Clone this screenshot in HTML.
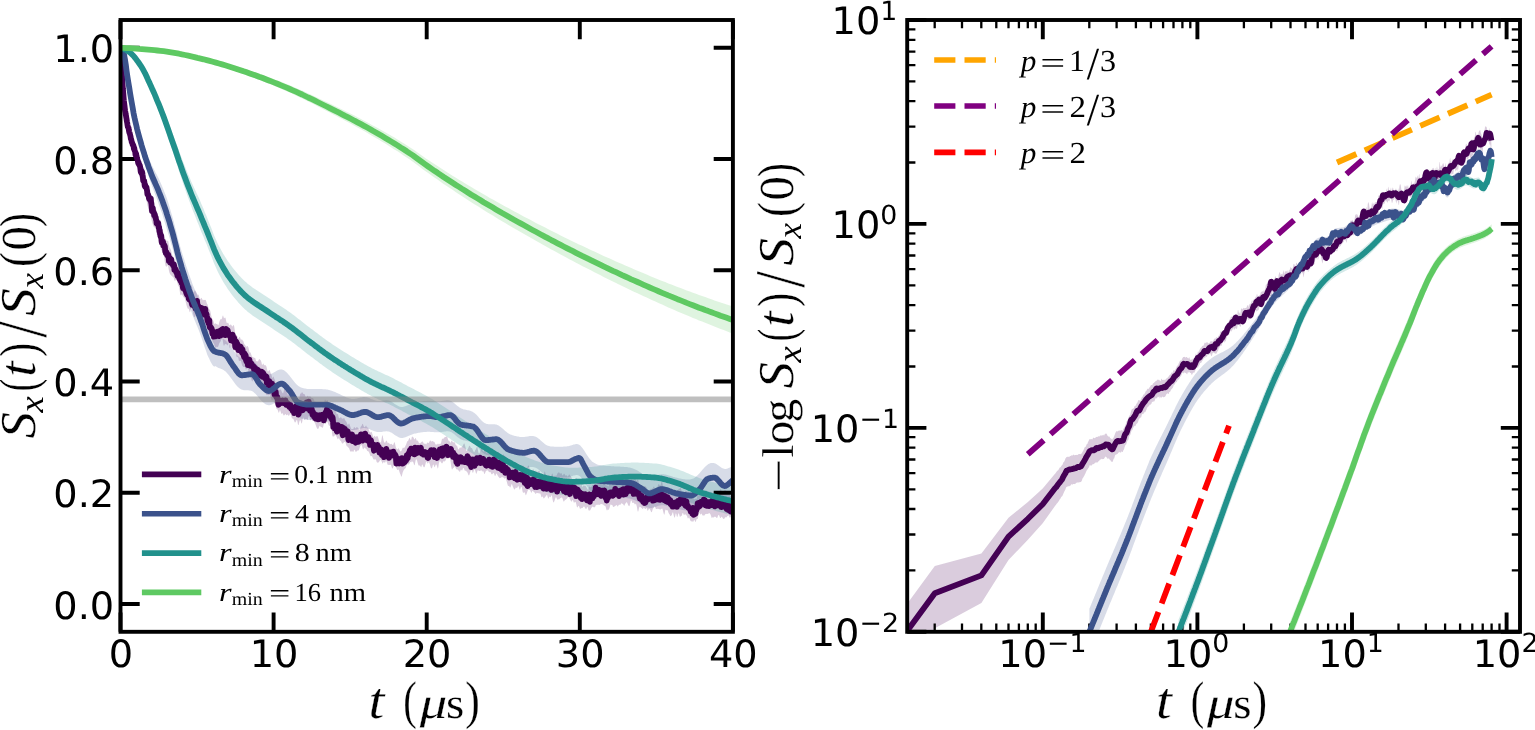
<!DOCTYPE html>
<html lang="en"><head><meta charset="utf-8"><title>Spin decay figure</title>
<style>html,body{margin:0;padding:0;background:#fff}svg{display:block;text-rendering:geometricPrecision}.tk{font-family:"DejaVu Sans","Liberation Sans",sans-serif;font-size:38.3px;fill:#000}.m{font-family:"Liberation Serif","DejaVu Serif",serif;fill:#000}.i{font-style:italic}</style></head><body>
<svg width="1535" height="730" viewBox="0 0 1535 730">
<rect width="1535" height="730" fill="#fff"/>
<defs><clipPath id="cl"><rect x="120.5" y="20.0" width="612.4" height="611.8"/></clipPath><clipPath id="cr"><rect x="907.2" y="20.0" width="612.8" height="611.8"/></clipPath></defs>
<g clip-path="url(#cl)" fill="none" stroke-linejoin="round">
<path d="M120.5 47.8L120.8 53.9L121.1 59.6L121.4 65.1L121.7 70.1L122 74.9L122.3 79.4L122.6 84L122.9 88.3L123.3 92.4L123.6 96.1L123.9 99.2L124.2 101.9L124.5 104.1L124.8 106.3L125.1 108.4L125.4 110.3L125.7 112.1L126 113.8L126.3 115.5L126.6 117.3L126.9 119.1L127.2 120.8L127.5 122.4L127.8 123.7L128.2 124.7L128.5 125.5L128.8 126.4L129.1 127.3L129.4 128.5L129.7 129.8L130 131.1L130.3 132.4L130.6 133.6L130.9 134.7L131.2 135.7L131.5 136.5L131.8 137.2L132.1 137.9L132.4 138.7L132.7 139.6L133.1 140.5L133.4 141.5L133.7 142.4L134 143.1L134.3 143.6L134.6 144L134.9 144.7L135.2 145.6L135.5 146.8L135.8 148.1L136.1 149.1L136.4 149.9L136.7 150.5L137 151L137.3 151.6L137.6 152.3L138 153.2L138.3 154.3L138.6 155.5L138.9 156.7L139.2 157.9L139.5 159.3L139.8 161L140.1 162.3L140.4 163.1L140.7 163.2L141 163.2L141.3 163.6L141.6 164.3L141.9 165.4L142.2 166.4L142.5 167.1L142.9 167.4L143.2 167.3L143.5 167.2L143.8 167.3L144.1 168L144.4 169.1L144.7 170.6L145 172.4L145.3 174.3L145.6 176.1L145.9 177.5L146.2 178.4L146.5 178.8L146.8 179.2L147.1 180.2L147.4 181.9L147.8 184.1L148.1 186.4L148.4 188.1L148.7 189L149 189.2L149.3 188.9L149.6 188.6L149.9 188.9L150.2 190L150.5 191.9L150.8 194.2L151.1 196.6L151.4 198.6L151.7 199.9L152 200.5L152.3 200.9L152.7 201.1L153 201.6L153.3 202.4L153.6 203.6L153.9 204.9L154.2 206.2L154.5 207.1L154.8 207.3L155.1 207.3L155.4 207.3L155.7 207.8L156 208.7L156.3 210.1L156.6 211.4L156.9 212.6L157.2 213.5L157.6 214.3L157.9 215.4L158.2 216.9L158.5 218.6L158.8 220.2L159.1 221.7L159.4 222.9L159.7 223.8L160 224.2L160.3 224.3L160.6 224.5L160.9 224.9L161.2 225.7L161.5 226.8L161.8 228L162.1 229.1L162.4 229.8L162.8 230.4L163.1 231.3L163.4 232.4L163.7 233.7L164 235L164.3 236.2L164.6 237.3L164.9 238.1L165.2 238.7L165.5 238.9L165.8 239.2L166.1 239.7L166.4 240.5L166.7 241.1L167 241.3L167.3 240.9L167.7 240.4L168 240.4L168.3 241.3L168.6 242.9L168.9 244.7L169.2 246.3L169.5 247.4L169.8 248L170.1 248.3L170.4 248.7L170.7 249.4L171 250.3L171.3 251.5L171.6 252.8L171.9 253.9L172.2 254.9L172.6 255.7L172.9 256.5L173.2 257.3L173.5 258.1L173.8 258.8L174.1 259.6L174.4 260.3L174.7 260.8L175 261L175.3 261L175.6 261.5L175.9 262.6L176.2 263.9L176.5 265L176.8 265.6L177.1 265.8L177.5 265.6L177.8 265.4L178.1 265.5L178.4 265.8L178.7 266.2L179 266.3L179.3 266.1L179.6 266L179.9 266.2L180.2 266.9L180.5 267.8L180.8 268.7L181.1 269.6L181.4 270.6L181.7 271.7L182 272.5L182.4 273L182.7 273.2L183 273.3L183.3 273.7L183.6 274.2L183.9 274.4L184.2 274.1L184.5 273.6L184.8 273.7L185.1 274.8L185.4 277L185.7 279.5L186 281.6L186.3 283.2L186.6 284.2L186.9 284.8L187.3 285.2L187.6 285.2L187.9 285.3L188.2 285.6L188.5 286.3L188.8 287.1L189.1 287.6L189.4 287.9L189.7 288.1L190 288.2L190.3 287.9L190.6 287.1L190.9 286L191.2 285.2L191.5 285.2L191.8 286.1L192.2 287.6L192.5 289.2L192.8 290.6L193.1 291.5L193.4 292L193.7 292.2L194 292L194.3 291.3L194.6 290.6L194.9 290.2L195.2 290.4L195.5 290.9L195.8 291.4L196.1 291.9L196.4 292.4L196.7 293.1L197.1 293.9L197.4 294.6L197.7 294.8L198 294.7L198.3 294.6L198.6 295L198.9 295.7L199.2 296.8L199.5 298L199.8 298.8L200.1 299.2L200.4 299.1L200.7 298.7L201 298.1L201.3 297.8L201.6 297.9L201.9 298.4L202.3 299.2L202.6 299.8L202.9 300.2L203.2 300.3L203.5 300L203.8 299.8L204.1 299.7L204.4 299.9L204.7 300L205 300L205.3 299.8L205.6 299.9L205.9 300.4L206.2 301.3L206.5 302.3L206.8 303.2L207.2 303.9L207.5 304.5L207.8 305.4L208.1 306.5L208.4 307.6L208.7 308.6L209 309.1L209.3 309.2L209.6 309.4L209.9 309.9L210.2 310.8L210.5 312.1L210.8 313.6L211.1 315L211.4 316.3L211.7 317.5L212.1 318.5L212.4 319.2L212.7 319.8L213 320.2L213.3 320.8L213.6 321.5L213.9 322.5L214.2 323.4L214.5 324L214.8 324L215.1 323.6L215.4 323.3L215.7 323.4L216 323.7L216.3 324L216.6 324.1L217 324.1L217.3 324.2L217.6 324.4L217.9 324.9L218.2 325.2L218.5 325L218.8 324.1L219.1 322.8L219.4 321.7L219.7 320.8L220 320.2L220.3 319.6L220.6 319.3L220.9 319.1L221.2 319.2L221.5 319.2L221.9 318.6L222.2 317.5L222.5 316.2L222.8 315.5L223.1 315.5L223.4 316.4L223.7 317.4L224 318.1L224.3 318.3L224.6 317.9L224.9 317.5L225.2 317.4L225.5 317.9L225.8 319.1L226.1 320.6L226.4 322L226.8 322.9L227.1 323.2L227.4 323.1L227.7 322.8L228 322.7L228.3 323.1L228.6 323.8L228.9 324.6L229.2 325.2L229.5 325.5L229.8 325.3L230.1 325L230.4 324.6L230.7 324.4L231 324.5L231.3 325L231.7 325.6L232 326.2L232.3 326.4L232.6 326.2L232.9 325.7L233.2 325.2L233.5 325L233.8 325.2L234.1 326.1L234.4 327.7L234.7 329.8L235 331.9L235.3 333.7L235.6 335L235.9 335.5L236.2 335.6L236.5 335.6L236.9 335.6L237.2 336L237.5 336.8L237.8 337.6L238.1 338.3L238.4 338.5L238.7 338.3L239 337.7L239.3 337L239.6 336.7L239.9 337L240.2 337.7L240.5 338.7L240.8 339.4L241.1 339.7L241.4 339.6L241.8 339.5L242.1 339.6L242.4 340L242.7 340.4L243 340.7L243.3 341.1L243.6 341.9L243.9 342.9L244.2 343.8L244.5 344.4L244.8 344.6L245.1 344.9L245.4 345.4L245.7 346.1L246 346.6L246.3 346.8L246.7 346.6L247 346.2L247.3 346L247.6 346.1L247.9 346.4L248.2 346.9L248.5 347.7L248.8 348.9L249.1 350.5L249.4 351.9L249.7 352.5L250 352.5L250.3 352.4L250.6 352.6L250.9 353.4L251.2 354.4L251.6 355.4L251.9 356.3L252.2 356.8L252.5 357L252.8 356.9L253.1 356.9L253.4 357.2L253.7 357.7L254 358L254.3 358L254.6 357.8L254.9 357.7L255.2 358.1L255.5 359L255.8 360.1L256.1 360.9L256.5 361.3L256.8 361.3L257.1 361.3L257.4 361.3L257.7 361.4L258 361.2L258.3 360.8L258.6 360.1L258.9 359.4L259.2 359.1L259.5 359.1L259.8 359.5L260.1 359.8L260.4 360L260.7 360.2L261 360.9L261.4 362.1L261.7 363.6L262 364.7L262.3 365L262.6 364.5L262.9 363.8L263.2 363.5L263.5 363.8L263.8 364.4L264.1 365L264.4 365.3L264.7 365.3L265 365.2L265.3 365.2L265.6 365.3L265.9 365.6L266.3 366.2L266.6 367.2L266.9 368.5L267.2 369.8L267.5 370.9L267.8 371.4L268.1 371.5L268.4 371.2L268.7 370.8L269 370.3L269.3 370.1L269.6 370.2L269.9 370.8L270.2 371.7L270.5 372.7L270.8 373.5L271.2 374.1L271.5 374.9L271.8 376L272.1 377.2L272.4 377.9L272.7 377.7L273 377L273.3 376.5L273.6 376.7L273.9 377.5L274.2 378.5L274.5 379.2L274.8 379.8L275.1 380.6L275.4 382.1L275.7 384.1L276 386.3L276.4 387.8L276.7 388.3L277 387.7L277.3 386.7L277.6 386L277.9 386.3L278.2 387.5L278.5 389L278.8 390.1L279.1 390.4L279.4 390.1L279.7 389.8L280 389.6L280.3 389.5L280.6 389.5L280.9 389.9L281.3 390.6L281.6 391.3L281.9 391.9L282.2 392.4L282.5 392.9L282.8 393.3L283.1 393.2L283.4 392.6L283.7 391.5L284 390.1L284.3 389.1L284.6 388.9L284.9 389.5L285.2 390.3L285.5 390.9L285.8 390.9L286.2 390.8L286.5 391L286.8 391.7L287.1 392.6L287.4 393.7L287.7 394.5L288 395L288.3 394.9L288.6 394.1L288.9 393L289.2 392.1L289.5 391.8L289.8 392.2L290.1 392.9L290.4 393.6L290.7 394.3L291.1 395L291.4 395.6L291.7 396L292 396.1L292.3 396.5L292.6 397.2L292.9 398.3L293.2 399.4L293.5 400.1L293.8 400.2L294.1 399.5L294.4 398.6L294.7 397.7L295 397.4L295.3 397.8L295.6 398.6L296 399.2L296.3 399.6L296.6 399.5L296.9 399L297.2 398.5L297.5 398.3L297.8 398.4L298.1 398.7L298.4 399.2L298.7 399.4L299 399L299.3 397.9L299.6 396.4L299.9 394.9L300.2 393.9L300.5 393.6L300.9 393.5L301.2 393.4L301.5 392.9L301.8 392.3L302.1 392.1L302.4 392.5L302.7 393.1L303 393.6L303.3 393.8L303.6 393.9L303.9 394L304.2 394.1L304.5 394.2L304.8 394.6L305.1 395.4L305.4 396.2L305.8 396.7L306.1 396.8L306.4 396.7L306.7 396.4L307 396.2L307.3 396L307.6 395.8L307.9 395.7L308.2 396L308.5 396.4L308.8 396.7L309.1 396.8L309.4 396.5L309.7 396.3L310 396.3L310.3 396.4L310.7 396.7L311 397.1L311.3 397.6L311.6 398L311.9 398.1L312.2 398L312.5 397.9L312.8 398L313.1 398.3L313.4 398.7L313.7 399.3L314 400L314.3 400.8L314.6 401.6L314.9 402.1L315.2 402.2L315.5 401.8L315.9 401.6L316.2 402L316.5 402.9L316.8 403.8L317.1 404.2L317.4 404.1L317.7 403.8L318 403.7L318.3 403.8L318.6 404.1L318.9 404.3L319.2 404.3L319.5 404.2L319.8 404.3L320.1 405.1L320.4 406.5L320.8 408L321.1 408.6L321.4 408L321.7 406.4L322 404.6L322.3 403.2L322.6 402.3L322.9 402.1L323.2 402.4L323.5 402.9L323.8 403.1L324.1 402.6L324.4 401.5L324.7 400.3L325 399.6L325.3 399.7L325.7 400.3L326 400.9L326.3 401.1L326.6 400.8L326.9 400.3L327.2 400L327.5 400.2L327.8 400.8L328.1 401.6L328.4 402.1L328.7 402.4L329 402.6L329.3 402.7L329.6 402.7L329.9 402.6L330.2 402.8L330.6 403.4L330.9 404.3L331.2 405.4L331.5 406.6L331.8 407.8L332.1 408.8L332.4 409.4L332.7 409.8L333 410L333.3 410.2L333.6 410.1L333.9 409.8L334.2 409.3L334.5 408.8L334.8 408.6L335.1 408.8L335.5 409.4L335.8 410.6L336.1 412L336.4 413.3L336.7 414.1L337 414.2L337.3 414L337.6 413.8L337.9 414.1L338.2 415L338.5 416.5L338.8 417.7L339.1 418.3L339.4 418.2L339.7 417.9L340 417.7L340.4 417.5L340.7 417.3L341 417.2L341.3 417.4L341.6 417.9L341.9 418.4L342.2 418.7L342.5 418.6L342.8 418.5L343.1 418.5L343.4 418.4L343.7 418.2L344 418L344.3 418.2L344.6 418.8L344.9 419.7L345.3 420.4L345.6 420.8L345.9 421.2L346.2 421.5L346.5 422.1L346.8 422.8L347.1 423.6L347.4 424.4L347.7 424.8L348 424.8L348.3 424.4L348.6 423.9L348.9 423.6L349.2 423.6L349.5 424.2L349.8 425L350.1 426.1L350.5 427L350.8 427.9L351.1 428.6L351.4 429L351.7 429.2L352 429.1L352.3 429L352.6 428.9L352.9 429L353.2 429L353.5 428.4L353.8 427.6L354.1 427L354.4 426.9L354.7 427.4L355 427.9L355.4 428.2L355.7 428.2L356 427.9L356.3 427.5L356.6 427.2L356.9 427.1L357.2 427.2L357.5 427.5L357.8 427.8L358.1 428.1L358.4 428.6L358.7 429.1L359 429.5L359.3 429.7L359.6 429.4L359.9 428.8L360.3 427.9L360.6 427L360.9 426.4L361.2 426.2L361.5 425.9L361.8 425.3L362.1 424.5L362.4 423.9L362.7 423.8L363 424.3L363.3 425.2L363.6 426.1L363.9 426.7L364.2 427L364.5 427.2L364.8 427.2L365.2 426.8L365.5 426.2L365.8 425.7L366.1 425.6L366.4 426.1L366.7 427L367 427.6L367.3 427.7L367.6 427.4L367.9 427.3L368.2 427.7L368.5 428.7L368.8 429.8L369.1 430.8L369.4 431.5L369.7 432.1L370.1 432.4L370.4 432.4L370.7 432.3L371 432L371.3 431.8L371.6 431.9L371.9 432.4L372.2 433.4L372.5 434.5L372.8 435.6L373.1 436.4L373.4 436.9L373.7 437L374 436.6L374.3 436.1L374.6 435.8L375 436.1L375.3 436.6L375.6 437L375.9 437L376.2 436.7L376.5 436.2L376.8 436L377.1 435.9L377.4 436.2L377.7 436.6L378 437.2L378.3 438.2L378.6 439.3L378.9 440.5L379.2 441.4L379.5 441.8L379.9 442.1L380.2 442.3L380.5 442.6L380.8 442.5L381.1 441.7L381.4 440.2L381.7 438.2L382 436.3L382.3 435.3L382.6 435.5L382.9 436.8L383.2 438.5L383.5 440.1L383.8 441.2L384.1 442.1L384.4 442.6L384.8 442.8L385.1 442.7L385.4 442.2L385.7 441.5L386 441L386.3 440.7L386.6 440.6L386.9 441L387.2 441.7L387.5 442.6L387.8 443.2L388.1 443.3L388.4 443L388.7 442.7L389 442.8L389.3 443.3L389.6 443.9L390 444.3L390.3 444.2L390.6 444.1L390.9 443.9L391.2 443.8L391.5 443.9L391.8 444.1L392.1 444.4L392.4 444.8L392.7 445L393 445.1L393.3 444.8L393.6 444.1L393.9 443.1L394.2 442.3L394.5 442.3L394.9 443.1L395.2 444.6L395.5 446.1L395.8 447.2L396.1 448L396.4 448.4L396.7 448.7L397 449.1L397.3 449.3L397.6 449.3L397.9 449.1L398.2 448.6L398.5 448.2L398.8 448.3L399.1 448.9L399.4 449.8L399.8 450.6L400.1 451.1L400.4 451.3L400.7 451.4L401 451.2L401.3 450.9L401.6 450.4L401.9 449.8L402.2 449L402.5 448.3L402.8 447.8L403.1 447.6L403.4 447.7L403.7 447.9L404 448L404.3 447.7L404.7 447.3L405 446.8L405.3 446.2L405.6 445.6L405.9 445L406.2 444.3L406.5 443.5L406.8 442.5L407.1 441.7L407.4 441.2L407.7 441.1L408 440.9L408.3 440.5L408.6 439.8L408.9 438.9L409.2 438.2L409.6 438L409.9 438.3L410.2 439.1L410.5 439.8L410.8 440.2L411.1 439.9L411.4 438.9L411.7 437.6L412 436.7L412.3 436.4L412.6 436.7L412.9 437.1L413.2 437.3L413.5 437.6L413.8 438.2L414.1 439L414.5 439.4L414.8 439.2L415.1 438.5L415.4 438L415.7 438.1L416 438.8L416.3 439.6L416.6 440.4L416.9 440.8L417.2 440.8L417.5 440.6L417.8 440.6L418.1 441L418.4 441.7L418.7 442.5L419 443.1L419.4 443.3L419.7 443.3L420 443.2L420.3 443L420.6 442.8L420.9 442.5L421.2 442.2L421.5 441.9L421.8 441.7L422.1 441.5L422.4 441.5L422.7 441.6L423 442L423.3 442.6L423.6 443.3L423.9 443.8L424.3 443.9L424.6 443.6L424.9 443.4L425.2 443.5L425.5 443.9L425.8 444.3L426.1 444.5L426.4 444.2L426.7 443.6L427 442.9L427.3 442.5L427.6 442.5L427.9 442.8L428.2 443.1L428.5 443.1L428.8 442.8L429.1 442.2L429.5 441.4L429.8 440.7L430.1 440.4L430.4 440.4L430.7 440.8L431 441.1L431.3 441.4L431.6 441.5L431.9 441.5L432.2 441.2L432.5 441L432.8 441L433.1 441.3L433.4 441.7L433.7 441.8L434 441.8L434.4 442L434.7 442.5L435 443.2L435.3 443.9L435.6 444.4L435.9 444.6L436.2 444.6L436.5 444.6L436.8 444.6L437.1 444.4L437.4 444.1L437.7 443.7L438 443.6L438.3 443.8L438.6 444.1L438.9 444.2L439.3 444.1L439.6 443.8L439.9 443.7L440.2 443.8L440.5 443.9L440.8 443.6L441.1 442.8L441.4 441.4L441.7 439.9L442 438.9L442.3 438.6L442.6 438.8L442.9 439L443.2 438.9L443.5 438.5L443.8 438L444.2 437.7L444.5 437.4L444.8 437.1L445.1 436.8L445.4 436.9L445.7 437L446 437.1L446.3 436.8L446.6 436.5L446.9 436.3L447.2 436.7L447.5 437.6L447.8 438.8L448.1 439.8L448.4 440.5L448.7 440.7L449.1 440.7L449.4 440.9L449.7 441.5L450 442.2L450.3 442.7L450.6 442.6L450.9 442L451.2 441.3L451.5 440.8L451.8 440.6L452.1 440.9L452.4 441.5L452.7 442L453 442.3L453.3 442.4L453.6 442.3L454 442.2L454.3 442.2L454.6 442.3L454.9 442.8L455.2 443.5L455.5 444.4L455.8 445.1L456.1 445.6L456.4 445.6L456.7 445.6L457 445.9L457.3 446.5L457.6 447.5L457.9 448.5L458.2 449.2L458.5 449.5L458.9 449.2L459.2 448.6L459.5 447.9L459.8 447.4L460.1 447.4L460.4 447.6L460.7 447.8L461 447.8L461.3 447.6L461.6 447.3L461.9 447L462.2 446.7L462.5 446.2L462.8 445.7L463.1 445L463.4 444.4L463.8 443.7L464.1 443.4L464.4 443.6L464.7 444.3L465 445.4L465.3 446.5L465.6 447.7L465.9 449L466.2 450.2L466.5 450.9L466.8 450.8L467.1 450.3L467.4 449.7L467.7 449.3L468 448.8L468.3 448.1L468.6 447.2L469 446.3L469.3 445.8L469.6 445.7L469.9 446L470.2 446.5L470.5 447.1L470.8 447.7L471.1 448L471.4 448L471.7 448L472 448.2L472.3 448.7L472.6 449.4L472.9 450.2L473.2 450.9L473.5 451.6L473.9 452L474.2 452.2L474.5 451.9L474.8 451.3L475.1 450.6L475.4 450L475.7 449.5L476 448.9L476.3 448.3L476.6 447.6L476.9 447.1L477.2 447L477.5 447.7L477.8 449.3L478.1 451.1L478.4 452.5L478.8 453.3L479.1 453.4L479.4 453.2L479.7 452.8L480 452.1L480.3 451.1L480.6 449.8L480.9 448.7L481.2 447.9L481.5 447.7L481.8 448.2L482.1 449.1L482.4 450.2L482.7 451.1L483 451.6L483.3 451.7L483.7 451.4L484 450.9L484.3 450.6L484.6 450.2L484.9 449.8L485.2 449.4L485.5 449.4L485.8 449.9L486.1 450.9L486.4 452.1L486.7 452.9L487 453.2L487.3 453L487.6 452.4L487.9 451.7L488.2 451.3L488.6 451.4L488.9 452L489.2 452.5L489.5 452.5L489.8 451.9L490.1 451.1L490.4 450.7L490.7 450.9L491 451.3L491.3 451.4L491.6 451.4L491.9 451.5L492.2 451.7L492.5 452.1L492.8 452.7L493.1 453.4L493.5 454.2L493.8 454.8L494.1 455.1L494.4 454.9L494.7 454.3L495 453.5L495.3 452.6L495.6 452L495.9 451.9L496.2 452.4L496.5 453L496.8 453.4L497.1 453.3L497.4 452.7L497.7 452L498 451.7L498.4 452L498.7 452.7L499 453.6L499.3 454.2L499.6 454.5L499.9 454.3L500.2 454.1L500.5 453.9L500.8 454.1L501.1 454.6L501.4 455.3L501.7 456.1L502 456.6L502.3 456.6L502.6 455.9L502.9 455L503.2 454.4L503.6 454.5L503.9 454.9L504.2 455.4L504.5 455.7L504.8 455.9L505.1 455.9L505.4 456.2L505.7 456.9L506 458L506.3 459.1L506.6 460L506.9 460.7L507.2 461.3L507.5 461.9L507.8 462.3L508.1 462.3L508.5 462.1L508.8 461.9L509.1 461.8L509.4 462L509.7 462.6L510 463.5L510.3 464.5L510.6 465.5L510.9 466.1L511.2 466.5L511.5 466.7L511.8 466.7L512.1 466.7L512.4 466.7L512.7 466.8L513 467L513.4 467.2L513.7 467.4L514 467.3L514.3 466.9L514.6 466.2L514.9 465.4L515.2 464.7L515.5 464.4L515.8 464.6L516.1 465.4L516.4 466.6L516.7 467.7L517 468.1L517.3 467.7L517.6 467L517.9 466.4L518.3 466L518.6 466L518.9 466.1L519.2 466.2L519.5 466.1L519.8 465.9L520.1 465.8L520.4 466L520.7 466.5L521 467.2L521.3 467.5L521.6 467.4L521.9 466.8L522.2 466.1L522.5 465.7L522.8 465.5L523.2 465.7L523.5 465.9L523.8 466.2L524.1 466.4L524.4 466.7L524.7 467.2L525 467.9L525.3 468.5L525.6 468.9L525.9 468.7L526.2 468L526.5 467.3L526.8 467L527.1 467L527.4 467L527.7 466.6L528.1 466L528.4 465.4L528.7 465.5L529 466.2L529.3 467.3L529.6 468.2L529.9 468.9L530.2 469.5L530.5 469.9L530.8 470.4L531.1 470.8L531.4 471.1L531.7 471.3L532 471.2L532.3 470.6L532.6 469.9L533 469.4L533.3 469.2L533.6 469.5L533.9 470.2L534.2 470.9L534.5 471.5L534.8 471.7L535.1 471.5L535.4 471L535.7 470.6L536 470.5L536.3 470.8L536.6 471.4L536.9 471.9L537.2 471.9L537.5 471.6L537.9 471.4L538.2 471.3L538.5 471.3L538.8 471.1L539.1 470.7L539.4 470.7L539.7 471.3L540 472.6L540.3 473.9L540.6 474.7L540.9 474.7L541.2 474L541.5 473.2L541.8 472.9L542.1 473.3L542.4 474.2L542.7 475L543.1 475.6L543.4 475.6L543.7 475.1L544 473.9L544.3 472.6L544.6 471.6L544.9 471.5L545.2 472.4L545.5 474L545.8 475.6L546.1 476.4L546.4 476.4L546.7 476L547 475.8L547.3 475.9L547.6 476.1L548 476.1L548.3 475.9L548.6 475.6L548.9 475.3L549.2 475.3L549.5 475.6L549.8 476.2L550.1 477.1L550.4 477.9L550.7 478L551 477.3L551.3 476L551.6 474.8L551.9 473.9L552.2 473.5L552.5 473.8L552.9 474.7L553.2 475.9L553.5 476.8L553.8 476.9L554.1 476.5L554.4 476L554.7 475.7L555 475.7L555.3 475.7L555.6 475.7L555.9 475.7L556.2 475.7L556.5 475.6L556.8 475.3L557.1 474.5L557.4 473.6L557.8 473L558.1 472.6L558.4 472.5L558.7 472.4L559 472.4L559.3 472.6L559.6 473.1L559.9 473.6L560.2 473.8L560.5 473.6L560.8 473.3L561.1 473.1L561.4 473.2L561.7 473.6L562 474.4L562.3 475.1L562.7 475.4L563 475.3L563.3 474.7L563.6 474.1L563.9 473.7L564.2 473.7L564.5 474.1L564.8 474.6L565.1 475.1L565.4 475.6L565.7 475.7L566 475.5L566.3 475.3L566.6 475.3L566.9 475.7L567.2 476.2L567.6 476.6L567.9 476.6L568.2 476.1L568.5 475.4L568.8 474.7L569.1 474.5L569.4 474.6L569.7 475L570 475.4L570.3 475.7L570.6 476L570.9 476.4L571.2 477L571.5 477.7L571.8 478.5L572.1 479.2L572.5 479.7L572.8 479.9L573.1 480.1L573.4 480.6L573.7 481.2L574 481.6L574.3 481.6L574.6 481.3L574.9 480.8L575.2 480.1L575.5 479.1L575.8 478.2L576.1 477.8L576.4 478L576.7 478.8L577 479.8L577.4 480.8L577.7 481.8L578 482.6L578.3 483L578.6 482.9L578.9 482.9L579.2 483.3L579.5 484L579.8 484.9L580.1 485.4L580.4 485.2L580.7 484.5L581 483.7L581.3 483.7L581.6 484.4L581.9 485.6L582.2 486.6L582.6 486.9L582.9 486.6L583.2 486L583.5 485.4L583.8 485.3L584.1 485.5L584.4 485.7L584.7 485.8L585 485.7L585.3 485.7L585.6 485.9L585.9 486.3L586.2 486.9L586.5 487.5L586.8 487.9L587.1 488.4L587.5 489.1L587.8 489.7L588.1 489.7L588.4 489L588.7 487.9L589 486.9L589.3 486.5L589.6 486.6L589.9 487L590.2 487.2L590.5 487.2L590.8 487.1L591.1 487L591.4 486.8L591.7 486.5L592 485.8L592.4 485.1L592.7 484.7L593 485L593.3 485.4L593.6 485.5L593.9 484.9L594.2 483.9L594.5 483L594.8 482.5L595.1 482.4L595.4 482.3L595.7 482.3L596 482.2L596.3 481.9L596.6 481.5L596.9 481.3L597.3 481.4L597.6 481.6L597.9 482L598.2 482.5L598.5 482.9L598.8 483.2L599.1 483.3L599.4 483.1L599.7 482.6L600 482.1L600.3 481.6L600.6 481.3L600.9 481.2L601.2 481.2L601.5 481L601.8 480.7L602.2 480.4L602.5 480.2L602.8 480.3L603.1 480.7L603.4 481.3L603.7 481.7L604 482.1L604.3 482.5L604.6 483.2L604.9 484.1L605.2 484.8L605.5 485.1L605.8 485.2L606.1 485.2L606.4 485.4L606.7 485.4L607.1 485.4L607.4 485.4L607.7 485.7L608 486.3L608.3 486.6L608.6 486.2L608.9 485.3L609.2 484.2L609.5 483.2L609.8 482.6L610.1 482.2L610.4 482L610.7 482.1L611 482.3L611.3 482.4L611.6 482.2L612 481.8L612.3 481.3L612.6 481L612.9 480.9L613.2 481L613.5 481.3L613.8 481.9L614.1 482.6L614.4 483.1L614.7 483.2L615 482.9L615.3 482.4L615.6 482L615.9 481.9L616.2 482.1L616.5 482.5L616.9 482.9L617.2 483.4L617.5 484.1L617.8 484.6L618.1 484.9L618.4 484.8L618.7 484.4L619 484L619.3 483.7L619.6 483.4L619.9 483.3L620.2 483.3L620.5 483.1L620.8 482.6L621.1 481.7L621.4 480.9L621.7 480.1L622.1 479.3L622.4 478.7L622.7 478.4L623 478.7L623.3 479.6L623.6 480.8L623.9 482L624.2 482.7L624.5 482.4L624.8 481.3L625.1 479.6L625.4 478.1L625.7 477.2L626 476.8L626.3 477L626.6 477.5L627 478.1L627.3 478.5L627.6 478.3L627.9 477.8L628.2 477.4L628.5 477.2L628.8 477.7L629.1 478.6L629.4 479.5L629.7 479.9L630 479.9L630.3 479.7L630.6 479.5L630.9 479.4L631.2 479.3L631.5 479.2L631.9 479.3L632.2 479.5L632.5 479.7L632.8 479.8L633.1 479.7L633.4 479.6L633.7 479.5L634 479.2L634.3 478.9L634.6 478.5L634.9 478.2L635.2 478.3L635.5 478.9L635.8 479.8L636.1 480.6L636.4 480.9L636.8 480.7L637.1 480.1L637.4 479.7L637.7 479.5L638 479.6L638.3 480.2L638.6 481.4L638.9 482.8L639.2 484.3L639.5 485.6L639.8 486.5L640.1 487.2L640.4 487.5L640.7 487.8L641 488L641.3 488.2L641.7 488.2L642 488.2L642.3 488L642.6 487.6L642.9 487.2L643.2 486.8L643.5 486.4L643.8 486.1L644.1 485.9L644.4 485.9L644.7 486.2L645 486.5L645.3 486.6L645.6 486.6L645.9 486.6L646.2 486.9L646.6 487.7L646.9 488.8L647.2 489.7L647.5 490.2L647.8 490.4L648.1 490.4L648.4 490.6L648.7 490.9L649 491.3L649.3 491.5L649.6 491.3L649.9 490.7L650.2 489.8L650.5 489.1L650.8 488.7L651.1 488.7L651.5 488.8L651.8 488.9L652.1 488.9L652.4 488.6L652.7 488.2L653 487.7L653.3 487.2L653.6 486.7L653.9 486.5L654.2 486.7L654.5 487.6L654.8 488.9L655.1 490.2L655.4 491.2L655.7 491.6L656 491.3L656.3 490.6L656.7 489.7L657 488.6L657.3 487.6L657.6 486.6L657.9 485.6L658.2 484.8L658.5 484.2L658.8 484L659.1 484.2L659.4 484.7L659.7 485.3L660 485.6L660.3 485.6L660.6 485L660.9 484L661.2 482.7L661.6 481.7L661.9 481.5L662.2 482.2L662.5 483.6L662.8 485.4L663.1 487.1L663.4 488.8L663.7 490.4L664 491.8L664.3 492.8L664.6 493.1L664.9 492.7L665.2 491.7L665.5 490.4L665.8 489.3L666.1 488.7L666.5 488.8L666.8 489.3L667.1 490L667.4 490.3L667.7 490.3L668 490L668.3 489.6L668.6 489.1L668.9 488.6L669.2 488.5L669.5 489.1L669.8 490.6L670.1 492.6L670.4 494.4L670.7 495.3L671 495L671.4 493.9L671.7 492.4L672 491.1L672.3 490.6L672.6 491.1L672.9 492.2L673.2 493.4L673.5 494L673.8 493.7L674.1 492.9L674.4 492.4L674.7 492.5L675 493.1L675.3 493.7L675.6 493.6L675.9 492.9L676.3 491.8L676.6 490.8L676.9 490.3L677.2 490.1L677.5 490.2L677.8 490.3L678.1 490L678.4 489.5L678.7 489L679 488.8L679.3 488.8L679.6 488.7L679.9 488.5L680.2 488.2L680.5 488L680.8 488.3L681.2 489.2L681.5 490.5L681.8 491.7L682.1 492.5L682.4 492.8L682.7 492.8L683 492.6L683.3 492.6L683.6 492.6L683.9 492.6L684.2 492.5L684.5 492.2L684.8 491.9L685.1 491.5L685.4 491L685.7 490.7L686.1 490.7L686.4 490.9L686.7 491.2L687 491.6L687.3 491.8L687.6 491.8L687.9 491.6L688.2 491.3L688.5 491.3L688.8 491.7L689.1 492.7L689.4 494L689.7 495.5L690 496.8L690.3 497.7L690.6 497.8L691 497.3L691.3 496.3L691.6 495.6L691.9 495.3L692.2 495.5L692.5 496.2L692.8 497L693.1 497.6L693.4 498L693.7 498.3L694 498.6L694.3 499.1L694.6 499.4L694.9 499.2L695.2 498.7L695.5 498.5L695.8 498.7L696.2 499.1L696.5 499L696.8 498.1L697.1 496.7L697.4 495.3L697.7 494.5L698 494.3L698.3 494.7L698.6 495.3L698.9 495.5L699.2 495.2L699.5 494.3L699.8 493.1L700.1 491.9L700.4 491L700.7 490.7L701.1 490.9L701.4 491.1L701.7 491L702 490.6L702.3 489.9L702.6 489.5L702.9 489.6L703.2 490L703.5 490.6L703.8 491.2L704.1 491.8L704.4 492.2L704.7 492.4L705 492L705.3 491.2L705.6 490.4L706 490L706.3 490.2L706.6 490.9L706.9 491.9L707.2 492.8L707.5 493.5L707.8 493.9L708.1 493.9L708.4 493.6L708.7 493.1L709 492.5L709.3 491.9L709.6 491.5L709.9 491.5L710.2 491.8L710.5 492.1L710.9 492.4L711.2 492.4L711.5 492.3L711.8 492.2L712.1 492.3L712.4 492.5L712.7 492.7L713 493L713.3 492.9L713.6 492.5L713.9 491.9L714.2 491.6L714.5 492L714.8 492.8L715.1 493.6L715.4 494.1L715.8 494L716.1 493.6L716.4 493L716.7 492.5L717 492.1L717.3 492L717.6 492L717.9 492.1L718.2 492.2L718.5 492.3L718.8 492.4L719.1 492.3L719.4 491.8L719.7 491L720 490L720.3 489.3L720.7 489.1L721 489.5L721.3 490.2L721.6 491L721.9 491.7L722.2 492.1L722.5 492.4L722.8 492.7L723.1 493.3L723.4 493.8L723.7 493.8L724 493L724.3 491.5L724.6 490.1L724.9 489.5L725.2 489.7L725.6 490.5L725.9 491.4L726.2 492L726.5 492.2L726.8 492.1L727.1 491.9L727.4 491.7L727.7 491.5L728 491.4L728.3 491.2L728.6 491.2L728.9 491.5L729.2 492.2L729.5 493.2L729.8 494.4L730.1 495.4L730.5 496L730.8 496.2L731.1 496.1L731.4 496L731.7 495.9L732 496L732.3 496.5L732.6 497.4L732.9 498.1L732.9 517.5L732.6 517.5L732.3 517.4L732 517.1L731.7 516.7L731.4 516.4L731.1 516.3L730.8 516.6L730.5 517L730.1 517.5L729.8 517.8L729.5 517.6L729.2 516.8L728.9 515.9L728.6 515.3L728.3 515.4L728 515.7L727.7 515.9L727.4 516.1L727.1 516.4L726.8 516.8L726.5 517.2L726.2 517.4L725.9 517.3L725.6 517.2L725.2 517.3L724.9 517.7L724.6 518.2L724.3 518.7L724 519L723.7 519.1L723.4 518.9L723.1 518.6L722.8 518.3L722.5 517.8L722.2 517.2L721.9 516.8L721.6 516.7L721.3 517L721 517.5L720.7 518L720.3 518.1L720 517.8L719.7 517.1L719.4 516.1L719.1 515.3L718.8 515L718.5 515L718.2 515.4L717.9 516.1L717.6 516.9L717.3 517.7L717 518.1L716.7 518.1L716.4 517.8L716.1 517.3L715.8 517L715.4 516.8L715.1 516.7L714.8 516.7L714.5 516.7L714.2 516.8L713.9 517.2L713.6 517.5L713.3 517.5L713 517.2L712.7 517.1L712.4 517.4L712.1 517.9L711.8 518.1L711.5 517.6L711.2 516.6L710.9 515.5L710.5 514.6L710.2 513.9L709.9 513.6L709.6 513.3L709.3 513.2L709 513.1L708.7 513.3L708.4 513.7L708.1 514L707.8 514.1L707.5 514L707.2 513.8L706.9 513.7L706.6 513.9L706.3 514L706 514.1L705.6 514.1L705.3 514.3L705 514.6L704.7 515.2L704.4 515.6L704.1 515.6L703.8 515.5L703.5 515.5L703.2 515.5L702.9 515.6L702.6 515.5L702.3 515.1L702 514.4L701.7 513.8L701.4 513.6L701.1 514L700.7 514.4L700.4 514.4L700.1 514.1L699.8 513.6L699.5 513L699.2 512.7L698.9 513L698.6 514.2L698.3 516.1L698 518L697.7 519L697.4 519.1L697.1 518.9L696.8 518.9L696.5 519.5L696.2 520.6L695.8 521.6L695.5 522.1L695.2 521.8L694.9 521L694.6 520.2L694.3 519.8L694 520.1L693.7 520.9L693.4 521.5L693.1 521.7L692.8 521.6L692.5 521.6L692.2 521.6L691.9 521.6L691.6 521.4L691.3 521.3L691 521.2L690.6 520.9L690.3 520.4L690 519.6L689.7 518.7L689.4 518L689.1 517.6L688.8 517.7L688.5 518.1L688.2 518.4L687.9 518.5L687.6 518L687.3 517L687 516L686.7 515.4L686.4 515.3L686.1 515.3L685.7 514.8L685.4 514.3L685.1 514.1L684.8 514.3L684.5 514.7L684.2 515L683.9 515L683.6 514.6L683.3 513.8L683 513.1L682.7 513L682.4 513.5L682.1 514.5L681.8 515.4L681.5 515.9L681.2 516.1L680.8 516.2L680.5 516.5L680.2 516.8L679.9 516.7L679.6 516L679.3 514.8L679 513.8L678.7 513.3L678.4 513.6L678.1 514.4L677.8 515.5L677.5 516.6L677.2 517.2L676.9 516.8L676.6 515.4L676.3 514L675.9 513.3L675.6 513.9L675.3 515.4L675 516.9L674.7 517.7L674.4 517.6L674.1 516.8L673.8 515.7L673.5 514.4L673.2 513.1L672.9 512.3L672.6 512.4L672.3 513.3L672 514.4L671.7 515.2L671.4 515.6L671 515.8L670.7 516.1L670.4 516.2L670.1 515.8L669.8 515L669.5 514.3L669.2 513.9L668.9 513.5L668.6 513L668.3 512.2L668 511.3L667.7 510.6L667.4 510.2L667.1 510.1L666.8 510.2L666.5 510.2L666.1 510L665.8 509.6L665.5 509.7L665.2 510.6L664.9 512.3L664.6 513.9L664.3 514.7L664 514.5L663.7 513.6L663.4 512.5L663.1 511.3L662.8 510.1L662.5 509L662.2 508.4L661.9 508.4L661.6 508.7L661.2 509.1L660.9 509.4L660.6 509.4L660.3 509.3L660 509.2L659.7 509.2L659.4 509.3L659.1 509.2L658.8 509.1L658.5 508.9L658.2 508.8L657.9 508.8L657.6 508.8L657.3 508.8L657 509L656.7 509.1L656.3 509.1L656 508.9L655.7 508.4L655.4 507.8L655.1 507L654.8 506.4L654.5 506.3L654.2 506.7L653.9 507.3L653.6 507.8L653.3 508.2L653 508.6L652.7 509.3L652.4 510.3L652.1 511.3L651.8 512L651.5 512.3L651.1 512L650.8 511.3L650.5 510.4L650.2 509.7L649.9 509.2L649.6 509L649.3 508.8L649 508.8L648.7 509.2L648.4 509.8L648.1 510.6L647.8 510.9L647.5 510.5L647.2 509.4L646.9 508.4L646.6 508L646.2 508.3L645.9 508.8L645.6 509L645.3 508.9L645 508.7L644.7 508.5L644.4 508.2L644.1 507.7L643.8 507.6L643.5 507.9L643.2 508.5L642.9 509.1L642.6 509.1L642.3 508.7L642 508.2L641.7 507.9L641.3 507.7L641 507.5L640.7 507.2L640.4 507L640.1 506.8L639.8 506.8L639.5 506.9L639.2 507.5L638.9 508.6L638.6 510.1L638.3 511.3L638 511.7L637.7 511.3L637.4 510L637.1 508.3L636.8 506.5L636.4 504.9L636.1 504L635.8 503.8L635.5 504.1L635.2 504.4L634.9 504.4L634.6 504L634.3 503.5L634 502.9L633.7 502.6L633.4 502.7L633.1 502.9L632.8 503.1L632.5 502.9L632.2 502.4L631.9 501.6L631.5 500.8L631.2 500.5L630.9 500.8L630.6 501.6L630.3 502.9L630 504.3L629.7 505.4L629.4 506L629.1 506.2L628.8 506.1L628.5 505.7L628.2 505.1L627.9 504.4L627.6 503.7L627.3 503L627 502.4L626.6 502.2L626.3 502.3L626 502.7L625.7 503.2L625.4 503.6L625.1 504.1L624.8 504.7L624.5 505.4L624.2 505.7L623.9 505.6L623.6 505.1L623.3 504.5L623 504.1L622.7 504L622.4 503.8L622.1 503.5L621.7 503.2L621.4 503.2L621.1 503.7L620.8 504.3L620.5 504.7L620.2 504.8L619.9 504.8L619.6 504.7L619.3 504.7L619 504.8L618.7 505.1L618.4 505.6L618.1 506.2L617.8 506.5L617.5 506.4L617.2 505.8L616.9 505.3L616.5 505L616.2 505.2L615.9 505.6L615.6 505.8L615.3 505.8L615 506L614.7 506.2L614.4 506.5L614.1 506.7L613.8 506.8L613.5 507L613.2 506.9L612.9 506.5L612.6 505.7L612.3 505.1L612 504.9L611.6 504.9L611.3 504.8L611 504.6L610.7 504.4L610.4 504.8L610.1 505.8L609.8 506.9L609.5 508L609.2 508.8L608.9 509.5L608.6 509.8L608.3 509.7L608 509.5L607.7 509.6L607.4 510L607.1 510.4L606.7 510.3L606.4 509.6L606.1 508.5L605.8 507.3L605.5 506.4L605.2 505.9L604.9 505.7L604.6 505.8L604.3 505.8L604 505.6L603.7 505.2L603.4 504.8L603.1 504.4L602.8 504.3L602.5 504.3L602.2 504.4L601.8 504.3L601.5 504.1L601.2 504L600.9 504.1L600.6 504.3L600.3 504.4L600 504.6L599.7 504.7L599.4 504.9L599.1 504.9L598.8 504.9L598.5 504.8L598.2 504.6L597.9 504.5L597.6 504.7L597.3 505.1L596.9 505.3L596.6 505L596.3 504.7L596 504.8L595.7 505.4L595.4 506.2L595.1 506.9L594.8 507.2L594.5 507.2L594.2 507.2L593.9 507.3L593.6 507.3L593.3 507L593 506.7L592.7 506.6L592.4 506.8L592 507.1L591.7 507.5L591.4 508L591.1 508.6L590.8 509.3L590.5 509.8L590.2 510.2L589.9 510.4L589.6 510.4L589.3 510.5L589 510.6L588.7 510.5L588.4 510L588.1 508.8L587.8 507.7L587.5 507L587.1 507L586.8 507.7L586.5 508.4L586.2 508.9L585.9 509L585.6 508.7L585.3 508.3L585 507.8L584.7 507.2L584.4 506.7L584.1 506.4L583.8 506.4L583.5 506.7L583.2 507.1L582.9 507.6L582.6 507.9L582.2 508.1L581.9 508.3L581.6 508.3L581.3 508.1L581 508.1L580.7 508.4L580.4 508.9L580.1 509L579.8 508.5L579.5 507.6L579.2 506.8L578.9 506.1L578.6 505.8L578.3 505.9L578 506.4L577.7 507.1L577.4 507.6L577 507.3L576.7 506.3L576.4 504.8L576.1 503.4L575.8 502.5L575.5 502L575.2 501.9L574.9 502L574.6 502.3L574.3 502.7L574 502.8L573.7 502.3L573.4 501.5L573.1 500.5L572.8 500L572.5 500.1L572.1 500.7L571.8 501.4L571.5 501.6L571.2 501.4L570.9 501L570.6 500.4L570.3 499.8L570 499.2L569.7 498.6L569.4 498.1L569.1 497.6L568.8 497.2L568.5 497L568.2 497L567.9 497.3L567.6 497.8L567.2 498.3L566.9 498.8L566.6 499L566.3 499.2L566 499.4L565.7 499.6L565.4 499.9L565.1 500.1L564.8 500.3L564.5 500.8L564.2 501.3L563.9 501.6L563.6 501.5L563.3 500.9L563 500L562.7 499L562.3 498.1L562 497.6L561.7 497.4L561.4 497.5L561.1 497.8L560.8 497.9L560.5 498.1L560.2 498.2L559.9 498.5L559.6 498.9L559.3 499.3L559 499.4L558.7 499.3L558.4 499.3L558.1 499.4L557.8 499.6L557.4 499.7L557.1 499.3L556.8 498.6L556.5 497.8L556.2 497.3L555.9 497.2L555.6 497.6L555.3 498.3L555 499.3L554.7 500.3L554.4 501.1L554.1 501.8L553.8 502.3L553.5 502.4L553.2 502.1L552.9 501L552.5 499.3L552.2 497.4L551.9 495.8L551.6 495.2L551.3 495.5L551 496.3L550.7 497L550.4 497.2L550.1 497L549.8 496.7L549.5 496.5L549.2 496.9L548.9 497.7L548.6 498.5L548.3 498.8L548 498.1L547.6 496.8L547.3 495.6L547 495L546.7 495.1L546.4 495.4L546.1 495.8L545.8 496.2L545.5 496.5L545.2 496.9L544.9 497.3L544.6 497.7L544.3 498.1L544 498.4L543.7 498.4L543.4 498L543.1 497.3L542.7 496.6L542.4 496.5L542.1 496.9L541.8 497.3L541.5 497.2L541.2 496.5L540.9 495.3L540.6 494.2L540.3 493.6L540 493.5L539.7 493.4L539.4 493.4L539.1 493.3L538.8 493.3L538.5 493.3L538.2 493.3L537.9 493.2L537.5 493.1L537.2 492.9L536.9 492.8L536.6 492.9L536.3 493.2L536 493.7L535.7 494L535.4 493.8L535.1 493.3L534.8 492.7L534.5 492.4L534.2 492.3L533.9 492.1L533.6 491.8L533.3 491.4L533 491L532.6 490.9L532.3 491.1L532 491.7L531.7 492.4L531.4 492.7L531.1 492.4L530.8 491.7L530.5 490.9L530.2 490.4L529.9 490.1L529.6 490.1L529.3 490L529 489.9L528.7 489.7L528.4 489.8L528.1 490.1L527.7 490.7L527.4 491.5L527.1 492.4L526.8 493.3L526.5 494.1L526.2 494.8L525.9 495.2L525.6 494.9L525.3 494.1L525 493.1L524.7 492.5L524.4 492.3L524.1 492.4L523.8 492.7L523.5 492.8L523.2 492.7L522.8 492.2L522.5 491.2L522.2 489.6L521.9 488.1L521.6 487.1L521.3 486.8L521 487.1L520.7 487.8L520.4 488.7L520.1 489.4L519.8 489.7L519.5 489.3L519.2 488.4L518.9 487.2L518.6 486.3L518.3 486.1L517.9 486.5L517.6 487.1L517.3 487.7L517 488.1L516.7 488.1L516.4 487.9L516.1 487.5L515.8 487.5L515.5 488L515.2 488.7L514.9 489.2L514.6 489.4L514.3 489.4L514 489.1L513.7 488.5L513.4 487.8L513 487L512.7 486.3L512.4 485.4L512.1 484.5L511.8 484.1L511.5 484.4L511.2 485.2L510.9 486.2L510.6 487L510.3 487.4L510 487.4L509.7 487L509.4 486.4L509.1 486L508.8 485.8L508.5 485.9L508.1 485.9L507.8 485.5L507.5 484.6L507.2 483.4L506.9 482.2L506.6 481.3L506.3 480.3L506 479.3L505.7 478.3L505.4 477.9L505.1 478.1L504.8 478.5L504.5 478.7L504.2 478.4L503.9 478L503.6 477.6L503.2 477.5L502.9 477.4L502.6 477.2L502.3 476.9L502 476.8L501.7 477L501.4 477.4L501.1 477.7L500.8 477.8L500.5 478L500.2 478.1L499.9 478.2L499.6 478L499.3 477.7L499 477.4L498.7 477.1L498.4 476.7L498 476.1L497.7 475.5L497.4 474.9L497.1 474.4L496.8 473.8L496.5 473.6L496.2 473.8L495.9 474.5L495.6 475.3L495.3 475.9L495 476L494.7 475.5L494.4 474.7L494.1 473.8L493.8 473.3L493.5 473.1L493.1 473.3L492.8 473.5L492.5 473.9L492.2 474.2L491.9 474.3L491.6 474.3L491.3 474L491 473.3L490.7 472.6L490.4 472L490.1 471.9L489.8 472.1L489.5 472.3L489.2 472.3L488.9 471.9L488.6 471.4L488.2 470.8L487.9 470.4L487.6 470.3L487.3 470.4L487 470.5L486.7 470.6L486.4 470.7L486.1 470.9L485.8 471.2L485.5 471.9L485.2 472.7L484.9 473.6L484.6 474.1L484.3 474L484 473.2L483.7 472.1L483.3 471.2L483 470.9L482.7 471.2L482.4 471.6L482.1 471.6L481.8 471.1L481.5 470.5L481.2 470.1L480.9 470.2L480.6 470.5L480.3 470.9L480 471L479.7 470.9L479.4 470.9L479.1 470.9L478.8 470.8L478.4 470.5L478.1 470.2L477.8 470.2L477.5 470.7L477.2 471.5L476.9 472.5L476.6 473.4L476.3 473.7L476 473.4L475.7 472.5L475.4 471.3L475.1 470.3L474.8 469.6L474.5 469.3L474.2 469.5L473.9 470.3L473.5 471.5L473.2 472.6L472.9 473L472.6 472.6L472.3 471.7L472 470.8L471.7 470.3L471.4 470.2L471.1 470.4L470.8 470.8L470.5 471.5L470.2 472.3L469.9 473.3L469.6 474.3L469.3 475.1L469 475.4L468.6 475.3L468.3 474.8L468 474L467.7 473.1L467.4 472.5L467.1 472.1L466.8 471.8L466.5 471.5L466.2 471.1L465.9 470.8L465.6 470.7L465.3 470.7L465 470.7L464.7 470.4L464.4 469.8L464.1 468.9L463.8 468.3L463.4 467.9L463.1 467.9L462.8 468.5L462.5 469.5L462.2 470.4L461.9 470.6L461.6 470.3L461.3 469.8L461 469.5L460.7 469.9L460.4 470.8L460.1 471.8L459.8 472.1L459.5 471.7L459.2 471L458.9 470.6L458.5 470.6L458.2 470.5L457.9 470.1L457.6 469.5L457.3 469.2L457 469.2L456.7 469.4L456.4 469.3L456.1 468.9L455.8 468.2L455.5 467.5L455.2 467L454.9 466.6L454.6 466.6L454.3 466.8L454 467.4L453.6 467.8L453.3 468.1L453 468.3L452.7 468.8L452.4 469.3L452.1 469.5L451.8 469.2L451.5 468.1L451.2 466.4L450.9 464.2L450.6 462L450.3 459.9L450 458.4L449.7 457.7L449.4 457.7L449.1 458L448.7 458.4L448.4 458.6L448.1 458.8L447.8 458.8L447.5 458.7L447.2 458.5L446.9 458.3L446.6 458.3L446.3 458.8L446 459.5L445.7 460.2L445.4 460.7L445.1 461L444.8 461.3L444.5 461.4L444.2 461.4L443.8 461.2L443.5 461.2L443.2 461.6L442.9 462.3L442.6 463L442.3 463.3L442 463.4L441.7 463.2L441.4 462.8L441.1 462.4L440.8 462L440.5 461.6L440.2 461.3L439.9 461.1L439.6 461.2L439.3 461.9L438.9 463.3L438.6 465.3L438.3 467.3L438 468.5L437.7 468.5L437.4 467.6L437.1 466.5L436.8 465.5L436.5 464.8L436.2 464.4L435.9 464.4L435.6 464.9L435.3 465.8L435 466.8L434.7 467.3L434.4 466.9L434 465.9L433.7 464.9L433.4 464.5L433.1 464.6L432.8 465.3L432.5 466.4L432.2 467.5L431.9 468.3L431.6 468.5L431.3 468.3L431 467.9L430.7 467.2L430.4 466.3L430.1 465.3L429.8 464.3L429.5 463.4L429.1 462.6L428.8 462.2L428.5 462.3L428.2 462.8L427.9 463.2L427.6 463.4L427.3 463.2L427 462.5L426.7 461.8L426.4 461.4L426.1 461.7L425.8 462.7L425.5 463.9L425.2 465.1L424.9 466.2L424.6 467L424.3 467.3L423.9 467.2L423.6 466.9L423.3 466.4L423 465.7L422.7 465L422.4 464.4L422.1 464.5L421.8 465.3L421.5 466.5L421.2 467.2L420.9 467.2L420.6 466.6L420.3 465.9L420 465.5L419.7 465.4L419.4 465.5L419 465.7L418.7 465.5L418.4 465L418.1 464.2L417.8 463.2L417.5 462.2L417.2 461.1L416.9 460.2L416.6 459.5L416.3 459.2L416 459.4L415.7 460.1L415.4 461.5L415.1 463.1L414.8 464.6L414.5 465.3L414.1 465L413.8 463.9L413.5 462.8L413.2 462.2L412.9 462L412.6 461.8L412.3 461.5L412 461.3L411.7 461.6L411.4 462.1L411.1 462.4L410.8 462.3L410.5 461.9L410.2 461.9L409.9 462.4L409.6 463.3L409.2 463.9L408.9 464.2L408.6 464.4L408.3 464.6L408 464.7L407.7 464.6L407.4 464.2L407.1 464.2L406.8 464.7L406.5 465.5L406.2 466.5L405.9 467.5L405.6 468.1L405.3 468.4L405 468.6L404.7 468.9L404.3 469.3L404 469.7L403.7 470.2L403.4 470.7L403.1 471.4L402.8 472.2L402.5 473.2L402.2 474.6L401.9 475.9L401.6 476.7L401.3 476.6L401 475.9L400.7 475L400.4 474.3L400.1 473.7L399.8 472.9L399.4 471.8L399.1 470.8L398.8 469.9L398.5 469.5L398.2 469.4L397.9 469.7L397.6 469.9L397.3 469.9L397 469.5L396.7 468.8L396.4 468.2L396.1 467.5L395.8 466.9L395.5 466.2L395.2 465.4L394.9 464.9L394.5 464.7L394.2 465L393.9 465.6L393.6 466.3L393.3 467L393 467.7L392.7 468.3L392.4 468.6L392.1 468.4L391.8 467.5L391.5 466.4L391.2 465.5L390.9 465L390.6 464.8L390.3 464.8L390 464.8L389.6 464.9L389.3 464.9L389 464.8L388.7 464.7L388.4 464.9L388.1 465.1L387.8 464.9L387.5 464.3L387.2 463.5L386.9 462.6L386.6 461.7L386.3 461L386 460.9L385.7 461.3L385.4 462L385.1 462.7L384.8 462.8L384.4 462.4L384.1 461.9L383.8 461.7L383.5 462.1L383.2 462.9L382.9 463.5L382.6 463.5L382.3 462.9L382 462.2L381.7 461.5L381.4 460.9L381.1 460.3L380.8 459.9L380.5 459.9L380.2 460.2L379.9 460.6L379.5 461.1L379.2 461.7L378.9 462.1L378.6 462.4L378.3 462.4L378 462.4L377.7 462.5L377.4 462.7L377.1 462.6L376.8 462.2L376.5 461.4L376.2 460.3L375.9 459.5L375.6 459.2L375.3 459.4L375 459.6L374.6 459.6L374.3 459.5L374 459.5L373.7 459.4L373.4 459.3L373.1 458.8L372.8 458.1L372.5 457.3L372.2 456.6L371.9 456.2L371.6 456.1L371.3 456.1L371 456.3L370.7 456.3L370.4 455.9L370.1 455L369.7 454L369.4 453.1L369.1 452.5L368.8 452.1L368.5 451.6L368.2 451.2L367.9 451.1L367.6 451.2L367.3 451.1L367 450.5L366.7 449.7L366.4 448.9L366.1 448.7L365.8 448.7L365.5 448.6L365.2 448.2L364.8 447.8L364.5 447.6L364.2 447.8L363.9 448.3L363.6 448.9L363.3 449.3L363 449.3L362.7 448.6L362.4 447.5L362.1 446.3L361.8 445.4L361.5 444.9L361.2 444.7L360.9 444.9L360.6 445.4L360.3 446.1L359.9 447L359.6 447.9L359.3 448.9L359 449.7L358.7 450.2L358.4 450.4L358.1 450.5L357.8 450.5L357.5 450.6L357.2 450.8L356.9 451L356.6 451.3L356.3 451.8L356 452.1L355.7 451.9L355.4 451.2L355 450.4L354.7 449.8L354.4 449.8L354.1 450.1L353.8 450.8L353.5 451.5L353.2 451.9L352.9 451.8L352.6 451.4L352.3 451.2L352 451.2L351.7 451.3L351.4 451.6L351.1 451.8L350.8 451.8L350.5 451.5L350.1 451L349.8 450.2L349.5 449.4L349.2 448.6L348.9 448.1L348.6 447.7L348.3 447.5L348 447.2L347.7 446.8L347.4 446.5L347.1 446.3L346.8 446.2L346.5 445.8L346.2 445L345.9 443.8L345.6 442.7L345.3 442.1L344.9 441.9L344.6 442L344.3 442.1L344 442.3L343.7 442.6L343.4 442.9L343.1 443.2L342.8 443.4L342.5 443.6L342.2 443.6L341.9 443.2L341.6 442.5L341.3 441.7L341 441.3L340.7 441L340.4 440.7L340 440.2L339.7 439.7L339.4 439.1L339.1 438.6L338.8 438.3L338.5 438.4L338.2 438.8L337.9 439.2L337.6 439.1L337.3 438.6L337 437.8L336.7 437.1L336.4 436.5L336.1 436L335.8 435.5L335.5 435L335.1 434.8L334.8 435.2L334.5 435.8L334.2 436.3L333.9 436.5L333.6 436.4L333.3 436.3L333 436.4L332.7 436.4L332.4 435.7L332.1 433.9L331.8 431L331.5 427.9L331.2 425.4L330.9 424.2L330.6 424.3L330.2 425L329.9 425.7L329.6 425.9L329.3 425.8L329 425.6L328.7 425.2L328.4 424.5L328.1 423.7L327.8 422.8L327.5 422.2L327.2 421.9L326.9 421.9L326.6 422.2L326.3 422.7L326 423.4L325.7 423.9L325.3 423.9L325 423.5L324.7 422.9L324.4 422.7L324.1 423L323.8 424L323.5 425.4L323.2 426.8L322.9 427.8L322.6 427.9L322.3 427.5L322 427.1L321.7 427L321.4 427.2L321.1 427.3L320.8 427.1L320.4 426.5L320.1 426L319.8 425.8L319.5 426.1L319.2 426.7L318.9 427.4L318.6 428.2L318.3 428.8L318 429.1L317.7 429.1L317.4 428.7L317.1 428.3L316.8 427.8L316.5 427.3L316.2 426.5L315.9 425.5L315.5 424.4L315.2 423.4L314.9 422.8L314.6 422.5L314.3 422.2L314 421.7L313.7 421.1L313.4 420.7L313.1 420.8L312.8 421.1L312.5 421.1L312.2 420.7L311.9 419.9L311.6 419.2L311.3 419L311 419.5L310.7 420.2L310.3 420.5L310 419.8L309.7 418.4L309.4 416.9L309.1 416L308.8 416.1L308.5 417L308.2 418.2L307.9 419.2L307.6 419.7L307.3 419.7L307 419.3L306.7 419.1L306.4 419L306.1 419.1L305.8 419.1L305.4 419.2L305.1 419.5L304.8 419.7L304.5 419.8L304.2 419.5L303.9 418.7L303.6 417.9L303.3 417.4L303 417.7L302.7 418.8L302.4 420.7L302.1 422.5L301.8 423.6L301.5 423.6L301.2 422.7L300.9 421.4L300.5 420.4L300.2 419.9L299.9 420.2L299.6 420.9L299.3 421.9L299 423.2L298.7 424.4L298.4 425.1L298.1 424.9L297.8 423.7L297.5 422L297.2 420.6L296.9 420L296.6 420.1L296.3 420.7L296 421.4L295.6 422.1L295.3 422.6L295 422.6L294.7 422.3L294.4 421.5L294.1 420.7L293.8 420L293.5 419.3L293.2 418.7L292.9 418.5L292.6 418.6L292.3 418.8L292 418.6L291.7 417.8L291.4 416.7L291.1 415.6L290.7 414.6L290.4 414L290.1 413.9L289.8 414.3L289.5 415L289.2 415.5L288.9 415.7L288.6 415.7L288.3 415.5L288 415.2L287.7 414.8L287.4 414.6L287.1 414.8L286.8 415.2L286.5 415.3L286.2 415L285.8 414.4L285.5 414L285.2 414.1L284.9 414.6L284.6 415.1L284.3 415.3L284 415.4L283.7 415.4L283.4 414.9L283.1 414.2L282.8 413.4L282.5 413.1L282.2 413.4L281.9 413.8L281.6 413.9L281.3 413.5L280.9 412.6L280.6 411.6L280.3 410.6L280 410.2L279.7 410.6L279.4 411.5L279.1 412.4L278.8 412.8L278.5 412.4L278.2 411.5L277.9 410.4L277.6 409.6L277.3 409.2L277 409.2L276.7 409.1L276.4 408.4L276 407.2L275.7 405.8L275.4 404.7L275.1 404.1L274.8 403.8L274.5 403.3L274.2 402.5L273.9 401.2L273.6 400.1L273.3 399.5L273 399.5L272.7 400L272.4 400.4L272.1 400.5L271.8 400.4L271.5 399.8L271.2 398.8L270.8 397.7L270.5 396.6L270.2 395.6L269.9 395L269.6 394.8L269.3 395L269 395.3L268.7 395.4L268.4 395.2L268.1 394.8L267.8 394.7L267.5 394.9L267.2 395.2L266.9 395.2L266.6 394.9L266.3 394.5L265.9 394L265.6 393.6L265.3 393.2L265 392.6L264.7 391.7L264.4 390.3L264.1 388.9L263.8 387.8L263.5 387.2L263.2 386.8L262.9 386.4L262.6 385.9L262.3 385.4L262 384.9L261.7 384.7L261.4 384.6L261 384.5L260.7 384.5L260.4 384.5L260.1 384.6L259.8 384.5L259.5 384.1L259.2 383.5L258.9 383L258.6 382.9L258.3 382.9L258 382.8L257.7 382.6L257.4 382.4L257.1 382.5L256.8 382.8L256.5 383L256.1 382.8L255.8 382.1L255.5 381L255.2 379.9L254.9 379.3L254.6 379.1L254.3 379.1L254 379.1L253.7 378.9L253.4 379L253.1 379.6L252.8 380.5L252.5 381.3L252.2 381.6L251.9 381.1L251.6 380L251.2 378.7L250.9 377.7L250.6 376.9L250.3 376.4L250 375.8L249.7 375L249.4 374L249.1 373L248.8 372.1L248.5 371.3L248.2 370.3L247.9 369.3L247.6 368.5L247.3 368.2L247 368.3L246.7 368.9L246.3 369.5L246 369.8L245.7 369.3L245.4 368.5L245.1 367.6L244.8 367.1L244.5 367L244.2 367L243.9 367L243.6 367L243.3 366.9L243 366.6L242.7 366.3L242.4 365.9L242.1 365.3L241.8 364.2L241.4 362.8L241.1 361.6L240.8 360.9L240.5 360.7L240.2 360.7L239.9 360.7L239.6 360.9L239.3 361.1L239 360.9L238.7 359.9L238.4 358.3L238.1 357L237.8 356.6L237.5 356.9L237.2 357.3L236.9 357.2L236.5 356.5L236.2 355.2L235.9 353.8L235.6 352.7L235.3 351.8L235 351.3L234.7 350.9L234.4 350.6L234.1 350.5L233.8 350.4L233.5 350.2L233.2 349.8L232.9 349.1L232.6 348.5L232.3 348.2L232 348L231.7 347.6L231.3 346.8L231 346.2L230.7 346.3L230.4 347.1L230.1 348.1L229.8 348.3L229.5 347.5L229.2 346L228.9 344.5L228.6 343.7L228.3 343.9L228 344.6L227.7 345.3L227.4 345.4L227.1 345.1L226.8 344.6L226.4 344.2L226.1 344.2L225.8 344.2L225.5 344.1L225.2 344.1L224.9 344.3L224.6 344.8L224.3 345.4L224 345.8L223.7 345.6L223.4 344.5L223.1 342.7L222.8 340.8L222.5 339.3L222.2 338.7L221.9 338.8L221.5 339.2L221.2 339.8L220.9 340.5L220.6 341.2L220.3 341.9L220 342.3L219.7 342.5L219.4 342.9L219.1 343.7L218.8 344.7L218.5 345.7L218.2 346.5L217.9 347L217.6 347.2L217.3 347L217 346.8L216.6 346.8L216.3 347.2L216 347.8L215.7 348L215.4 347.8L215.1 347.1L214.8 346.3L214.5 345.4L214.2 344.5L213.9 343.7L213.6 343.1L213.3 342.7L213 342.4L212.7 341.7L212.4 340.8L212.1 339.8L211.7 338.7L211.4 337.5L211.1 336.3L210.8 335.1L210.5 334L210.2 333.2L209.9 332.8L209.6 332.6L209.3 332.4L209 332.3L208.7 332.3L208.4 332L208.1 331.3L207.8 330.3L207.5 328.9L207.2 327.4L206.8 326.1L206.5 325.1L206.2 324.7L205.9 324.7L205.6 324.8L205.3 324.8L205 324.8L204.7 324.6L204.4 324.4L204.1 324.5L203.8 324.8L203.5 325.3L203.2 325.2L202.9 324.2L202.6 322.5L202.3 320.6L201.9 319.2L201.6 318.4L201.3 318.2L201 318.5L200.7 319.1L200.4 319.9L200.1 320.7L199.8 321.4L199.5 322.1L199.2 322.6L198.9 322.9L198.6 322.8L198.3 322.1L198 320.8L197.7 319.3L197.4 318.1L197.1 317.3L196.7 316.7L196.4 316.2L196.1 315.7L195.8 315.4L195.5 315.6L195.2 316.2L194.9 316.8L194.6 317.1L194.3 317.2L194 317L193.7 316.1L193.4 314.8L193.1 313.2L192.8 311.7L192.5 310.4L192.2 309.3L191.8 308.5L191.5 308L191.2 308.1L190.9 308.8L190.6 310.1L190.3 311.4L190 312.2L189.7 312.1L189.4 311.2L189.1 310L188.8 309.1L188.5 308.8L188.2 308.8L187.9 308.7L187.6 308.3L187.3 307.5L186.9 306.6L186.6 305.5L186.3 304.4L186 303.2L185.7 301.9L185.4 300.6L185.1 299.4L184.8 298.6L184.5 298L184.2 297.7L183.9 297.5L183.6 297.2L183.3 296.7L183 296.2L182.7 295.7L182.4 295.2L182 294.7L181.7 294.5L181.4 294.6L181.1 295L180.8 295.3L180.5 295.1L180.2 294.1L179.9 292.3L179.6 290.2L179.3 288.2L179 286.9L178.7 286.3L178.4 285.9L178.1 285.4L177.8 284.5L177.5 283.2L177.1 281.8L176.8 280.5L176.5 279.5L176.2 279.1L175.9 279.3L175.6 280L175.3 280.7L175 281L174.7 280.7L174.4 279.9L174.1 278.9L173.8 278L173.5 277.5L173.2 277.3L172.9 277L172.6 276.7L172.2 276.3L171.9 276L171.6 275.8L171.3 275.6L171 275.3L170.7 274.9L170.4 274.4L170.1 274L169.8 273.5L169.5 272.8L169.2 271.8L168.9 270.4L168.6 268.7L168.3 267.1L168 265.9L167.7 265.3L167.3 265.4L167 265.9L166.7 266.4L166.4 266.7L166.1 266.6L165.8 266.2L165.5 265.5L165.2 264.2L164.9 262.5L164.6 260.3L164.3 258.1L164 256L163.7 254L163.4 252.4L163.1 251.1L162.8 250.4L162.4 250.1L162.1 250.3L161.8 250.6L161.5 250.5L161.2 249.9L160.9 248.9L160.6 247.9L160.3 246.9L160 245.9L159.7 244.6L159.4 242.8L159.1 240.7L158.8 238.8L158.5 237.6L158.2 237.1L157.9 237.2L157.6 237.1L157.2 236.4L156.9 235.1L156.6 233.4L156.3 231.7L156 230.1L155.7 228.8L155.4 227.9L155.1 227.5L154.8 227.4L154.5 227.4L154.2 227.3L153.9 227L153.6 226.6L153.3 226L153 225.1L152.7 224.1L152.3 223L152 222L151.7 220.7L151.4 219.3L151.1 217.5L150.8 215.6L150.5 213.6L150.2 212.3L149.9 211.7L149.6 211.8L149.3 211.9L149 211.5L148.7 210.6L148.4 209.3L148.1 207.9L147.8 206.6L147.4 205.3L147.1 203.8L146.8 201.9L146.5 200L146.2 198.5L145.9 197.6L145.6 197.1L145.3 196.2L145 194.8L144.7 192.9L144.4 190.9L144.1 189.3L143.8 188.4L143.5 188.1L143.2 188L142.9 187.7L142.5 187.1L142.2 186L141.9 184.6L141.6 183.3L141.3 182.2L141 181.5L140.7 180.9L140.4 180.1L140.1 179.2L139.8 178.1L139.5 176.8L139.2 175.1L138.9 173.1L138.6 170.9L138.3 168.9L138 167.3L137.6 165.9L137.3 164.7L137 163.5L136.7 162.5L136.4 161.8L136.1 161.4L135.8 161.2L135.5 160.8L135.2 160L134.9 159L134.6 157.7L134.3 156.2L134 154.9L133.7 153.8L133.4 153L133.1 152.5L132.7 151.9L132.4 150.9L132.1 149.6L131.8 148L131.5 146.5L131.2 145.1L130.9 143.8L130.6 142.5L130.3 141.2L130 139.7L129.7 138.1L129.4 136.4L129.1 134.8L128.8 133.2L128.5 131.8L128.2 130.5L127.8 129.3L127.5 128.1L127.2 126.7L126.9 125.2L126.6 123.6L126.3 121.8L126 119.8L125.7 117.7L125.4 115.4L125.1 113.1L124.8 110.7L124.5 108.1L124.2 105.4L123.9 102.3L123.6 98.7L123.3 94.6L122.9 90.3L122.6 85.6L122.3 80.8L122 76L121.7 70.9L121.4 65.5L121.1 59.8L120.8 53.9L120.5 47.8Z" fill="#440154" fill-opacity="0.2" stroke="none"/>
<path d="M120.5 47.8L121.4 48.3L122.3 49.6L123.1 51.1L124 53.7L124.9 58L125.8 63.5L126.6 69.4L127.5 75.3L128.4 80.6L129.3 85.5L130.1 90.4L131 95.4L131.9 100.2L132.8 104.9L133.6 109.3L134.5 113.3L135.4 117L136.3 120.5L137.1 123.8L138 126.9L138.9 129.9L139.8 132.8L140.7 135.6L141.5 138.3L142.4 141L143.3 143.6L144.2 146.1L145 148.5L145.9 150.9L146.8 153.2L147.7 155.4L148.5 157.6L149.4 159.7L150.3 161.7L151.2 163.7L152 165.5L152.9 167.3L153.8 169L154.7 170.7L155.5 172.4L156.4 174.1L157.3 175.8L158.2 177.5L159 179.3L159.9 181.3L160.8 183.3L161.7 185.3L162.6 187.4L163.4 189.5L164.3 191.7L165.2 193.9L166.1 196.2L166.9 198.6L167.8 201.3L168.7 204.1L169.6 207L170.4 209.9L171.3 213L172.2 216L173.1 219.2L173.9 222.4L174.8 225.9L175.7 229.4L176.6 233L177.4 236.5L178.3 239.9L179.2 243.1L180.1 246.2L181 249.2L181.8 252.1L182.7 255L183.6 257.8L184.5 260.6L185.3 263.3L186.2 266L187.1 268.6L188 271.2L188.8 273.7L189.7 276.2L190.6 278.6L191.5 281L192.3 283.4L193.2 285.7L194.1 287.9L195 290L195.8 292.1L196.7 294.2L197.6 296.3L198.5 298.4L199.3 300.6L200.2 302.9L201.1 305.4L202 308L202.9 310.7L203.7 313.3L204.6 316L205.5 318.6L206.4 321.1L207.2 323.4L208.1 325.4L209 327.3L209.9 329.2L210.7 330.9L211.6 332.5L212.5 333.9L213.4 335L214.2 335.7L215.1 334.9L216 335.6L216.9 336.1L217.7 336.5L218.6 336.9L219.5 337.2L220.4 337.6L221.3 337.9L222.1 338.3L223 338.8L223.9 339.3L224.8 339.9L225.6 340.6L226.5 341.4L227.4 342.4L228.3 343.4L229.1 344.5L230 345.7L230.9 346.9L231.8 348.1L232.6 349.3L233.5 350.6L234.4 351.8L235.3 352.9L236.1 354L237 355.1L237.9 356L238.8 356.8L239.7 357.5L240.5 358.1L241.4 358.5L242.3 358.8L243.2 359.1L244 359.2L244.9 359.3L245.8 359.3L246.7 359.3L247.5 359.3L248.4 359.3L249.3 359.4L250.2 359.5L251 359.7L251.9 360.1L252.8 360.6L253.7 361.2L254.5 361.9L255.4 362.8L256.3 363.7L257.2 364.7L258 365.8L258.9 366.8L259.8 367.9L260.7 368.9L261.6 369.9L262.4 370.7L263.3 371.5L264.2 372.3L265.1 372.9L265.9 373.4L266.8 373.8L267.7 374.1L268.6 374.2L269.4 374.2L270.3 374.1L271.2 373.8L272.1 373.5L272.9 373.1L273.8 372.6L274.7 372.1L275.6 371.5L276.4 371L277.3 370.5L278.2 370.1L279.1 369.8L280 369.6L280.8 369.5L281.7 369.6L282.6 369.8L283.5 370.1L284.3 370.6L285.2 371.2L286.1 371.9L287 372.8L287.8 373.7L288.7 374.7L289.6 375.7L290.5 376.9L291.3 378L292.2 379.2L293.1 380.3L294 381.5L294.8 382.5L295.7 383.6L296.6 384.5L297.5 385.3L298.4 386L299.2 386.6L300.1 387.1L301 387.5L301.9 387.8L302.7 388.1L303.6 388.3L304.5 388.5L305.4 388.6L306.2 388.8L307.1 388.9L308 388.9L308.9 389L309.7 389L310.6 389.1L311.5 389.1L312.4 389.1L313.2 389.1L314.1 389.1L315 389.1L315.9 389.1L316.7 389.1L317.6 389.1L318.5 389.1L319.4 389.1L320.3 389.1L321.1 389.1L322 389.1L322.9 389.2L323.8 389.2L324.6 389.3L325.5 389.3L326.4 389.4L327.3 389.6L328.1 389.8L329 390L329.9 390.2L330.8 390.5L331.6 390.7L332.5 391.1L333.4 391.4L334.3 391.8L335.1 392.1L336 392.5L336.9 392.9L337.8 393.3L338.7 393.7L339.5 394.1L340.4 394.5L341.3 394.9L342.2 395.4L343 395.8L343.9 396.2L344.8 396.6L345.7 397L346.5 397.4L347.4 397.8L348.3 398.1L349.2 398.4L350 398.6L350.9 398.8L351.8 398.9L352.7 399L353.5 399L354.4 398.9L355.3 398.8L356.2 398.7L357 398.5L357.9 398.3L358.8 398L359.7 397.8L360.6 397.6L361.4 397.4L362.3 397.2L363.2 397.1L364.1 397.1L364.9 397.1L365.8 397.2L366.7 397.3L367.6 397.5L368.4 397.8L369.3 398.1L370.2 398.5L371.1 398.9L371.9 399.3L372.8 399.6L373.7 400L374.6 400.3L375.4 400.6L376.3 400.8L377.2 401L378.1 401.1L379 401.1L379.8 401.1L380.7 401L381.6 400.9L382.5 400.8L383.3 400.6L384.2 400.5L385.1 400.4L386 400.3L386.8 400.3L387.7 400.4L388.6 400.6L389.5 400.8L390.3 401.2L391.2 401.6L392.1 402.1L393 402.7L393.8 403.3L394.7 403.9L395.6 404.5L396.5 405.1L397.4 405.6L398.2 406.1L399.1 406.5L400 406.8L400.9 406.9L401.7 407L402.6 406.9L403.5 406.8L404.4 406.6L405.2 406.3L406.1 406L407 405.6L407.9 405.2L408.7 404.8L409.6 404.4L410.5 404.1L411.4 403.7L412.2 403.4L413.1 403.1L414 402.8L414.9 402.6L415.7 402.4L416.6 402.2L417.5 402L418.4 401.8L419.3 401.7L420.1 401.5L421 401.4L421.9 401.3L422.8 401.2L423.6 401.1L424.5 401L425.4 400.9L426.3 400.9L427.1 400.8L428 400.8L428.9 400.8L429.8 400.8L430.6 400.9L431.5 400.9L432.4 401L433.3 401.1L434.1 401.2L435 401.2L435.9 401.3L436.8 401.3L437.7 401.3L438.5 401.3L439.4 401.3L440.3 401.2L441.2 401.1L442 401L442.9 400.8L443.8 400.7L444.7 400.6L445.5 400.4L446.4 400.3L447.3 400.3L448.2 400.3L449 400.4L449.9 400.6L450.8 400.9L451.7 401.3L452.5 401.9L453.4 402.5L454.3 403.2L455.2 403.9L456 404.7L456.9 405.4L457.8 406.2L458.7 406.8L459.6 407.5L460.4 408L461.3 408.5L462.2 408.8L463.1 409.2L463.9 409.4L464.8 409.6L465.7 409.8L466.6 410L467.4 410.2L468.3 410.3L469.2 410.5L470.1 410.8L470.9 411L471.8 411.4L472.7 411.8L473.6 412.4L474.4 413L475.3 413.7L476.2 414.5L477.1 415.4L478 416.4L478.8 417.4L479.7 418.5L480.6 419.5L481.5 420.4L482.3 421.3L483.2 422L484.1 422.7L485 423.2L485.8 423.6L486.7 423.9L487.6 424L488.5 424.2L489.3 424.2L490.2 424.2L491.1 424.2L492 424.2L492.8 424.2L493.7 424.2L494.6 424.2L495.5 424.4L496.4 424.6L497.2 424.9L498.1 425.3L499 425.8L499.9 426.4L500.7 427L501.6 427.8L502.5 428.5L503.4 429.3L504.2 430.1L505.1 430.9L506 431.6L506.9 432.3L507.7 432.9L508.6 433.5L509.5 433.9L510.4 434.4L511.2 434.7L512.1 435.1L513 435.4L513.9 435.6L514.7 435.9L515.6 436.1L516.5 436.3L517.4 436.5L518.3 436.6L519.1 436.8L520 436.9L520.9 436.9L521.8 437L522.6 437L523.5 437L524.4 436.9L525.3 436.8L526.1 436.7L527 436.6L527.9 436.4L528.8 436.3L529.6 436.1L530.5 436L531.4 436L532.3 436L533.1 436L534 436.2L534.9 436.4L535.8 436.8L536.7 437.2L537.5 437.8L538.4 438.4L539.3 439.1L540.2 439.9L541 440.7L541.9 441.5L542.8 442.3L543.7 443L544.5 443.7L545.4 444.4L546.3 444.9L547.2 445.4L548 445.7L548.9 446L549.8 446.3L550.7 446.4L551.5 446.5L552.4 446.6L553.3 446.6L554.2 446.7L555 446.7L555.9 446.7L556.8 446.7L557.7 446.7L558.6 446.7L559.4 446.7L560.3 446.7L561.2 446.7L562.1 446.7L562.9 446.7L563.8 446.6L564.7 446.6L565.6 446.5L566.4 446.5L567.3 446.3L568.2 446.2L569.1 446L569.9 445.8L570.8 445.5L571.7 445.2L572.6 444.9L573.4 444.6L574.3 444.4L575.2 444.2L576.1 444.1L577 444.1L577.8 444.2L578.7 444.5L579.6 445.1L580.5 445.8L581.3 446.7L582.2 447.7L583.1 448.9L584 450.3L584.8 451.6L585.7 453L586.6 454.4L587.5 455.8L588.3 457.1L589.2 458.2L590.1 459.3L591 460.3L591.8 461.2L592.7 461.9L593.6 462.6L594.5 463.1L595.4 463.6L596.2 464L597.1 464.4L598 464.7L598.9 464.9L599.7 465.1L600.6 465.3L601.5 465.4L602.4 465.5L603.2 465.6L604.1 465.7L605 465.8L605.9 465.9L606.7 465.9L607.6 466L608.5 466L609.4 466.1L610.2 466.1L611.1 466.2L612 466.2L612.9 466.3L613.7 466.3L614.6 466.4L615.5 466.4L616.4 466.5L617.3 466.5L618.1 466.5L619 466.6L619.9 466.6L620.8 466.7L621.6 466.7L622.5 466.8L623.4 466.8L624.3 466.9L625.1 467L626 467.1L626.9 467.1L627.8 467.3L628.6 467.4L629.5 467.5L630.4 467.7L631.3 468L632.1 468.2L633 468.5L633.9 468.9L634.8 469.3L635.7 469.7L636.5 470.1L637.4 470.6L638.3 471.1L639.2 471.7L640 472.2L640.9 472.8L641.8 473.4L642.7 473.9L643.5 474.5L644.4 475L645.3 475.5L646.2 476L647 476.3L647.9 476.6L648.8 476.8L649.7 477L650.5 477L651.4 476.9L652.3 476.8L653.2 476.5L654.1 476.3L654.9 476L655.8 475.7L656.7 475.4L657.6 475.1L658.4 474.8L659.3 474.6L660.2 474.4L661.1 474.3L661.9 474.3L662.8 474.3L663.7 474.3L664.6 474.4L665.4 474.5L666.3 474.7L667.2 475L668.1 475.2L668.9 475.5L669.8 475.7L670.7 476L671.6 476.3L672.4 476.6L673.3 476.9L674.2 477.1L675.1 477.4L676 477.6L676.8 477.8L677.7 478.1L678.6 478.2L679.5 478.4L680.3 478.6L681.2 478.8L682.1 478.9L683 479.1L683.8 479.2L684.7 479.3L685.6 479.4L686.5 479.5L687.3 479.6L688.2 479.6L689.1 479.6L690 479.5L690.8 479.3L691.7 479.1L692.6 478.8L693.5 478.4L694.4 477.9L695.2 477.3L696.1 476.6L697 475.8L697.9 475L698.7 474.1L699.6 473.2L700.5 472.1L701.4 471.1L702.2 470.1L703.1 469L704 468L704.9 467L705.7 466.2L706.6 465.4L707.5 464.7L708.4 464.1L709.2 463.7L710.1 463.3L711 463.1L711.9 463L712.7 463L713.6 463.1L714.5 463.3L715.4 463.6L716.3 464.1L717.1 464.6L718 465.2L718.9 465.8L719.8 466.5L720.6 467.1L721.5 467.7L722.4 468.2L723.3 468.6L724.1 468.8L725 468.9L725.9 468.9L726.8 468.7L727.6 468.4L728.5 468.1L729.4 467.7L730.3 467.3L731.1 467L732 466.7L732.9 466.6L732.9 497.6L732 497.7L731.1 498L730.3 498.3L729.4 498.7L728.5 499.1L727.6 499.4L726.8 499.7L725.9 499.9L725 499.9L724.1 499.8L723.3 499.6L722.4 499.2L721.5 498.7L720.6 498.1L719.8 497.5L718.9 496.8L718 496.2L717.1 495.6L716.3 495.1L715.4 494.6L714.5 494.3L713.6 494.1L712.7 494L711.9 494L711 494.1L710.1 494.3L709.2 494.7L708.4 495.1L707.5 495.7L706.6 496.4L705.7 497.2L704.9 498L704 499L703.1 500L702.2 501.1L701.4 502.1L700.5 503.1L699.6 504.2L698.7 505.1L697.9 506L697 506.8L696.1 507.6L695.2 508.3L694.4 508.9L693.5 509.4L692.6 509.8L691.7 510.1L690.8 510.3L690 510.5L689.1 510.6L688.2 510.6L687.3 510.6L686.5 510.5L685.6 510.4L684.7 510.3L683.8 510.2L683 510.1L682.1 509.9L681.2 509.8L680.3 509.6L679.5 509.4L678.6 509.2L677.7 509.1L676.8 508.8L676 508.6L675.1 508.4L674.2 508.1L673.3 507.9L672.4 507.6L671.6 507.3L670.7 507L669.8 506.7L668.9 506.5L668.1 506.2L667.2 506L666.3 505.7L665.4 505.5L664.6 505.4L663.7 505.3L662.8 505.3L661.9 505.3L661.1 505.3L660.2 505.4L659.3 505.6L658.4 505.8L657.6 506.1L656.7 506.4L655.8 506.7L654.9 507L654.1 507.3L653.2 507.5L652.3 507.8L651.4 507.9L650.5 508L649.7 508L648.8 507.8L647.9 507.6L647 507.3L646.2 507L645.3 506.5L644.4 506L643.5 505.5L642.7 504.9L641.8 504.4L640.9 503.8L640 503.2L639.2 502.7L638.3 502.1L637.4 501.6L636.5 501.1L635.7 500.7L634.8 500.3L633.9 499.9L633 499.5L632.1 499.2L631.3 499L630.4 498.7L629.5 498.5L628.6 498.4L627.8 498.3L626.9 498.1L626 498.1L625.1 498L624.3 497.9L623.4 497.8L622.5 497.8L621.6 497.7L620.8 497.7L619.9 497.6L619 497.6L618.1 497.5L617.3 497.5L616.4 497.5L615.5 497.4L614.6 497.4L613.7 497.3L612.9 497.3L612 497.2L611.1 497.2L610.2 497.1L609.4 497.1L608.5 497L607.6 497L606.7 496.9L605.9 496.9L605 496.8L604.1 496.7L603.2 496.6L602.4 496.5L601.5 496.4L600.6 496.3L599.7 496.1L598.9 495.9L598 495.7L597.1 495.4L596.2 495L595.4 494.6L594.5 494.1L593.6 493.6L592.7 492.9L591.8 492.2L591 491.3L590.1 490.3L589.2 489.2L588.3 488.1L587.5 486.8L586.6 485.4L585.7 484L584.8 482.6L584 481.3L583.1 479.9L582.2 478.7L581.3 477.7L580.5 476.8L579.6 476.1L578.7 475.5L577.8 475.2L577 475.1L576.1 475.1L575.2 475.2L574.3 475.4L573.4 475.6L572.6 475.9L571.7 476.2L570.8 476.5L569.9 476.8L569.1 477L568.2 477.2L567.3 477.3L566.4 477.5L565.6 477.5L564.7 477.6L563.8 477.6L562.9 477.7L562.1 477.7L561.2 477.7L560.3 477.7L559.4 477.7L558.6 477.7L557.7 477.7L556.8 477.7L555.9 477.7L555 477.7L554.2 477.7L553.3 477.6L552.4 477.6L551.5 477.5L550.7 477.4L549.8 477.3L548.9 477L548 476.7L547.2 476.4L546.3 475.9L545.4 475.4L544.5 474.7L543.7 474L542.8 473.3L541.9 472.5L541 471.7L540.2 470.9L539.3 470.1L538.4 469.4L537.5 468.8L536.7 468.2L535.8 467.8L534.9 467.4L534 467.2L533.1 467L532.3 467L531.4 467L530.5 467L529.6 467.1L528.8 467.3L527.9 467.4L527 467.6L526.1 467.7L525.3 467.8L524.4 467.9L523.5 468L522.6 468L521.8 468L520.9 467.9L520 467.9L519.1 467.8L518.3 467.6L517.4 467.5L516.5 467.3L515.6 467.1L514.7 466.9L513.9 466.6L513 466.4L512.1 466.1L511.2 465.7L510.4 465.4L509.5 464.9L508.6 464.5L507.7 463.9L506.9 463.3L506 462.6L505.1 461.9L504.2 461.1L503.4 460.3L502.5 459.5L501.6 458.8L500.7 458L499.9 457.4L499 456.8L498.1 456.3L497.2 455.9L496.4 455.6L495.5 455.4L494.6 455.2L493.7 455.2L492.8 455.2L492 455.2L491.1 455.2L490.2 455.2L489.3 455.2L488.5 455.2L487.6 455L486.7 454.9L485.8 454.6L485 454.2L484.1 453.7L483.2 453L482.3 452.3L481.5 451.4L480.6 450.5L479.7 449.5L478.8 448.4L478 447.4L477.1 446.4L476.2 445.5L475.3 444.7L474.4 444L473.6 443.4L472.7 442.8L471.8 442.4L470.9 442L470.1 441.8L469.2 441.5L468.3 441.3L467.4 441.2L466.6 441L465.7 440.8L464.8 440.6L463.9 440.4L463.1 440.2L462.2 439.8L461.3 439.5L460.4 439L459.6 438.5L458.7 437.8L457.8 437.2L456.9 436.4L456 435.7L455.2 434.9L454.3 434.2L453.4 433.5L452.5 432.9L451.7 432.3L450.8 431.9L449.9 431.6L449 431.4L448.2 431.3L447.3 431.3L446.4 431.3L445.5 431.4L444.7 431.6L443.8 431.7L442.9 431.8L442 432L441.2 432.1L440.3 432.2L439.4 432.3L438.5 432.3L437.7 432.3L436.8 432.3L435.9 432.3L435 432.2L434.1 432.2L433.3 432.1L432.4 432L431.5 431.9L430.6 431.9L429.8 431.8L428.9 431.8L428 431.8L427.1 431.8L426.3 431.9L425.4 431.9L424.5 432L423.6 432.1L422.8 432.2L421.9 432.3L421 432.4L420.1 432.5L419.3 432.7L418.4 432.8L417.5 433L416.6 433.2L415.7 433.4L414.9 433.6L414 433.8L413.1 434.1L412.2 434.4L411.4 434.7L410.5 435.1L409.6 435.4L408.7 435.8L407.9 436.2L407 436.6L406.1 437L405.2 437.3L404.4 437.6L403.5 437.8L402.6 437.9L401.7 438L400.9 437.9L400 437.8L399.1 437.5L398.2 437.1L397.4 436.6L396.5 436.1L395.6 435.5L394.7 434.9L393.8 434.3L393 433.7L392.1 433.1L391.2 432.6L390.3 432.2L389.5 431.8L388.6 431.6L387.7 431.4L386.8 431.3L386 431.3L385.1 431.4L384.2 431.5L383.3 431.6L382.5 431.8L381.6 431.9L380.7 432L379.8 432.1L379 432.1L378.1 432.1L377.2 432L376.3 431.8L375.4 431.6L374.6 431.3L373.7 431L372.8 430.6L371.9 430.3L371.1 429.9L370.2 429.5L369.3 429.1L368.4 428.8L367.6 428.5L366.7 428.3L365.8 428.2L364.9 428.1L364.1 428.1L363.2 428.1L362.3 428.2L361.4 428.4L360.6 428.6L359.7 428.8L358.8 429L357.9 429.3L357 429.5L356.2 429.7L355.3 429.8L354.4 429.9L353.5 430L352.7 430L351.8 429.9L350.9 429.8L350 429.6L349.2 429.4L348.3 429.1L347.4 428.8L346.5 428.4L345.7 428L344.8 427.6L343.9 427.2L343 426.8L342.2 426.4L341.3 425.9L340.4 425.5L339.5 425.1L338.7 424.7L337.8 424.3L336.9 423.9L336 423.5L335.1 423.1L334.3 422.8L333.4 422.4L332.5 422.1L331.6 421.7L330.8 421.5L329.9 421.2L329 421L328.1 420.8L327.3 420.6L326.4 420.4L325.5 420.3L324.6 420.3L323.8 420.2L322.9 420.2L322 420.1L321.1 420.1L320.3 420.1L319.4 420.1L318.5 420.1L317.6 420.1L316.7 420.1L315.9 420.1L315 420.1L314.1 420.1L313.2 420.1L312.4 420.1L311.5 420.1L310.6 420.1L309.7 420L308.9 420L308 419.9L307.1 419.9L306.2 419.8L305.4 419.6L304.5 419.5L303.6 419.3L302.7 419.1L301.9 418.8L301 418.5L300.1 418.1L299.2 417.6L298.4 417L297.5 416.3L296.6 415.5L295.7 414.6L294.8 413.5L294 412.5L293.1 411.3L292.2 410.2L291.3 409L290.5 407.9L289.6 406.7L288.7 405.7L287.8 404.7L287 403.8L286.1 402.9L285.2 402.2L284.3 401.6L283.5 401.1L282.6 400.8L281.7 400.6L280.8 400.5L280 400.6L279.1 400.8L278.2 401.1L277.3 401.5L276.4 402L275.6 402.5L274.7 403.1L273.8 403.6L272.9 404.1L272.1 404.5L271.2 404.8L270.3 405.1L269.4 405.2L268.6 405.2L267.7 405.1L266.8 404.8L265.9 404.4L265.1 403.9L264.2 403.3L263.3 402.5L262.4 401.7L261.6 400.9L260.7 399.9L259.8 398.9L258.9 397.8L258 396.8L257.2 395.7L256.3 394.7L255.4 393.8L254.5 392.9L253.7 392.2L252.8 391.6L251.9 391.1L251 390.7L250.2 390.5L249.3 390.4L248.4 390.3L247.5 390.3L246.7 390.3L245.8 390.3L244.9 390.3L244 390.2L243.2 390.1L242.3 389.8L241.4 389.5L240.5 389.1L239.7 388.5L238.8 387.8L237.9 387L237 386.1L236.1 385L235.3 383.9L234.4 382.8L233.5 381.6L232.6 380.3L231.8 379.1L230.9 377.9L230 376.7L229.1 375.5L228.3 374.4L227.4 373.4L226.5 372.4L225.6 371.6L224.8 370.9L223.9 370.3L223 369.8L222.1 369.3L221.3 368.9L220.4 368.6L219.5 368.2L218.6 367.9L217.7 367.5L216.9 367.1L216 366.6L215.1 365.9L214.2 366.7L213.4 366L212.5 364.9L211.6 363.5L210.7 361.9L209.9 360.2L209 358.3L208.1 356.4L207.2 354.4L206.4 352.1L205.5 349.6L204.6 347L203.7 344.3L202.9 341.7L202 339L201.1 336.4L200.2 333.9L199.3 331.6L198.5 329.4L197.6 327.3L196.7 325.2L195.8 323.1L195 321L194.1 318.9L193.2 316.7L192.3 314.4L191.5 312L190.6 309.6L189.7 307.2L188.8 304.7L188 302.2L187.1 299.6L186.2 297L185.3 294.3L184.5 291.6L183.6 288.8L182.7 286L181.8 283.1L181 280.2L180.1 277.2L179.2 274.1L178.3 270.9L177.4 267.5L176.6 264L175.7 260.4L174.8 256.9L173.9 253.4L173.1 250.2L172.2 247L171.3 244L170.4 240.9L169.6 238L168.7 235.1L167.8 232.3L166.9 229.6L166.1 226.6L165.2 223.7L164.3 220.8L163.4 218.1L162.6 215.3L161.7 212.6L160.8 210L159.9 207.4L159 204.9L158.2 202.4L157.3 200.1L156.4 197.8L155.5 195.5L154.7 193.2L153.8 190.9L152.9 188.6L152 186.2L151.2 183.8L150.3 181.2L149.4 178.5L148.5 175.8L147.7 173.1L146.8 170.3L145.9 167.4L145 164.4L144.2 161.4L143.3 158.2L142.4 155L141.5 151.8L140.7 148.5L139.8 145.1L138.9 141.6L138 138L137.1 134.2L136.3 130.3L135.4 126.2L134.5 122L133.6 117.3L132.8 112.3L131.9 107L131 101.6L130.1 96L129.3 90.5L128.4 85L127.5 79.1L126.6 72.6L125.8 66L124.9 60L124 55.1L123.1 51.8L122.3 49.8L121.4 48.3L120.5 47.8Z" fill="#3b528b" fill-opacity="0.2" stroke="none"/>
<path d="M120.5 47.8L122 48.2L123.6 48.8L125.1 49.5L126.6 50L128.2 50.7L129.7 51.4L131.2 52.5L132.8 53.7L134.3 55.2L135.8 56.8L137.4 58.6L138.9 60.4L140.5 62.4L142 64.5L143.5 66.9L145.1 69.6L146.6 72.5L148.1 75.5L149.7 78.7L151.2 81.8L152.7 84.9L154.3 88.1L155.8 91.4L157.3 94.8L158.9 98.2L160.4 101.8L161.9 105.4L163.5 109.2L165 113.1L166.5 117.1L168.1 121.2L169.6 125.3L171.1 129.4L172.7 133.5L174.2 137.7L175.8 141.9L177.3 146.1L178.8 150.3L180.4 154.5L181.9 158.6L183.4 162.5L185 166.4L186.5 170.2L188 173.9L189.6 177.6L191.1 181.2L192.6 184.6L194.2 188L195.7 191.2L197.2 194.5L198.8 197.8L200.3 201.2L201.8 204.9L203.4 208.6L204.9 212.4L206.5 216.1L208 219.9L209.5 223.7L211.1 227.6L212.6 231.5L214.1 235.4L215.7 239L217.2 242.4L218.7 245.4L220.3 248.4L221.8 251.2L223.3 253.9L224.9 256.4L226.4 258.8L227.9 261.2L229.5 263.3L231 265.4L232.5 267.5L234.1 269.4L235.6 271.3L237.1 273.1L238.7 274.9L240.2 276.6L241.8 278.2L243.3 279.7L244.8 281.2L246.4 282.6L247.9 283.9L249.4 285.1L251 286.3L252.5 287.4L254 288.5L255.6 289.5L257.1 290.5L258.6 291.5L260.2 292.5L261.7 293.5L263.2 294.5L264.8 295.5L266.3 296.5L267.8 297.5L269.4 298.6L270.9 299.6L272.4 300.6L274 301.7L275.5 302.7L277.1 303.7L278.6 304.7L280.1 305.7L281.7 306.7L283.2 307.7L284.7 308.8L286.3 309.8L287.8 310.9L289.3 312L290.9 313.1L292.4 314.2L293.9 315.3L295.5 316.5L297 317.7L298.5 318.9L300.1 320.1L301.6 321.3L303.1 322.5L304.7 323.8L306.2 325L307.8 326.2L309.3 327.3L310.8 328.5L312.4 329.6L313.9 330.8L315.4 332L317 333.1L318.5 334.3L320 335.4L321.6 336.6L323.1 337.7L324.6 338.8L326.2 339.9L327.7 341L329.2 342L330.8 343.1L332.3 344.2L333.8 345.2L335.4 346.2L336.9 347.2L338.4 348.2L340 349.2L341.5 350.2L343.1 351.2L344.6 352.2L346.1 353.1L347.7 354.1L349.2 355L350.7 356L352.3 356.9L353.8 357.8L355.3 358.8L356.9 359.7L358.4 360.6L359.9 361.5L361.5 362.4L363 363.3L364.5 364.2L366.1 365.1L367.6 365.9L369.1 366.7L370.7 367.6L372.2 368.4L373.7 369.1L375.3 369.9L376.8 370.6L378.4 371.4L379.9 372.1L381.4 372.8L383 373.5L384.5 374.2L386 374.9L387.6 375.6L389.1 376.3L390.6 377.1L392.2 377.8L393.7 378.6L395.2 379.4L396.8 380.2L398.3 381L399.8 381.8L401.4 382.6L402.9 383.4L404.4 384.2L406 385L407.5 385.9L409 386.7L410.6 387.5L412.1 388.3L413.7 389.1L415.2 389.9L416.7 390.7L418.3 391.5L419.8 392.3L421.3 393.1L422.9 394L424.4 394.8L425.9 395.6L427.5 396.5L429 397.3L430.5 398.2L432.1 399.1L433.6 400.1L435.1 401.1L436.7 402.1L438.2 403.1L439.7 404.1L441.3 405.1L442.8 406.1L444.4 407.1L445.9 408.1L447.4 409.1L449 410.1L450.5 411.1L452 412.2L453.6 413.2L455.1 414.2L456.6 415.2L458.2 416.2L459.7 417.3L461.2 418.3L462.8 419.3L464.3 420.3L465.8 421.3L467.4 422.3L468.9 423.3L470.4 424.3L472 425.3L473.5 426.3L475 427.3L476.6 428.3L478.1 429.3L479.7 430.3L481.2 431.3L482.7 432.2L484.3 433.2L485.8 434.2L487.3 435.1L488.9 436.1L490.4 437L491.9 438L493.5 439L495 439.9L496.5 440.8L498.1 441.8L499.6 442.7L501.1 443.6L502.7 444.5L504.2 445.4L505.7 446.3L507.3 447.2L508.8 448L510.3 448.8L511.9 449.7L513.4 450.5L515 451.4L516.5 452.2L518 453L519.6 453.8L521.1 454.6L522.6 455.4L524.2 456.1L525.7 456.8L527.2 457.5L528.8 458.1L530.3 458.7L531.8 459.3L533.4 459.8L534.9 460.4L536.4 461L538 461.5L539.5 462L541 462.5L542.6 463L544.1 463.4L545.6 463.8L547.2 464.2L548.7 464.6L550.3 464.9L551.8 465.2L553.3 465.5L554.9 465.8L556.4 466.1L557.9 466.3L559.5 466.6L561 466.8L562.5 467.1L564.1 467.3L565.6 467.5L567.1 467.6L568.7 467.7L570.2 467.8L571.7 467.8L573.3 467.8L574.8 467.8L576.3 467.7L577.9 467.7L579.4 467.6L581 467.6L582.5 467.5L584 467.4L585.6 467.3L587.1 467.2L588.6 467.1L590.2 467L591.7 466.9L593.2 466.8L594.8 466.6L596.3 466.4L597.8 466.2L599.4 465.9L600.9 465.6L602.4 465.3L604 465L605.5 464.7L607 464.5L608.6 464.2L610.1 464L611.6 463.8L613.2 463.6L614.7 463.5L616.3 463.4L617.8 463.3L619.3 463.2L620.9 463.1L622.4 463L623.9 462.9L625.5 462.8L627 462.8L628.5 462.7L630.1 462.7L631.6 462.6L633.1 462.6L634.7 462.6L636.2 462.6L637.7 462.6L639.3 462.7L640.8 462.7L642.3 462.8L643.9 462.8L645.4 462.9L646.9 463L648.5 463.1L650 463.2L651.6 463.3L653.1 463.4L654.6 463.5L656.2 463.6L657.7 463.8L659.2 464.1L660.8 464.3L662.3 464.7L663.8 465.1L665.4 465.5L666.9 465.9L668.4 466.4L670 466.8L671.5 467.3L673 467.8L674.6 468.3L676.1 468.8L677.6 469.3L679.2 469.8L680.7 470.4L682.3 471L683.8 471.6L685.3 472.3L686.9 472.9L688.4 473.6L689.9 474.3L691.5 474.9L693 475.6L694.5 476.2L696.1 476.8L697.6 477.3L699.1 477.9L700.7 478.4L702.2 478.9L703.7 479.4L705.3 479.8L706.8 480.3L708.3 480.8L709.9 481.2L711.4 481.7L712.9 482.1L714.5 482.5L716 482.9L717.6 483.4L719.1 483.8L720.6 484.2L722.2 484.6L723.7 485L725.2 485.4L726.8 485.8L728.3 486.1L729.8 486.5L731.4 486.8L732.9 487.2L732.9 515.2L731.4 514.8L729.8 514.5L728.3 514.1L726.8 513.8L725.2 513.4L723.7 513L722.2 512.6L720.6 512.2L719.1 511.8L717.6 511.4L716 510.9L714.5 510.5L712.9 510.1L711.4 509.7L709.9 509.2L708.3 508.8L706.8 508.3L705.3 507.8L703.7 507.4L702.2 506.9L700.7 506.4L699.1 505.9L697.6 505.3L696.1 504.8L694.5 504.2L693 503.6L691.5 502.9L689.9 502.3L688.4 501.6L686.9 500.9L685.3 500.3L683.8 499.6L682.3 499L680.7 498.4L679.2 497.8L677.6 497.3L676.1 496.8L674.6 496.3L673 495.8L671.5 495.3L670 494.8L668.4 494.4L666.9 493.9L665.4 493.5L663.8 493.1L662.3 492.7L660.8 492.3L659.2 492.1L657.7 491.8L656.2 491.6L654.6 491.5L653.1 491.4L651.6 491.3L650 491.2L648.5 491.1L646.9 491L645.4 490.9L643.9 490.8L642.3 490.8L640.8 490.7L639.3 490.7L637.7 490.6L636.2 490.6L634.7 490.6L633.1 490.6L631.6 490.6L630.1 490.7L628.5 490.7L627 490.8L625.5 490.8L623.9 490.9L622.4 491L620.9 491.1L619.3 491.2L617.8 491.3L616.3 491.4L614.7 491.5L613.2 491.6L611.6 491.8L610.1 492L608.6 492.2L607 492.5L605.5 492.7L604 493L602.4 493.3L600.9 493.6L599.4 493.9L597.8 494.2L596.3 494.4L594.8 494.6L593.2 494.8L591.7 494.9L590.2 495L588.6 495.1L587.1 495.2L585.6 495.3L584 495.4L582.5 495.5L581 495.6L579.4 495.6L577.9 495.7L576.3 495.7L574.8 495.8L573.3 495.8L571.7 495.8L570.2 495.8L568.7 495.7L567.1 495.6L565.6 495.5L564.1 495.3L562.5 495.1L561 494.8L559.5 494.6L557.9 494.3L556.4 494.1L554.9 493.8L553.3 493.5L551.8 493.2L550.3 492.9L548.7 492.6L547.2 492.2L545.6 491.8L544.1 491.4L542.6 491L541 490.5L539.5 490L538 489.5L536.4 489L534.9 488.4L533.4 487.8L531.8 487.3L530.3 486.7L528.8 486.1L527.2 485.5L525.7 484.8L524.2 484.1L522.6 483.4L521.1 482.6L519.6 481.8L518 481L516.5 480.2L515 479.4L513.4 478.5L511.9 477.7L510.3 476.8L508.8 476L507.3 475.2L505.7 474.3L504.2 473.4L502.7 472.5L501.1 471.6L499.6 470.7L498.1 469.8L496.5 468.8L495 467.9L493.5 467L491.9 466L490.4 465L488.9 464.1L487.3 463.1L485.8 462.2L484.3 461.2L482.7 460.2L481.2 459.3L479.7 458.3L478.1 457.3L476.6 456.3L475 455.3L473.5 454.3L472 453.3L470.4 452.3L468.9 451.3L467.4 450.3L465.8 449.3L464.3 448.3L462.8 447.3L461.2 446.3L459.7 445.3L458.2 444.2L456.6 443.2L455.1 442.2L453.6 441.2L452 440.2L450.5 439.1L449 438.1L447.4 437.1L445.9 436.1L444.4 435.1L442.8 434.1L441.3 433.1L439.7 432.1L438.2 431.1L436.7 430.1L435.1 429.1L433.6 428.1L432.1 427.1L430.5 426.2L429 425.3L427.5 424.5L425.9 423.6L424.4 422.8L422.9 422L421.3 421.1L419.8 420.3L418.3 419.5L416.7 418.7L415.2 417.9L413.7 417.1L412.1 416.3L410.6 415.5L409 414.7L407.5 413.9L406 413L404.4 412.2L402.9 411.4L401.4 410.6L399.8 409.8L398.3 409L396.8 408.2L395.2 407.4L393.7 406.6L392.2 405.8L390.6 405.1L389.1 404.3L387.6 403.6L386 402.9L384.5 402.2L383 401.5L381.4 400.8L379.9 400.1L378.4 399.4L376.8 398.6L375.3 397.9L373.7 397.1L372.2 396.4L370.7 395.6L369.1 394.7L367.6 393.9L366.1 393.1L364.5 392.2L363 391.3L361.5 390.4L359.9 389.5L358.4 388.6L356.9 387.7L355.3 386.8L353.8 385.8L352.3 384.9L350.7 384L349.2 383L347.7 382.1L346.1 381.1L344.6 380.2L343.1 379.2L341.5 378.2L340 377.2L338.4 376.2L336.9 375.2L335.4 374.2L333.8 373.2L332.3 372.2L330.8 371.1L329.2 370L327.7 369L326.2 367.9L324.6 366.8L323.1 365.7L321.6 364.6L320 363.4L318.5 362.3L317 361.1L315.4 360L313.9 358.8L312.4 357.6L310.8 356.5L309.3 355.3L307.8 354.2L306.2 353L304.7 351.8L303.1 350.5L301.6 349.3L300.1 348.1L298.5 346.9L297 345.7L295.5 344.5L293.9 343.3L292.4 342.2L290.9 341.1L289.3 340L287.8 338.9L286.3 337.8L284.7 336.8L283.2 335.7L281.7 334.7L280.1 333.7L278.6 332.7L277.1 331.7L275.5 330.7L274 329.7L272.4 328.6L270.9 327.6L269.4 326.6L267.8 325.5L266.3 324.5L264.8 323.5L263.2 322.5L261.7 321.5L260.2 320.5L258.6 319.5L257.1 318.5L255.6 317.5L254 316.5L252.5 315.4L251 314.3L249.4 313.1L247.9 311.9L246.4 310.6L244.8 309.2L243.3 307.7L241.8 306.2L240.2 304.6L238.7 302.9L237.1 301.1L235.6 299.3L234.1 297.4L232.5 295.5L231 293.4L229.5 291.3L227.9 289.2L226.4 286.8L224.9 284.4L223.3 281.9L221.8 279.2L220.3 276.4L218.7 273.4L217.2 270.4L215.7 267L214.1 263.4L212.6 259.5L211.1 255.6L209.5 251.7L208 247.9L206.5 244.1L204.9 240.4L203.4 236.6L201.8 232.9L200.3 229.2L198.8 225.3L197.2 221.5L195.7 217.6L194.2 213.8L192.6 209.9L191.1 205.8L189.6 201.7L188 197.5L186.5 193.2L185 188.8L183.4 184.4L181.9 179.8L180.4 175.2L178.8 170.4L177.3 165.6L175.8 160.8L174.2 156L172.7 151.3L171.1 146.6L169.6 141.9L168.1 137.2L166.5 132.6L165 128L163.5 123.5L161.9 119.2L160.4 115L158.9 110.9L157.3 106.8L155.8 102.9L154.3 99L152.7 95.2L151.2 91.5L149.7 87.9L148.1 84.2L146.6 80.6L145.1 77.1L143.5 73.8L142 70.8L140.5 68.2L138.9 65.6L137.4 63.2L135.8 60.9L134.3 58.7L132.8 56.6L131.2 54.8L129.7 53.2L128.2 51.8L126.6 50.6L125.1 49.5L123.6 48.8L122 48.2L120.5 47.8Z" fill="#21918c" fill-opacity="0.2" stroke="none"/>
<path d="M120.5 47.3L123.6 47.4L126.7 47.5L129.7 47.6L132.8 47.8L135.9 47.9L139 48.1L142 48.3L145.1 48.5L148.2 48.7L151.3 48.9L154.4 49.2L157.4 49.4L160.5 49.7L163.6 50L166.7 50.4L169.7 50.8L172.8 51.2L175.9 51.7L179 52.3L182 52.8L185.1 53.4L188.2 54.1L191.3 54.7L194.4 55.4L197.4 56L200.5 56.7L203.6 57.4L206.7 58.1L209.7 58.8L212.8 59.6L215.9 60.4L219 61.2L222.1 62.1L225.1 62.9L228.2 63.8L231.3 64.7L234.4 65.7L237.4 66.6L240.5 67.6L243.6 68.5L246.7 69.5L249.8 70.5L252.8 71.5L255.9 72.6L259 73.6L262.1 74.7L265.1 75.8L268.2 76.9L271.3 78.1L274.4 79.2L277.4 80.4L280.5 81.6L283.6 82.8L286.7 84.1L289.8 85.3L292.8 86.6L295.9 87.9L299 89.3L302.1 90.6L305.1 92L308.2 93.4L311.3 94.8L314.4 96.3L317.5 97.7L320.5 99.2L323.6 100.7L326.7 102.1L329.8 103.6L332.8 105.1L335.9 106.5L339 108L342.1 109.5L345.1 111L348.2 112.6L351.3 114.1L354.4 115.6L357.5 117.2L360.5 118.8L363.6 120.4L366.7 122L369.8 123.7L372.8 125.4L375.9 127.1L379 128.8L382.1 130.5L385.2 132.2L388.2 134L391.3 135.8L394.4 137.6L397.5 139.5L400.5 141.4L403.6 143.3L406.7 145.2L409.8 147.2L412.9 149.2L415.9 151.3L419 153.5L422.1 155.7L425.2 157.9L428.2 160L431.3 162L434.4 164L437.5 166L440.5 168L443.6 170L446.7 172L449.8 173.9L452.9 175.9L455.9 177.8L459 179.7L462.1 181.5L465.2 183.4L468.2 185.3L471.3 187.1L474.4 188.9L477.5 190.8L480.6 192.6L483.6 194.3L486.7 196.1L489.8 197.9L492.9 199.6L495.9 201.3L499 203L502.1 204.8L505.2 206.4L508.3 208.1L511.3 209.8L514.4 211.5L517.5 213.1L520.6 214.8L523.6 216.4L526.7 218L529.8 219.6L532.9 221.2L535.9 222.9L539 224.4L542.1 226L545.2 227.6L548.3 229.2L551.3 230.7L554.4 232.3L557.5 233.8L560.6 235.4L563.6 236.9L566.7 238.4L569.8 239.9L572.9 241.4L576 242.9L579 244.4L582.1 245.8L585.2 247.3L588.3 248.7L591.3 250.2L594.4 251.6L597.5 253L600.6 254.5L603.6 255.9L606.7 257.3L609.8 258.6L612.9 260L616 261.4L619 262.8L622.1 264.1L625.2 265.5L628.3 266.8L631.3 268.1L634.4 269.4L637.5 270.7L640.6 272L643.7 273.3L646.7 274.6L649.8 275.9L652.9 277.2L656 278.4L659 279.7L662.1 280.9L665.2 282.1L668.3 283.4L671.4 284.6L674.4 285.8L677.5 287L680.6 288.1L683.7 289.3L686.7 290.4L689.8 291.6L692.9 292.7L696 293.8L699 294.9L702.1 296L705.2 297.1L708.3 298.2L711.4 299.3L714.4 300.4L717.5 301.4L720.6 302.4L723.7 303.5L726.7 304.5L729.8 305.5L732.9 306.5L732.9 333.5L729.8 332.4L726.7 331.2L723.7 330L720.6 328.9L717.5 327.7L714.4 326.5L711.4 325.3L708.3 324.1L705.2 322.8L702.1 321.6L699 320.4L696 319.1L692.9 317.9L689.8 316.6L686.7 315.3L683.7 314L680.6 312.7L677.5 311.4L674.4 310.1L671.4 308.7L668.3 307.4L665.2 306L662.1 304.6L659 303.2L656 301.8L652.9 300.4L649.8 299L646.7 297.6L643.7 296.2L640.6 294.8L637.5 293.3L634.4 291.9L631.3 290.4L628.3 289L625.2 287.5L622.1 286L619 284.5L616 283L612.9 281.5L609.8 280L606.7 278.4L603.6 276.9L600.6 275.3L597.5 273.8L594.4 272.2L591.3 270.6L588.3 269.1L585.2 267.5L582.1 265.9L579 264.3L576 262.7L572.9 261L569.8 259.4L566.7 257.8L563.6 256.1L560.6 254.4L557.5 252.8L554.4 251.1L551.3 249.4L548.3 247.7L545.2 246L542.1 244.3L539 242.6L535.9 240.8L532.9 239.1L529.8 237.3L526.7 235.6L523.6 233.8L520.6 232L517.5 230.2L514.4 228.5L511.3 226.7L508.3 224.9L505.2 223L502.1 221.2L499 219.4L495.9 217.5L492.9 215.6L489.8 213.8L486.7 211.9L483.6 210L480.6 208L477.5 206.1L474.4 204.2L471.3 202.2L468.2 200.2L465.2 198.2L462.1 196.2L459 194.2L455.9 192.2L452.9 190.1L449.8 188.1L446.7 186L443.6 183.9L440.5 181.8L437.5 179.6L434.4 177.5L431.3 175.3L428.2 173.1L425.2 170.9L422.1 168.7L419 166.3L415.9 163.9L412.9 161.7L409.8 159.6L406.7 157.5L403.6 155.4L400.5 153.3L397.5 151.3L394.4 149.4L391.3 147.4L388.2 145.5L385.2 143.6L382.1 141.7L379 139.8L375.9 138L372.8 136.2L369.8 134.4L366.7 132.6L363.6 130.8L360.5 129.1L357.5 127.4L354.4 125.7L351.3 124L348.2 122.3L345.1 120.7L342.1 119L339 117.4L335.9 115.8L332.8 114.2L329.8 112.6L326.7 111L323.6 109.4L320.5 107.8L317.5 106.2L314.4 104.6L311.3 103L308.2 101.5L305.1 100L302.1 98.4L299 97L295.9 95.5L292.8 94L289.8 92.6L286.7 91.3L283.6 89.9L280.5 88.6L277.4 87.2L274.4 85.9L271.3 84.6L268.2 83.4L265.1 82.1L262.1 80.9L259 79.7L255.9 78.5L252.8 77.3L249.8 76.2L246.7 75.1L243.6 74L240.5 72.9L237.4 71.8L234.4 70.8L231.3 69.7L228.2 68.7L225.1 67.7L222.1 66.7L219 65.7L215.9 64.8L212.8 63.8L209.7 63L206.7 62.1L203.6 61.3L200.5 60.5L197.4 59.7L194.4 58.9L191.3 58.1L188.2 57.4L185.1 56.6L182 55.9L179 55.2L175.9 54.6L172.8 54L169.7 53.4L166.7 52.9L163.6 52.4L160.5 52L157.4 51.6L154.4 51.2L151.3 50.9L148.2 50.5L145.1 50.2L142 49.9L139 49.6L135.9 49.4L132.8 49.1L129.7 48.9L126.7 48.7L123.6 48.5L120.5 48.3Z" fill="#5ec962" fill-opacity="0.2" stroke="none"/>
</g>
<path d="M120.5 631.8v-19.2M120.5 20.0v19.2M273.6 631.8v-19.2M273.6 20.0v19.2M426.7 631.8v-19.2M426.7 20.0v19.2M579.8 631.8v-19.2M579.8 20.0v19.2M732.9 631.8v-19.2M732.9 20.0v19.2M120.5 604h19.2M732.9 604h-19.2M120.5 492.8h19.2M732.9 492.8h-19.2M120.5 381.5h19.2M732.9 381.5h-19.2M120.5 270.3h19.2M732.9 270.3h-19.2M120.5 159h19.2M732.9 159h-19.2M120.5 47.8h19.2M732.9 47.8h-19.2" stroke="#000" stroke-width="3.9" fill="none"/>
<g clip-path="url(#cl)" fill="none" stroke-linejoin="round">
<path d="M120.5 47.8L120.8 53.9L121.1 59.7L121.4 65.2L121.7 70.5L122 75.3L122.3 80.1L122.6 84.9L122.9 89.1L123.3 93.3L123.6 97.4L123.9 100.8L124.2 103.5L124.5 105.7L124.8 108.3L125.1 110.7L125.4 112.2L125.7 114.3L126 115.7L126.3 117.6L126.6 119.3L126.9 121.5L127.2 122.9L127.5 125L127.8 126.6L128.2 127.4L128.5 127.7L128.8 129.8L129.1 131.6L129.4 132.7L129.7 133L130 134.5L130.3 135.5L130.6 137L130.9 139.2L131.2 139.3L131.5 140.8L131.8 142.4L132.1 142.4L132.4 143.5L132.7 144.7L133.1 145.3L133.4 145.3L133.7 147.4L134 149.2L134.3 148.1L134.6 150.5L134.9 151.1L135.2 151.8L135.5 155L135.8 154.8L136.1 153.6L136.4 155.6L136.7 157.3L137 157.8L137.3 159.4L137.6 160L138 161.9L138.3 163.5L138.6 162.4L138.9 163.7L139.2 164.3L139.5 165.5L139.8 165.2L140.1 166.7L140.4 168.9L140.7 171.7L141 172.6L141.3 170.3L141.6 171.7L141.9 174.1L142.2 172.2L142.5 174.7L142.9 177.5L143.2 180.7L143.5 181.1L143.8 180.2L144.1 180.8L144.4 182.8L144.7 186.1L145 184.6L145.3 185.2L145.6 187.2L145.9 187.5L146.2 187.7L146.5 187.4L146.8 189.6L147.1 190.9L147.4 194.3L147.8 194.7L148.1 194.5L148.4 195.9L148.7 196L149 198.6L149.3 198.6L149.6 199.4L149.9 198.1L150.2 200.3L150.5 198.3L150.8 198.6L151.1 202.3L151.4 203.5L151.7 207.1L152 210.9L152.3 207.4L152.7 207.7L153 210.4L153.3 212L153.6 211.9L153.9 212.9L154.2 215.5L154.5 215.8L154.8 214.4L155.1 216.4L155.4 217.6L155.7 217.3L156 219.6L156.3 220L156.6 223.5L156.9 223.8L157.2 224L157.6 223.9L157.9 224.6L158.2 222.9L158.5 225.3L158.8 228.3L159.1 226.9L159.4 231.1L159.7 229.9L160 233.7L160.3 233.7L160.6 236.7L160.9 236.5L161.2 235.5L161.5 240.8L161.8 242.7L162.1 241L162.4 240.9L162.8 241.6L163.1 242L163.4 245.5L163.7 244.6L164 245.3L164.3 245.1L164.6 245.7L164.9 246.7L165.2 251.3L165.5 251.3L165.8 253.2L166.1 252.6L166.4 252L166.7 253.1L167 253.9L167.3 255.4L167.7 255.7L168 255.8L168.3 254.8L168.6 256.9L168.9 261L169.2 258.2L169.5 257.6L169.8 260.8L170.1 262.5L170.4 258.9L170.7 260.1L171 259.9L171.3 259.3L171.6 263.5L171.9 263.8L172.2 263.9L172.6 263.5L172.9 265.4L173.2 264.9L173.5 265.3L173.8 264.3L174.1 265.4L174.4 269.7L174.7 268.5L175 269.6L175.3 269.7L175.6 269.4L175.9 270.2L176.2 272.3L176.5 271.7L176.8 272.2L177.1 273.6L177.5 276.1L177.8 276.1L178.1 275.4L178.4 273.7L178.7 273.4L179 277.7L179.3 278.8L179.6 277.7L179.9 279L180.2 280.3L180.5 281.1L180.8 281.2L181.1 280.2L181.4 282.5L181.7 280L182 283L182.4 284.1L182.7 285.8L183 288.2L183.3 287.5L183.6 283.1L183.9 282.9L184.2 287.1L184.5 286.3L184.8 288.5L185.1 290.2L185.4 286.9L185.7 286.9L186 291.8L186.3 293.2L186.6 293.6L186.9 294.5L187.3 293.5L187.6 293.3L187.9 295.7L188.2 295.2L188.5 295.1L188.8 298.8L189.1 299.3L189.4 299.5L189.7 297.6L190 297.6L190.3 297.4L190.6 298.2L190.9 300L191.2 299.5L191.5 301.4L191.8 303L192.2 304.8L192.5 300.9L192.8 303.4L193.1 303.1L193.4 302.7L193.7 301L194 303.2L194.3 305.9L194.6 305.5L194.9 305.7L195.2 306.1L195.5 308.4L195.8 306.3L196.1 302.9L196.4 304.3L196.7 302.4L197.1 300.9L197.4 306.2L197.7 310.4L198 308.5L198.3 305.9L198.6 306.8L198.9 310.2L199.2 309.4L199.5 308.8L199.8 308.7L200.1 309.3L200.4 310.7L200.7 310.6L201 309.5L201.3 307.9L201.6 309.8L201.9 309.3L202.3 311.1L202.6 308.3L202.9 309.5L203.2 309.8L203.5 309.1L203.8 314.1L204.1 314.5L204.4 311.9L204.7 313.5L205 312.5L205.3 308.9L205.6 313.2L205.9 314.6L206.2 315L206.5 314L206.8 315.8L207.2 317.7L207.5 320.6L207.8 320.3L208.1 320.7L208.4 323.2L208.7 321L209 320.5L209.3 320.3L209.6 326.3L209.9 327.4L210.2 327.7L210.5 327.7L210.8 327.4L211.1 328L211.4 328L211.7 328.8L212.1 330.8L212.4 333.8L212.7 333.2L213 332.1L213.3 331.5L213.6 332.7L213.9 336.7L214.2 335.9L214.5 334.8L214.8 333.7L215.1 332.8L215.4 334.8L215.7 336.4L216 334.5L216.3 334.2L216.6 334.3L217 334.1L217.3 331.6L217.6 332.9L217.9 332.9L218.2 334.8L218.5 333L218.8 334.9L219.1 336.1L219.4 332.8L219.7 331.6L220 332.5L220.3 331.9L220.6 330.4L220.9 333.1L221.2 335.3L221.5 331.8L221.9 330.5L222.2 329.5L222.5 330.9L222.8 328.8L223.1 329.4L223.4 332.9L223.7 330.9L224 333.7L224.3 334.8L224.6 332.9L224.9 333.5L225.2 335.1L225.5 331.7L225.8 329.7L226.1 328.9L226.4 331.8L226.8 334.9L227.1 333.9L227.4 330.6L227.7 330.3L228 331.6L228.3 333.3L228.6 333.3L228.9 334.3L229.2 334.7L229.5 334.2L229.8 334.8L230.1 335.6L230.4 335.9L230.7 337.8L231 340.3L231.3 338.8L231.7 336.9L232 334.8L232.3 337.2L232.6 334.6L232.9 336.1L233.2 340.8L233.5 341.6L233.8 339.8L234.1 337.6L234.4 339.7L234.7 340.8L235 344.2L235.3 347.2L235.6 344.3L235.9 341.9L236.2 341.7L236.5 343.9L236.9 344.2L237.2 343.4L237.5 345.2L237.8 344.9L238.1 348.8L238.4 350.1L238.7 349.8L239 347.8L239.3 348.9L239.6 348.4L239.9 348L240.2 347.9L240.5 346.5L240.8 347.1L241.1 351L241.4 350.9L241.8 351.9L242.1 352.8L242.4 349.1L242.7 350.5L243 353.3L243.3 354.3L243.6 354.2L243.9 356.5L244.2 355.6L244.5 353.3L244.8 354.5L245.1 358.1L245.4 357.7L245.7 355.3L246 360.2L246.3 361.1L246.7 361.8L247 359.6L247.3 359L247.6 359.6L247.9 365L248.2 362.9L248.5 364.2L248.8 361.7L249.1 361.7L249.4 359.6L249.7 362.1L250 364.5L250.3 362.5L250.6 365.8L250.9 365.3L251.2 363.3L251.6 364.1L251.9 365.2L252.2 366.2L252.5 365.9L252.8 366L253.1 366.9L253.4 366.2L253.7 366.4L254 369.2L254.3 370.6L254.6 367.5L254.9 369L255.2 368.5L255.5 368.4L255.8 371L256.1 370.3L256.5 372.3L256.8 369.7L257.1 370.7L257.4 370.1L257.7 369.7L258 371.9L258.3 371.9L258.6 373.1L258.9 372.3L259.2 371L259.5 372.8L259.8 374.3L260.1 375.6L260.4 373.3L260.7 373.6L261 372.2L261.4 375.1L261.7 372.8L262 371.7L262.3 375.1L262.6 376.9L262.9 373.1L263.2 373L263.5 373.8L263.8 374.2L264.1 376.5L264.4 375.4L264.7 376L265 378.2L265.3 377.4L265.6 378.8L265.9 377.1L266.3 376.4L266.6 377.3L266.9 383.2L267.2 381.8L267.5 382.3L267.8 382.6L268.1 383.3L268.4 384.5L268.7 387L269 382.8L269.3 381.2L269.6 382.2L269.9 383.2L270.2 387.2L270.5 387.8L270.8 384.7L271.2 383.9L271.5 386.7L271.8 388.7L272.1 383.7L272.4 387.5L272.7 387.4L273 389.9L273.3 387.9L273.6 388.4L273.9 387.5L274.2 389.7L274.5 394.7L274.8 395.1L275.1 393.3L275.4 392.3L275.7 391.7L276 395L276.4 397L276.7 397.8L277 397.9L277.3 397L277.6 398.9L277.9 400.5L278.2 403.6L278.5 404.7L278.8 401.5L279.1 400.1L279.4 401.1L279.7 400.6L280 400.6L280.3 401.5L280.6 400.8L280.9 403.1L281.3 402.8L281.6 402.9L281.9 402.1L282.2 400.8L282.5 400.5L282.8 401.6L283.1 401.8L283.4 403.1L283.7 402.6L284 400.9L284.3 402.4L284.6 401L284.9 402L285.2 402.3L285.5 400.4L285.8 403.7L286.2 404.8L286.5 404.4L286.8 403.9L287.1 403.8L287.4 403.2L287.7 404.3L288 404.5L288.3 405.2L288.6 404L288.9 406.2L289.2 406.7L289.5 406.3L289.8 406.3L290.1 407.2L290.4 404.9L290.7 407.9L291.1 408.7L291.4 409.1L291.7 409.1L292 407.7L292.3 408.7L292.6 410.7L292.9 410.8L293.2 409.8L293.5 407.8L293.8 411.1L294.1 413.2L294.4 413L294.7 410.8L295 408.4L295.3 411.6L295.6 409.7L296 406.2L296.3 409.5L296.6 407.5L296.9 407.4L297.2 409.5L297.5 412.5L297.8 410.7L298.1 411.8L298.4 414.6L298.7 414.1L299 410.8L299.3 409.2L299.6 407.4L299.9 408.2L300.2 410.2L300.5 410.3L300.9 409.9L301.2 410.3L301.5 407.6L301.8 408.3L302.1 409.7L302.4 409.9L302.7 410.3L303 408.9L303.3 407.5L303.6 407.7L303.9 405.2L304.2 404.4L304.5 407.7L304.8 407.7L305.1 407.1L305.4 404.2L305.8 405.6L306.1 405.5L306.4 404.3L306.7 402.5L307 405.7L307.3 408.5L307.6 407.6L307.9 405.7L308.2 406.6L308.5 406.6L308.8 401.7L309.1 405.2L309.4 407.8L309.7 409L310 410.9L310.3 410.3L310.7 408.9L311 409.2L311.3 410L311.6 408.6L311.9 409.9L312.2 412.9L312.5 414.9L312.8 412.2L313.1 412.3L313.4 413.9L313.7 416.1L314 415.4L314.3 417L314.6 414.2L314.9 415.1L315.2 416.3L315.5 418.6L315.9 418.7L316.2 414.8L316.5 415.5L316.8 417.7L317.1 416.1L317.4 415.3L317.7 419.2L318 419.3L318.3 418.6L318.6 417.5L318.9 419.1L319.2 418L319.5 418.9L319.8 415.8L320.1 415.4L320.4 416.8L320.8 416.1L321.1 417.8L321.4 417L321.7 414.9L322 415.8L322.3 415.8L322.6 417L322.9 414.7L323.2 414.8L323.5 418.1L323.8 420.3L324.1 419.3L324.4 415.6L324.7 415.4L325 416.9L325.3 414L325.7 412.1L326 413.6L326.3 414L326.6 411.3L326.9 409.2L327.2 410L327.5 413L327.8 411.5L328.1 412.1L328.4 413.2L328.7 413.8L329 412.8L329.3 413.6L329.6 412.1L329.9 412.7L330.2 413.3L330.6 417.1L330.9 416.4L331.2 415.6L331.5 416.8L331.8 418.4L332.1 419.9L332.4 417.2L332.7 418.2L333 421.6L333.3 427.1L333.6 425.7L333.9 424L334.2 426.1L334.5 428.3L334.8 425.2L335.1 425.1L335.5 427.9L335.8 427.8L336.1 427.6L336.4 427L336.7 431L337 431.5L337.3 429.7L337.6 428.5L337.9 425.2L338.2 428.7L338.5 428.9L338.8 430L339.1 430.5L339.4 428.3L339.7 426.6L340 429.4L340.4 428.6L340.7 429L341 428.9L341.3 428.6L341.6 426.9L341.9 432.1L342.2 432.5L342.5 434.1L342.8 435.3L343.1 431.5L343.4 427.9L343.7 428.7L344 429L344.3 430.5L344.6 431.2L344.9 428.9L345.3 431.7L345.6 430.4L345.9 433L346.2 433.2L346.5 433L346.8 433.4L347.1 432.9L347.4 432.3L347.7 431.3L348 434.8L348.3 439.2L348.6 440.1L348.9 438.8L349.2 437L349.5 435.3L349.8 437.9L350.1 436.2L350.5 435.6L350.8 435.4L351.1 435.9L351.4 435.4L351.7 435.6L352 434.5L352.3 436.7L352.6 441L352.9 438.2L353.2 437.5L353.5 439.2L353.8 439.4L354.1 437L354.4 438.7L354.7 441.1L355 440.7L355.4 441L355.7 442.7L356 439.8L356.3 440L356.6 440.1L356.9 441.9L357.2 437.1L357.5 437.9L357.8 439.1L358.1 441.2L358.4 441.8L358.7 441.7L359 437.6L359.3 439.8L359.6 438.7L359.9 437.9L360.3 439.1L360.6 436.4L360.9 434.3L361.2 436.1L361.5 435.1L361.8 436.4L362.1 438.5L362.4 439.2L362.7 440.6L363 437.2L363.3 434.3L363.6 434.9L363.9 434.7L364.2 434.8L364.5 437.1L364.8 435.3L365.2 433.6L365.5 437.4L365.8 437.4L366.1 437.9L366.4 438L366.7 438.8L367 438.7L367.3 440.5L367.6 439.9L367.9 439.9L368.2 439.5L368.5 437.2L368.8 439.2L369.1 440.4L369.4 441.1L369.7 440.4L370.1 444.9L370.4 443.5L370.7 440.7L371 440.3L371.3 443L371.6 444L371.9 443.5L372.2 444.6L372.5 444.3L372.8 445.7L373.1 444.4L373.4 445.8L373.7 448.8L374 450.7L374.3 445.5L374.6 445L375 445.5L375.3 447.7L375.6 445.6L375.9 446.5L376.2 447.5L376.5 446.3L376.8 446.4L377.1 446.9L377.4 444.8L377.7 446L378 448.6L378.3 450.2L378.6 449.4L378.9 447.2L379.2 449.7L379.5 452.6L379.9 452.7L380.2 451.3L380.5 450.4L380.8 452.4L381.1 450.8L381.4 449.6L381.7 451.1L382 454.9L382.3 454.2L382.6 454.7L382.9 452.8L383.2 453.9L383.5 451.9L383.8 453.1L384.1 457.2L384.4 454.6L384.8 451.7L385.1 451.9L385.4 453.2L385.7 454.2L386 451L386.3 448.8L386.6 451.1L386.9 452.5L387.2 453.5L387.5 455.4L387.8 454.6L388.1 454.3L388.4 452.1L388.7 455.4L389 457.9L389.3 455.9L389.6 454.3L390 454.6L390.3 456.2L390.6 452.3L390.9 452.8L391.2 454.2L391.5 454.4L391.8 452.7L392.1 453.3L392.4 452.8L392.7 453.3L393 452.7L393.3 451.6L393.6 453.9L393.9 455.5L394.2 453.4L394.5 454.7L394.9 456.4L395.2 454.7L395.5 456.1L395.8 455.9L396.1 460.2L396.4 463.6L396.7 463L397 459.6L397.3 460.3L397.6 459.9L397.9 460.5L398.2 462.1L398.5 458.9L398.8 461.7L399.1 461.6L399.4 463.5L399.8 461.7L400.1 460.3L400.4 461.9L400.7 463L401 462.3L401.3 462.4L401.6 460.1L401.9 458.1L402.2 462.8L402.5 463.5L402.8 462.3L403.1 462.3L403.4 463.2L403.7 460.7L404 459.7L404.3 460.9L404.7 462.2L405 459L405.3 461.3L405.6 458.6L405.9 457.6L406.2 460.5L406.5 458.1L406.8 455.2L407.1 456.3L407.4 458.5L407.7 458.2L408 455.2L408.3 455.4L408.6 455.1L408.9 452.6L409.2 453L409.6 451.9L409.9 450.3L410.2 449.9L410.5 450.5L410.8 450L411.1 448.7L411.4 449.1L411.7 451.3L412 450.6L412.3 451.5L412.6 452.1L412.9 452L413.2 453.5L413.5 449.7L413.8 451L414.1 450.9L414.5 454.4L414.8 453.7L415.1 447.7L415.4 448.8L415.7 452.3L416 453.4L416.3 453.1L416.6 451.9L416.9 452.6L417.2 452.8L417.5 452L417.8 452.2L418.1 448L418.4 450.9L418.7 450L419 452.3L419.4 450.7L419.7 449.5L420 450.9L420.3 449.1L420.6 448.3L420.9 447.9L421.2 450.8L421.5 452.7L421.8 453.6L422.1 452.4L422.4 453.7L422.7 452.5L423 452.3L423.3 453.8L423.6 454.5L423.9 452.4L424.3 452.2L424.6 452.6L424.9 452.8L425.2 452.1L425.5 454.6L425.8 453.4L426.1 453.8L426.4 452.5L426.7 454.2L427 454.5L427.3 454.3L427.6 457.6L427.9 456.5L428.2 458L428.5 456.4L428.8 453.3L429.1 453.5L429.5 454.9L429.8 454.6L430.1 454.2L430.4 452.9L430.7 450.6L431 451.9L431.3 450.1L431.6 453.4L431.9 452.6L432.2 452.5L432.5 453.6L432.8 454.1L433.1 451.2L433.4 450.4L433.7 451.2L434 450.3L434.4 453.1L434.7 457.1L435 454.3L435.3 455.4L435.6 453.2L435.9 455L436.2 454.6L436.5 454.9L436.8 456.5L437.1 458L437.4 455.5L437.7 453.9L438 452.3L438.3 454L438.6 453.4L438.9 454.4L439.3 453.8L439.6 454.8L439.9 449.4L440.2 451.1L440.5 453.2L440.8 451.1L441.1 449.8L441.4 449.9L441.7 448.6L442 451.7L442.3 455.8L442.6 453.3L442.9 448.7L443.2 448.2L443.5 449.6L443.8 451.5L444.2 448.9L444.5 449.1L444.8 452L445.1 452.2L445.4 449.7L445.7 447.7L446 447L446.3 447.8L446.6 446.8L446.9 450.9L447.2 450.3L447.5 452.4L447.8 455.1L448.1 453.5L448.4 450L448.7 452.8L449.1 453.5L449.4 450.3L449.7 449.7L450 450.7L450.3 450.1L450.6 453.6L450.9 448.9L451.2 450.4L451.5 452.9L451.8 453.9L452.1 455.1L452.4 455.6L452.7 455.6L453 456.7L453.3 452.6L453.6 454.9L454 455.1L454.3 456.5L454.6 456.7L454.9 455L455.2 455.8L455.5 458.5L455.8 458.2L456.1 457.6L456.4 462.3L456.7 462.6L457 457L457.3 459.6L457.6 463.8L457.9 461.7L458.2 459.9L458.5 458.8L458.9 458.2L459.2 458.6L459.5 458.8L459.8 460.5L460.1 459.1L460.4 458.2L460.7 457.3L461 458.7L461.3 458L461.6 459.5L461.9 461.7L462.2 461.1L462.5 461.1L462.8 460.8L463.1 460.1L463.4 459.6L463.8 459.7L464.1 460.8L464.4 459.2L464.7 462.2L465 460.7L465.3 458.9L465.6 459.1L465.9 459.3L466.2 460.4L466.5 460.1L466.8 462.3L467.1 459L467.4 456.2L467.7 457.8L468 457.1L468.3 460.6L468.6 463.2L469 462.2L469.3 458.7L469.6 460.1L469.9 464.3L470.2 462.7L470.5 462.1L470.8 464.5L471.1 467L471.4 465.1L471.7 462.6L472 462.6L472.3 462.6L472.6 460.3L472.9 459.5L473.2 460.9L473.5 460.1L473.9 461.3L474.2 463.1L474.5 465.8L474.8 461.4L475.1 461.3L475.4 461.8L475.7 463.2L476 463.8L476.3 461.2L476.6 459.5L476.9 458.1L477.2 459.6L477.5 462.3L477.8 461.6L478.1 459.7L478.4 460.6L478.8 461.7L479.1 462.3L479.4 460.6L479.7 460.1L480 457.7L480.3 459.4L480.6 463L480.9 458.3L481.2 460.2L481.5 461.8L481.8 460.9L482.1 460.3L482.4 461.5L482.7 462L483 461.2L483.3 458.8L483.7 460.9L484 460.6L484.3 461.2L484.6 462.9L484.9 464.1L485.2 464.1L485.5 462.4L485.8 464.4L486.1 465.5L486.4 465.7L486.7 465.5L487 462.9L487.3 462.6L487.6 463.5L487.9 460.8L488.2 462.5L488.6 462L488.9 461.5L489.2 459.6L489.5 461L489.8 463.5L490.1 465.6L490.4 465.8L490.7 463.9L491 463L491.3 462.3L491.6 464L491.9 463.7L492.2 465.4L492.5 466.9L492.8 463.4L493.1 460.2L493.5 460.3L493.8 459.5L494.1 460.8L494.4 464.9L494.7 463.3L495 460.7L495.3 464.1L495.6 465.5L495.9 462.9L496.2 461.9L496.5 462.8L496.8 464.4L497.1 465.8L497.4 467.1L497.7 467.6L498 467.8L498.4 468L498.7 466L499 462.6L499.3 464.5L499.6 465.8L499.9 465.5L500.2 467.1L500.5 465.4L500.8 465.1L501.1 469.1L501.4 468.8L501.7 468.3L502 469.7L502.3 470.3L502.6 468.1L502.9 463.8L503.2 466.1L503.6 467.3L503.9 467.2L504.2 469.8L504.5 471.5L504.8 468.8L505.1 468.4L505.4 472.8L505.7 469.5L506 467.8L506.3 470.3L506.6 471L506.9 469.9L507.2 471.7L507.5 470.1L507.8 469.5L508.1 471.8L508.5 473L508.8 471.4L509.1 472.6L509.4 473.7L509.7 477.4L510 473.5L510.3 475.2L510.6 473.6L510.9 473.4L511.2 475.1L511.5 476.1L511.8 476.5L512.1 474.7L512.4 472.7L512.7 473L513 475.1L513.4 476.1L513.7 477.4L514 476.4L514.3 477.5L514.6 478.1L514.9 475.3L515.2 472L515.5 471.9L515.8 473L516.1 477.4L516.4 475.4L516.7 477.8L517 478.2L517.3 479.7L517.6 478.5L517.9 476.2L518.3 475.7L518.6 476.4L518.9 476.5L519.2 475.6L519.5 477.1L519.8 479L520.1 474.9L520.4 476.6L520.7 476.1L521 478L521.3 479.5L521.6 478.7L521.9 479L522.2 476.5L522.5 479.8L522.8 478.6L523.2 480L523.5 478.7L523.8 474.5L524.1 477.2L524.4 480.5L524.7 482.9L525 481.2L525.3 480L525.6 478.3L525.9 482.8L526.2 484L526.5 480.9L526.8 479.1L527.1 477.6L527.4 482.4L527.7 486L528.1 483.6L528.4 483.5L528.7 482L529 480.2L529.3 482.7L529.6 479.8L529.9 481L530.2 482.8L530.5 484.1L530.8 483.7L531.1 483.1L531.4 481L531.7 480.3L532 482.2L532.3 481.3L532.6 480L533 480.2L533.3 481.1L533.6 479.3L533.9 479.6L534.2 480.2L534.5 483.5L534.8 485.5L535.1 487L535.4 481.9L535.7 482.6L536 485.3L536.3 484.1L536.6 484.3L536.9 487.1L537.2 484L537.5 481.6L537.9 481.8L538.2 484.7L538.5 484.8L538.8 482L539.1 482.7L539.4 485.7L539.7 486L540 484.5L540.3 486.3L540.6 485.7L540.9 482.2L541.2 484.1L541.5 485.6L541.8 483.5L542.1 481.1L542.4 484.2L542.7 487.2L543.1 487.5L543.4 483.2L543.7 488.5L544 484.9L544.3 487.1L544.6 488.3L544.9 487.6L545.2 485.3L545.5 483.3L545.8 485.2L546.1 482.7L546.4 481.1L546.7 488.8L547 487.8L547.3 487.5L547.6 484.1L548 487.1L548.3 488.3L548.6 487.6L548.9 484.3L549.2 482L549.5 482.5L549.8 479.7L550.1 480.7L550.4 483.9L550.7 483.4L551 484.6L551.3 486.3L551.6 489.9L551.9 489.3L552.2 487.3L552.5 488.2L552.9 485.5L553.2 486L553.5 487.5L553.8 484.6L554.1 484.9L554.4 484.1L554.7 486.8L555 489.1L555.3 485.9L555.6 486.1L555.9 484.4L556.2 483.4L556.5 484.4L556.8 489.6L557.1 491.7L557.4 488.2L557.8 486L558.1 487.6L558.4 487L558.7 488.4L559 488.1L559.3 488.1L559.6 488.2L559.9 486.4L560.2 485.7L560.5 484L560.8 485.3L561.1 484.7L561.4 486.2L561.7 485.8L562 487.5L562.3 487.7L562.7 484.8L563 484.9L563.3 485.7L563.6 489L563.9 491.1L564.2 489.5L564.5 487.7L564.8 489.2L565.1 486L565.4 489.2L565.7 485.9L566 483.8L566.3 492.3L566.6 491.8L566.9 487.5L567.2 488.5L567.6 488.8L567.9 488.7L568.2 486.6L568.5 488L568.8 490.5L569.1 491.1L569.4 492.4L569.7 491.8L570 494L570.3 489.8L570.6 489.2L570.9 485.9L571.2 487.1L571.5 490.9L571.8 488.6L572.1 489.8L572.5 488.9L572.8 487.2L573.1 487.9L573.4 487.9L573.7 488.5L574 490.8L574.3 490.7L574.6 488.4L574.9 487.9L575.2 489.9L575.5 490.5L575.8 493.3L576.1 496.2L576.4 493.6L576.7 491.5L577 490.9L577.4 489.9L577.7 489.8L578 490.2L578.3 491.5L578.6 492.6L578.9 494.4L579.2 493.2L579.5 492.7L579.8 492.4L580.1 496.7L580.4 496.6L580.7 498L581 497.1L581.3 497.2L581.6 494.9L581.9 496.7L582.2 499L582.6 494L582.9 496.9L583.2 498.5L583.5 496.8L583.8 497.2L584.1 497.6L584.4 495L584.7 495.8L585 494.2L585.3 494.2L585.6 494.8L585.9 496L586.2 497L586.5 496.9L586.8 495.3L587.1 500.4L587.5 500.3L587.8 498.7L588.1 496.6L588.4 496.9L588.7 498.1L589 497.2L589.3 494.4L589.6 498.9L589.9 501.8L590.2 495.3L590.5 498L590.8 497.8L591.1 497.2L591.4 498.4L591.7 494.8L592 496.5L592.4 498.5L592.7 495.6L593 494.4L593.3 494.7L593.6 494.5L593.9 496.5L594.2 493.4L594.5 494.2L594.8 491.7L595.1 493.6L595.4 491.6L595.7 487.6L596 490.5L596.3 489.8L596.6 491.2L596.9 493.7L597.3 489.6L597.6 489.6L597.9 493.6L598.2 492.9L598.5 494.4L598.8 492.3L599.1 490L599.4 491.7L599.7 494.5L600 494.3L600.3 492.6L600.6 492.3L600.9 491.9L601.2 492.3L601.5 495.9L601.8 493.1L602.2 490.6L602.5 491.9L602.8 494.5L603.1 494.7L603.4 493.2L603.7 492.3L604 492.8L604.3 490.3L604.6 491.5L604.9 495.2L605.2 494.5L605.5 496.2L605.8 498.2L606.1 497.6L606.4 497.4L606.7 500.6L607.1 498.7L607.4 496.8L607.7 498.3L608 497.7L608.3 495.7L608.6 496.7L608.9 495.7L609.2 493L609.5 495.2L609.8 495.5L610.1 494.4L610.4 492.4L610.7 494.1L611 495.1L611.3 494.7L611.6 493L612 494.6L612.3 492.2L612.6 493.6L612.9 495.8L613.2 492.7L613.5 492.7L613.8 494.9L614.1 492.8L614.4 492.5L614.7 493.8L615 494L615.3 489L615.6 490L615.9 490.2L616.2 490.2L616.5 490.6L616.9 491.3L617.2 492.9L617.5 491.7L617.8 493.1L618.1 493.5L618.4 491.9L618.7 493.5L619 496L619.3 493.7L619.6 491.5L619.9 491.7L620.2 490.8L620.5 492.8L620.8 493.6L621.1 491L621.4 491.9L621.7 493.7L622.1 491.6L622.4 491.4L622.7 489.4L623 489.3L623.3 490.9L623.6 494.6L623.9 490.9L624.2 489.3L624.5 489.2L624.8 490.2L625.1 491.5L625.4 491.8L625.7 494.1L626 492.1L626.3 493L626.6 491.6L627 490.8L627.3 487.9L627.6 489.5L627.9 490.1L628.2 489L628.5 486.9L628.8 490.9L629.1 490L629.4 489.5L629.7 489.8L630 490.2L630.3 490.6L630.6 488L630.9 488.4L631.2 490.7L631.5 490.8L631.9 489.8L632.2 489.1L632.5 489L632.8 490.9L633.1 492.6L633.4 490.4L633.7 493.9L634 493.4L634.3 491.6L634.6 492.4L634.9 489.1L635.2 488.2L635.5 489.5L635.8 491.7L636.1 492.5L636.4 492.8L636.8 493.2L637.1 491L637.4 494.2L637.7 492.6L638 493.6L638.3 494.3L638.6 493.3L638.9 493.1L639.2 494.4L639.5 496.9L639.8 498.6L640.1 498.4L640.4 495.9L640.7 495.8L641 496.4L641.3 497.9L641.7 495.8L642 500L642.3 498.4L642.6 497.9L642.9 500.3L643.2 501.9L643.5 501.4L643.8 502.1L644.1 501.4L644.4 503L644.7 502.9L645 501.2L645.3 502.7L645.6 500.9L645.9 499.6L646.2 497.9L646.6 498.8L646.9 499.9L647.2 497.2L647.5 499.5L647.8 499.6L648.1 498L648.4 494.3L648.7 497.1L649 498.6L649.3 496.7L649.6 496.4L649.9 493.6L650.2 497.4L650.5 496.9L650.8 497.9L651.1 494.8L651.5 497.7L651.8 497.6L652.1 498.3L652.4 495.8L652.7 496.9L653 500.7L653.3 496.5L653.6 495.5L653.9 495.9L654.2 495.7L654.5 499.5L654.8 500.2L655.1 495.5L655.4 493.8L655.7 498.3L656 499.2L656.3 498.7L656.7 498.1L657 494.8L657.3 494.5L657.6 492.6L657.9 493L658.2 496.6L658.5 496L658.8 499.6L659.1 496.7L659.4 495.1L659.7 497.9L660 499.8L660.3 497.2L660.6 494.3L660.9 496.9L661.2 498.7L661.6 495.8L661.9 495.3L662.2 498.1L662.5 497L662.8 494.8L663.1 495.6L663.4 495.8L663.7 497.7L664 498.5L664.3 500.3L664.6 499.2L664.9 496L665.2 499L665.5 500.8L665.8 500.8L666.1 501.2L666.5 498.8L666.8 498.5L667.1 501.1L667.4 498.2L667.7 497.2L668 502L668.3 500.8L668.6 500.6L668.9 499.2L669.2 499.3L669.5 500.3L669.8 502.4L670.1 503.2L670.4 500.3L670.7 503.9L671 501.9L671.4 502.2L671.7 505.1L672 503.9L672.3 502.4L672.6 506.6L672.9 503.7L673.2 504.4L673.5 505.3L673.8 506.5L674.1 504.3L674.4 505.2L674.7 503.3L675 504.9L675.3 502.4L675.6 503.1L675.9 506.5L676.3 504.4L676.6 504.1L676.9 506.9L677.2 503.8L677.5 501.4L677.8 502.7L678.1 501L678.4 504.3L678.7 504.7L679 501.5L679.3 501.1L679.6 502.4L679.9 502.1L680.2 501L680.5 502.3L680.8 499L681.2 500.8L681.5 501.7L681.8 502.2L682.1 502.6L682.4 500.9L682.7 503.2L683 502.4L683.3 500.8L683.6 499.4L683.9 500.1L684.2 502.3L684.5 501.1L684.8 502.8L685.1 505L685.4 505.6L685.7 505.8L686.1 502.5L686.4 501.3L686.7 504.7L687 505L687.3 506L687.6 505.3L687.9 507.3L688.2 507.6L688.5 507.6L688.8 507.6L689.1 507.7L689.4 507.8L689.7 508.5L690 509.6L690.3 508.6L690.6 511.5L691 510L691.3 511L691.6 509.7L691.9 510.3L692.2 513.5L692.5 510.1L692.8 507.9L693.1 508.8L693.4 511L693.7 514.9L694 512.9L694.3 512.5L694.6 509.9L694.9 511.4L695.2 512.9L695.5 513.7L695.8 509.9L696.2 510.6L696.5 509.6L696.8 507.1L697.1 507.6L697.4 506.2L697.7 503.1L698 506.9L698.3 507.1L698.6 504.4L698.9 503L699.2 506.6L699.5 505.5L699.8 506L700.1 505.8L700.4 502.7L700.7 503.4L701.1 502L701.4 501.6L701.7 501.6L702 502.1L702.3 503.6L702.6 502.2L702.9 501.1L703.2 501L703.5 501.4L703.8 499.6L704.1 499.9L704.4 500.7L704.7 500.1L705 500.5L705.3 501L705.6 505.3L706 504.9L706.3 502.9L706.6 502.8L706.9 505.9L707.2 503.5L707.5 502.2L707.8 502.9L708.1 503.7L708.4 505.2L708.7 504.2L709 506.1L709.3 502.4L709.6 503.2L709.9 502.2L710.2 505.5L710.5 503.1L710.9 503.1L711.2 505.1L711.5 505.1L711.8 501.4L712.1 501.4L712.4 500.6L712.7 502.9L713 503.2L713.3 502.6L713.6 502.2L713.9 502.6L714.2 502.8L714.5 505.4L714.8 506.4L715.1 501.5L715.4 503.2L715.8 503.9L716.1 504.9L716.4 503.1L716.7 503.5L717 503L717.3 505.4L717.6 505L717.9 504.4L718.2 504.8L718.5 503.3L718.8 501.5L719.1 504.6L719.4 504.7L719.7 504.2L720 506.1L720.3 506.1L720.7 502.2L721 502.9L721.3 507.2L721.6 507.2L721.9 503.3L722.2 501.9L722.5 502.9L722.8 503L723.1 502L723.4 503.9L723.7 502.4L724 503L724.3 506.2L724.6 504.6L724.9 505.4L725.2 507.1L725.6 507.3L725.9 505.5L726.2 505.3L726.5 505.1L726.8 508.9L727.1 507.3L727.4 504.2L727.7 505.8L728 507.5L728.3 508L728.6 510.2L728.9 509.1L729.2 505.8L729.5 505.3L729.8 504.1L730.1 506.4L730.5 508.1L730.8 511.6L731.1 507.1L731.4 502.8L731.7 504.7L732 506.2L732.3 504.4L732.6 504.7L732.9 505.8" stroke="#440154" stroke-width="5.8"/>
<path d="M120.5 47.8L121.4 48.3L122.3 49.7L123.1 51.5L124 54.4L124.9 59L125.8 64.7L126.6 71L127.5 77.2L128.4 82.8L129.3 88L130.1 93.2L131 98.5L131.9 103.6L132.8 108.6L133.6 113.3L134.5 117.7L135.4 121.6L136.3 125.4L137.1 129L138 132.4L138.9 135.8L139.8 139L140.7 142.1L141.5 145.1L142.4 148L143.3 150.9L144.2 153.7L145 156.5L145.9 159.1L146.8 161.7L147.7 164.2L148.5 166.7L149.4 169.1L150.3 171.4L151.2 173.7L152 175.9L152.9 178L153.8 180L154.7 182L155.5 183.9L156.4 185.9L157.3 187.9L158.2 190L159 192.1L159.9 194.3L160.8 196.6L161.7 199L162.6 201.3L163.4 203.8L164.3 206.3L165.2 208.8L166.1 211.4L166.9 214.1L167.8 216.8L168.7 219.6L169.6 222.5L170.4 225.4L171.3 228.5L172.2 231.5L173.1 234.7L173.9 237.9L174.8 241.4L175.7 244.9L176.6 248.5L177.4 252L178.3 255.4L179.2 258.6L180.1 261.7L181 264.7L181.8 267.6L182.7 270.5L183.6 273.3L184.5 276.1L185.3 278.8L186.2 281.5L187.1 284.1L188 286.7L188.8 289.2L189.7 291.7L190.6 294.1L191.5 296.5L192.3 298.9L193.2 301.2L194.1 303.4L195 305.5L195.8 307.6L196.7 309.7L197.6 311.8L198.5 313.9L199.3 316.1L200.2 318.4L201.1 320.9L202 323.5L202.9 326.2L203.7 328.8L204.6 331.5L205.5 334.1L206.4 336.6L207.2 338.9L208.1 340.9L209 342.8L209.9 344.7L210.7 346.4L211.6 348L212.5 349.4L213.4 350.5L214.2 351.2L215.1 351.6L216 351.9L216.9 352.2L217.7 352.4L218.6 352.6L219.5 352.8L220.4 353L221.3 353.1L222.1 353.3L223 353.6L223.9 353.9L224.8 354.3L225.6 354.9L226.5 355.7L227.4 356.8L228.3 358.1L229.1 359.5L230 360.9L230.9 362.4L231.8 363.8L232.6 365.1L233.5 366.2L234.4 367.4L235.3 368.7L236.1 370L237 371.3L237.9 372.5L238.8 373.6L239.7 374.4L240.5 375L241.4 375.3L242.3 375.3L243.2 375.2L244 375.1L244.9 375L245.8 374.9L246.7 374.8L247.5 374.6L248.4 374.5L249.3 374.4L250.2 374.3L251 374.2L251.9 374.2L252.8 374.4L253.7 375L254.5 376L255.4 377.2L256.3 378.6L257.2 380.1L258 381.6L258.9 382.9L259.8 384.1L260.7 385L261.6 385.8L262.4 386.7L263.3 387.6L264.2 388.5L265.1 389.2L265.9 389.9L266.8 390.4L267.7 390.8L268.6 391L269.4 390.9L270.3 390.7L271.2 390.3L272.1 389.8L272.9 389.1L273.8 388.4L274.7 387.7L275.6 386.9L276.4 386.1L277.3 385.4L278.2 384.8L279.1 384.3L280 383.9L280.8 383.6L281.7 383.6L282.6 383.8L283.5 384.3L284.3 385L285.2 385.8L286.1 386.7L287 387.7L287.8 388.7L288.7 389.8L289.6 390.8L290.5 391.8L291.3 393L292.2 394.4L293.1 395.9L294 397.4L294.8 398.9L295.7 400.2L296.6 401.3L297.5 402.1L298.4 402.6L299.2 402.9L300.1 403.1L301 403.4L301.9 403.7L302.7 403.9L303.6 404.1L304.5 404.2L305.4 404.4L306.2 404.5L307.1 404.5L308 404.6L308.9 404.6L309.7 404.6L310.6 404.6L311.5 404.6L312.4 404.6L313.2 404.6L314.1 404.6L315 404.6L315.9 404.6L316.7 404.6L317.6 404.6L318.5 404.6L319.4 404.6L320.3 404.6L321.1 404.6L322 404.6L322.9 404.6L323.8 404.6L324.6 404.6L325.5 404.6L326.4 404.6L327.3 404.7L328.1 404.9L329 405.1L329.9 405.4L330.8 405.7L331.6 406L332.5 406.4L333.4 406.8L334.3 407.2L335.1 407.6L336 408L336.9 408.4L337.8 408.8L338.7 409.2L339.5 409.6L340.4 409.9L341.3 410.3L342.2 410.7L343 411.2L343.9 411.7L344.8 412.2L345.7 412.7L346.5 413.1L347.4 413.6L348.3 414L349.2 414.4L350 414.7L350.9 414.9L351.8 415L352.7 415.1L353.5 415.1L354.4 414.9L355.3 414.7L356.2 414.5L357 414.2L357.9 413.9L358.8 413.6L359.7 413.2L360.6 412.9L361.4 412.6L362.3 412.3L363.2 412.1L364.1 412L364.9 411.9L365.8 411.9L366.7 412.1L367.6 412.4L368.4 412.8L369.3 413.2L370.2 413.7L371.1 414.3L371.9 414.8L372.8 415.4L373.7 415.9L374.6 416.3L375.4 416.7L376.3 417L377.2 417.2L378.1 417.2L379 417.1L379.8 417L380.7 416.8L381.6 416.6L382.5 416.3L383.3 416.1L384.2 415.8L385.1 415.6L386 415.4L386.8 415.2L387.7 415.1L388.6 415.1L389.5 415.3L390.3 415.7L391.2 416.2L392.1 416.9L393 417.7L393.8 418.5L394.7 419.4L395.6 420.3L396.5 421.1L397.4 421.9L398.2 422.5L399.1 423L400 423.4L400.9 423.5L401.7 423.4L402.6 423.3L403.5 423L404.4 422.6L405.2 422.2L406.1 421.8L407 421.3L407.9 420.7L408.7 420.2L409.6 419.7L410.5 419.3L411.4 418.9L412.2 418.5L413.1 418.3L414 418.1L414.9 417.9L415.7 417.7L416.6 417.6L417.5 417.4L418.4 417.3L419.3 417.1L420.1 417L421 416.8L421.9 416.7L422.8 416.6L423.6 416.5L424.5 416.4L425.4 416.3L426.3 416.2L427.1 416.2L428 416.1L428.9 416.1L429.8 416.1L430.6 416.1L431.5 416.2L432.4 416.4L433.3 416.5L434.1 416.7L435 416.9L435.9 417.1L436.8 417.2L437.7 417.2L438.5 417.2L439.4 417.1L440.3 417L441.2 416.8L442 416.6L442.9 416.4L443.8 416.2L444.7 416L445.5 415.8L446.4 415.6L447.3 415.4L448.2 415.2L449 415.2L449.9 415.1L450.8 415.2L451.7 415.6L452.5 416.2L453.4 417L454.3 418L455.2 419.1L456 420.3L456.9 421.4L457.8 422.4L458.7 423.3L459.6 424L460.4 424.4L461.3 424.7L462.2 424.9L463.1 425.1L463.9 425.2L464.8 425.3L465.7 425.4L466.6 425.5L467.4 425.6L468.3 425.7L469.2 425.8L470.1 425.9L470.9 426.1L471.8 426.3L472.7 426.5L473.6 426.7L474.4 427.3L475.3 428.1L476.2 429L477.1 430.2L478 431.5L478.8 432.8L479.7 434.2L480.6 435.5L481.5 436.7L482.3 437.9L483.2 438.8L484.1 439.6L485 440L485.8 440.2L486.7 440.2L487.6 440.1L488.5 440L489.3 439.9L490.2 439.8L491.1 439.7L492 439.6L492.8 439.5L493.7 439.4L494.6 439.3L495.5 439.2L496.4 439.2L497.2 439.3L498.1 439.7L499 440.3L499.9 441L500.7 441.9L501.6 442.8L502.5 443.8L503.4 444.9L504.2 445.9L505.1 446.9L506 447.8L506.9 448.5L507.7 449.2L508.6 449.6L509.5 449.9L510.4 450.2L511.2 450.5L512.1 450.8L513 451L513.9 451.3L514.7 451.5L515.6 451.8L516.5 452L517.4 452.1L518.3 452.3L519.1 452.5L520 452.6L520.9 452.7L521.8 452.7L522.6 452.8L523.5 452.8L524.4 452.8L525.3 452.6L526.1 452.5L527 452.3L527.9 452L528.8 451.7L529.6 451.5L530.5 451.2L531.4 451L532.3 450.9L533.1 450.7L534 450.7L534.9 450.8L535.8 451.2L536.7 451.7L537.5 452.4L538.4 453.2L539.3 454.1L540.2 455.1L541 456.1L541.9 457.1L542.8 458.1L543.7 459.1L544.5 460L545.4 460.7L546.3 461.4L547.2 461.8L548 462.1L548.9 462.2L549.8 462.2L550.7 462.2L551.5 462.2L552.4 462.2L553.3 462.2L554.2 462.2L555 462.2L555.9 462.2L556.8 462.2L557.7 462.2L558.6 462.2L559.4 462.2L560.3 462.2L561.2 462.2L562.1 462.2L562.9 462.2L563.8 462.2L564.7 462.2L565.6 462.2L566.4 462.2L567.3 462.2L568.2 462.2L569.1 462L569.9 461.7L570.8 461.4L571.7 460.9L572.6 460.5L573.4 460L574.3 459.5L575.2 459.1L576.1 458.7L577 458.4L577.8 458.1L578.7 458L579.6 458.1L580.5 458.9L581.3 460.3L582.2 462L583.1 463.8L584 465.5L584.8 467L585.7 468.6L586.6 470.3L587.5 472L588.3 473.6L589.2 475L590.1 476.1L591 476.9L591.8 477.5L592.7 478.2L593.6 478.7L594.5 479.2L595.4 479.7L596.2 480.1L597.1 480.4L598 480.6L598.9 480.8L599.7 480.9L600.6 481L601.5 481.1L602.4 481.2L603.2 481.2L604.1 481.3L605 481.3L605.9 481.4L606.7 481.4L607.6 481.5L608.5 481.5L609.4 481.6L610.2 481.6L611.1 481.7L612 481.7L612.9 481.8L613.7 481.8L614.6 481.9L615.5 481.9L616.4 482L617.3 482L618.1 482L619 482.1L619.9 482.1L620.8 482.2L621.6 482.2L622.5 482.3L623.4 482.3L624.3 482.4L625.1 482.4L626 482.5L626.9 482.5L627.8 482.6L628.6 482.7L629.5 482.8L630.4 482.9L631.3 483.1L632.1 483.3L633 483.6L633.9 484L634.8 484.4L635.7 484.9L636.5 485.4L637.4 486L638.3 486.5L639.2 487.1L640 487.6L640.9 488.1L641.8 488.7L642.7 489.3L643.5 490L644.4 490.8L645.3 491.5L646.2 492.1L647 492.7L647.9 493.1L648.8 493.4L649.7 493.4L650.5 493.3L651.4 493.1L652.3 492.8L653.2 492.4L654.1 492L654.9 491.6L655.8 491.2L656.7 490.7L657.6 490.3L658.4 490L659.3 489.6L660.2 489.4L661.1 489.2L661.9 489.2L662.8 489.2L663.7 489.3L664.6 489.5L665.4 489.7L666.3 490L667.2 490.2L668.1 490.5L668.9 490.9L669.8 491.2L670.7 491.5L671.6 491.9L672.4 492.2L673.3 492.5L674.2 492.8L675.1 493.1L676 493.3L676.8 493.5L677.7 493.6L678.6 493.8L679.5 494L680.3 494.2L681.2 494.3L682.1 494.5L683 494.6L683.8 494.8L684.7 494.9L685.6 495.1L686.5 495.2L687.3 495.3L688.2 495.4L689.1 495.4L690 495.5L690.8 495.5L691.7 495.5L692.6 495.2L693.5 494.8L694.4 494.2L695.2 493.5L696.1 492.7L697 491.8L697.9 490.9L698.7 490L699.6 489.2L700.5 488.2L701.4 487.1L702.2 485.8L703.1 484.4L704 483L704.9 481.7L705.7 480.5L706.6 479.6L707.5 478.9L708.4 478.6L709.2 478.3L710.1 478.1L711 477.9L711.9 477.8L712.7 477.7L713.6 477.6L714.5 477.6L715.4 477.9L716.3 478.4L717.1 479.2L718 480.1L718.9 481.1L719.8 482.2L720.6 483.2L721.5 484.1L722.4 485L723.3 485.6L724.1 485.9L725 486L725.9 485.8L726.8 485.3L727.6 484.7L728.5 484L729.4 483.2L730.3 482.4L731.1 481.7L732 480.9L732.9 480" stroke="#3b528b" stroke-width="5.8"/>
<path d="M120.5 47.8L122 48.2L123.6 48.8L125.1 49.5L126.6 50.3L128.2 51.3L129.7 52.3L131.2 53.6L132.8 55.2L134.3 56.9L135.8 58.8L137.4 60.9L138.9 63L140.5 65.3L142 67.7L143.5 70.4L145.1 73.3L146.6 76.5L148.1 79.9L149.7 83.3L151.2 86.7L152.7 90.1L154.3 93.5L155.8 97.1L157.3 100.8L158.9 104.5L160.4 108.4L161.9 112.3L163.5 116.4L165 120.5L166.5 124.8L168.1 129.2L169.6 133.6L171.1 138L172.7 142.4L174.2 146.8L175.8 151.3L177.3 155.9L178.8 160.4L180.4 164.8L181.9 169.2L183.4 173.4L185 177.6L186.5 181.7L188 185.7L189.6 189.7L191.1 193.5L192.6 197.3L194.2 200.9L195.7 204.4L197.2 208L198.8 211.5L200.3 215.2L201.8 218.9L203.4 222.6L204.9 226.4L206.5 230.1L208 233.9L209.5 237.7L211.1 241.6L212.6 245.5L214.1 249.4L215.7 253L217.2 256.4L218.7 259.4L220.3 262.4L221.8 265.2L223.3 267.9L224.9 270.4L226.4 272.8L227.9 275.2L229.5 277.3L231 279.4L232.5 281.5L234.1 283.4L235.6 285.3L237.1 287.1L238.7 288.9L240.2 290.6L241.8 292.2L243.3 293.7L244.8 295.2L246.4 296.6L247.9 297.9L249.4 299.1L251 300.3L252.5 301.4L254 302.5L255.6 303.5L257.1 304.5L258.6 305.5L260.2 306.5L261.7 307.5L263.2 308.5L264.8 309.5L266.3 310.5L267.8 311.5L269.4 312.6L270.9 313.6L272.4 314.6L274 315.7L275.5 316.7L277.1 317.7L278.6 318.7L280.1 319.7L281.7 320.7L283.2 321.7L284.7 322.8L286.3 323.8L287.8 324.9L289.3 326L290.9 327.1L292.4 328.2L293.9 329.3L295.5 330.5L297 331.7L298.5 332.9L300.1 334.1L301.6 335.3L303.1 336.5L304.7 337.8L306.2 339L307.8 340.2L309.3 341.3L310.8 342.5L312.4 343.6L313.9 344.8L315.4 346L317 347.1L318.5 348.3L320 349.4L321.6 350.6L323.1 351.7L324.6 352.8L326.2 353.9L327.7 355L329.2 356L330.8 357.1L332.3 358.2L333.8 359.2L335.4 360.2L336.9 361.2L338.4 362.2L340 363.2L341.5 364.2L343.1 365.2L344.6 366.2L346.1 367.1L347.7 368.1L349.2 369L350.7 370L352.3 370.9L353.8 371.8L355.3 372.8L356.9 373.7L358.4 374.6L359.9 375.5L361.5 376.4L363 377.3L364.5 378.2L366.1 379.1L367.6 379.9L369.1 380.7L370.7 381.6L372.2 382.4L373.7 383.1L375.3 383.9L376.8 384.6L378.4 385.4L379.9 386.1L381.4 386.8L383 387.5L384.5 388.2L386 388.9L387.6 389.6L389.1 390.3L390.6 391.1L392.2 391.8L393.7 392.6L395.2 393.4L396.8 394.2L398.3 395L399.8 395.8L401.4 396.6L402.9 397.4L404.4 398.2L406 399L407.5 399.9L409 400.7L410.6 401.5L412.1 402.3L413.7 403.1L415.2 403.9L416.7 404.7L418.3 405.5L419.8 406.3L421.3 407.1L422.9 408L424.4 408.8L425.9 409.6L427.5 410.5L429 411.3L430.5 412.2L432.1 413.1L433.6 414.1L435.1 415.1L436.7 416.1L438.2 417.1L439.7 418.1L441.3 419.1L442.8 420.1L444.4 421.1L445.9 422.1L447.4 423.1L449 424.1L450.5 425.1L452 426.2L453.6 427.2L455.1 428.2L456.6 429.2L458.2 430.2L459.7 431.3L461.2 432.3L462.8 433.3L464.3 434.3L465.8 435.3L467.4 436.3L468.9 437.3L470.4 438.3L472 439.3L473.5 440.3L475 441.3L476.6 442.3L478.1 443.3L479.7 444.3L481.2 445.3L482.7 446.2L484.3 447.2L485.8 448.2L487.3 449.1L488.9 450.1L490.4 451L491.9 452L493.5 453L495 453.9L496.5 454.8L498.1 455.8L499.6 456.7L501.1 457.6L502.7 458.5L504.2 459.4L505.7 460.3L507.3 461.2L508.8 462L510.3 462.8L511.9 463.7L513.4 464.5L515 465.4L516.5 466.2L518 467L519.6 467.8L521.1 468.6L522.6 469.4L524.2 470.1L525.7 470.8L527.2 471.5L528.8 472.1L530.3 472.7L531.8 473.3L533.4 473.8L534.9 474.4L536.4 475L538 475.5L539.5 476L541 476.5L542.6 477L544.1 477.4L545.6 477.8L547.2 478.2L548.7 478.6L550.3 478.9L551.8 479.2L553.3 479.5L554.9 479.8L556.4 480.1L557.9 480.3L559.5 480.6L561 480.8L562.5 481.1L564.1 481.3L565.6 481.5L567.1 481.6L568.7 481.7L570.2 481.8L571.7 481.8L573.3 481.8L574.8 481.8L576.3 481.7L577.9 481.7L579.4 481.6L581 481.6L582.5 481.5L584 481.4L585.6 481.3L587.1 481.2L588.6 481.1L590.2 481L591.7 480.9L593.2 480.8L594.8 480.6L596.3 480.4L597.8 480.2L599.4 479.9L600.9 479.6L602.4 479.3L604 479L605.5 478.7L607 478.5L608.6 478.2L610.1 478L611.6 477.8L613.2 477.6L614.7 477.5L616.3 477.4L617.8 477.3L619.3 477.2L620.9 477.1L622.4 477L623.9 476.9L625.5 476.8L627 476.8L628.5 476.7L630.1 476.7L631.6 476.6L633.1 476.6L634.7 476.6L636.2 476.6L637.7 476.6L639.3 476.7L640.8 476.7L642.3 476.8L643.9 476.8L645.4 476.9L646.9 477L648.5 477.1L650 477.2L651.6 477.3L653.1 477.4L654.6 477.5L656.2 477.6L657.7 477.8L659.2 478.1L660.8 478.3L662.3 478.7L663.8 479.1L665.4 479.5L666.9 479.9L668.4 480.4L670 480.8L671.5 481.3L673 481.8L674.6 482.3L676.1 482.8L677.6 483.3L679.2 483.8L680.7 484.4L682.3 485L683.8 485.6L685.3 486.3L686.9 486.9L688.4 487.6L689.9 488.3L691.5 488.9L693 489.6L694.5 490.2L696.1 490.8L697.6 491.3L699.1 491.9L700.7 492.4L702.2 492.9L703.7 493.4L705.3 493.8L706.8 494.3L708.3 494.8L709.9 495.2L711.4 495.7L712.9 496.1L714.5 496.5L716 496.9L717.6 497.4L719.1 497.8L720.6 498.2L722.2 498.6L723.7 499L725.2 499.4L726.8 499.8L728.3 500.1L729.8 500.5L731.4 500.8L732.9 501.2" stroke="#21918c" stroke-width="5.8"/>
<path d="M120.5 47.8L123.6 47.9L126.7 48.1L129.7 48.2L132.8 48.4L135.9 48.6L139 48.9L142 49.1L145.1 49.3L148.2 49.6L151.3 49.9L154.4 50.2L157.4 50.5L160.5 50.8L163.6 51.2L166.7 51.6L169.7 52.1L172.8 52.6L175.9 53.1L179 53.7L182 54.4L185.1 55L188.2 55.7L191.3 56.4L194.4 57.1L197.4 57.9L200.5 58.6L203.6 59.3L206.7 60.1L209.7 60.9L212.8 61.7L215.9 62.6L219 63.5L222.1 64.4L225.1 65.3L228.2 66.2L231.3 67.2L234.4 68.2L237.4 69.2L240.5 70.2L243.6 71.3L246.7 72.3L249.8 73.4L252.8 74.4L255.9 75.5L259 76.7L262.1 77.8L265.1 79L268.2 80.2L271.3 81.4L274.4 82.6L277.4 83.8L280.5 85.1L283.6 86.4L286.7 87.7L289.8 89L292.8 90.3L295.9 91.7L299 93.1L302.1 94.5L305.1 96L308.2 97.5L311.3 98.9L314.4 100.4L317.5 102L320.5 103.5L323.6 105L326.7 106.5L329.8 108.1L332.8 109.6L335.9 111.2L339 112.7L342.1 114.3L345.1 115.9L348.2 117.4L351.3 119L354.4 120.7L357.5 122.3L360.5 123.9L363.6 125.6L366.7 127.3L369.8 129L372.8 130.8L375.9 132.5L379 134.3L382.1 136.1L385.2 137.9L388.2 139.7L391.3 141.6L394.4 143.5L397.5 145.4L400.5 147.4L403.6 149.3L406.7 151.3L409.8 153.4L412.9 155.4L415.9 157.6L419 159.9L422.1 162.2L425.2 164.4L428.2 166.5L431.3 168.7L434.4 170.8L437.5 172.8L440.5 174.9L443.6 177L446.7 179L449.8 181L452.9 183L455.9 185L459 186.9L462.1 188.9L465.2 190.8L468.2 192.7L471.3 194.7L474.4 196.5L477.5 198.4L480.6 200.3L483.6 202.2L486.7 204L489.8 205.8L492.9 207.6L495.9 209.4L499 211.2L502.1 213L505.2 214.7L508.3 216.5L511.3 218.2L514.4 220L517.5 221.7L520.6 223.4L523.6 225.1L526.7 226.8L529.8 228.5L532.9 230.2L535.9 231.8L539 233.5L542.1 235.2L545.2 236.8L548.3 238.4L551.3 240.1L554.4 241.7L557.5 243.3L560.6 244.9L563.6 246.5L566.7 248.1L569.8 249.7L572.9 251.2L576 252.8L579 254.3L582.1 255.9L585.2 257.4L588.3 258.9L591.3 260.4L594.4 261.9L597.5 263.4L600.6 264.9L603.6 266.4L606.7 267.8L609.8 269.3L612.9 270.8L616 272.2L619 273.6L622.1 275.1L625.2 276.5L628.3 277.9L631.3 279.3L634.4 280.6L637.5 282L640.6 283.4L643.7 284.8L646.7 286.1L649.8 287.5L652.9 288.8L656 290.1L659 291.5L662.1 292.8L665.2 294.1L668.3 295.4L671.4 296.6L674.4 297.9L677.5 299.2L680.6 300.4L683.7 301.6L686.7 302.9L689.8 304.1L692.9 305.3L696 306.5L699 307.7L702.1 308.8L705.2 310L708.3 311.1L711.4 312.3L714.4 313.4L717.5 314.5L720.6 315.7L723.7 316.8L726.7 317.8L729.8 318.9L732.9 320" stroke="#5ec962" stroke-width="5.8"/>
<path d="M120.5 399.4H732.9" stroke="#808080" stroke-opacity="0.5" stroke-width="5.8"/>
</g>
<rect x="120.5" y="20.0" width="612.4" height="611.8" fill="none" stroke="#000" stroke-width="3.9"/>
<g class="tk">
<text transform="translate(114.2 618.6) scale(1 0.985)" text-anchor="end">0.0</text>
<text transform="translate(114.2 507.4) scale(1 0.985)" text-anchor="end">0.2</text>
<text transform="translate(114.2 396.1) scale(1 0.985)" text-anchor="end">0.4</text>
<text transform="translate(114.2 284.9) scale(1 0.985)" text-anchor="end">0.6</text>
<text transform="translate(114.2 173.6) scale(1 0.985)" text-anchor="end">0.8</text>
<text transform="translate(114.2 62.4) scale(1 0.985)" text-anchor="end">1.0</text>
<text transform="translate(120.9 667.0) scale(1 0.985)" text-anchor="middle">0</text>
<text transform="translate(274 667.0) scale(1 0.985)" text-anchor="middle">10</text>
<text transform="translate(427.1 667.0) scale(1 0.985)" text-anchor="middle">20</text>
<text transform="translate(580.2 667.0) scale(1 0.985)" text-anchor="middle">30</text>
<text transform="translate(733.3 667.0) scale(1 0.985)" text-anchor="middle">40</text>
</g>
<g clip-path="url(#cr)" fill="none" stroke-linejoin="round">
<path d="M880 641L934.8 566.1L981.4 553.6L1008.5 517.8L1027.9 502L1042.7 488.5L1055 473.8L1055.4 473.4L1055.8 472.8L1056.2 472.3L1056.6 471.7L1057 471.1L1057.4 470.7L1057.8 470.5L1058.2 470.2L1058.6 469.5L1059 468.9L1059.4 468.1L1059.8 467.5L1060.2 467.3L1060.6 467.2L1061 466.6L1061.4 466L1061.8 465.2L1062.2 465L1062.6 464.4L1063 463.3L1063.4 462.2L1063.8 461.9L1064.2 461.5L1064.6 460.8L1065 459.7L1065.4 458.6L1065.8 458L1066.2 457.5L1066.6 456.9L1067 456.9L1067.4 456.7L1067.8 456.8L1068.2 456.8L1068.6 456.8L1069 457.1L1069.4 456.7L1069.8 456.3L1070.2 456.1L1070.6 456L1071 455.8L1071.4 455.4L1071.8 455.3L1072.2 455.6L1072.6 455.4L1073 454.7L1073.4 454.6L1073.8 455.1L1074.2 455.3L1074.6 455.3L1075 455L1075.4 455.1L1075.8 454.9L1076.2 454.8L1076.6 454.9L1077 455.1L1077.4 455L1077.8 454.8L1078.2 454.4L1078.6 454.1L1079 453.9L1079.4 453.9L1079.8 453.9L1080.2 454L1080.6 454.2L1081 454.2L1081.4 453.7L1081.8 453L1082.2 452.4L1082.6 451.7L1083 451.1L1083.4 450.4L1083.8 449.6L1084.2 448.5L1084.6 447.4L1085 447L1085.4 447L1085.8 446.4L1086.2 445.4L1086.6 444.6L1087 444.1L1087.4 443.9L1087.8 442.6L1088.2 441.7L1088.6 441L1089 440L1089.4 439.2L1089.8 439.2L1090.2 439.3L1090.6 439.3L1091 439.3L1091.4 438.9L1091.8 439.2L1092.2 439.4L1092.6 439L1093 437.9L1093.4 437.4L1093.8 438.1L1094.2 438.2L1094.6 438L1095 438L1095.4 437.7L1095.8 437.3L1096.2 437L1096.6 437L1097 436.8L1097.4 436.8L1097.8 437L1098.2 436.6L1098.6 436.1L1099 436.4L1099.4 436.4L1099.8 435.7L1100.2 435.5L1100.6 435.6L1101 435.4L1101.4 435.5L1101.8 435.4L1102.2 435.3L1102.6 435.5L1103 434.8L1103.4 434.7L1103.8 435.5L1104.2 435.5L1104.6 434.5L1105 433.8L1105.4 433.6L1105.8 433.9L1106.2 433.6L1106.6 433.7L1107 434.5L1107.4 435.4L1107.8 435.9L1108.2 436.5L1108.6 436.6L1109 436.5L1109.4 436.6L1109.8 437.2L1110.2 437.9L1110.6 438.3L1111 438.5L1111.4 438.7L1111.8 439.2L1112.2 439.5L1112.6 439L1113 438L1113.4 438L1113.8 437.1L1114.2 435.9L1114.6 435.1L1115 434L1115.4 432.8L1115.8 432.2L1116.2 431.4L1116.6 431.1L1117 431.2L1117.4 431.4L1117.8 431.2L1118.2 431L1118.6 430.7L1119 430.3L1119.4 430.3L1119.8 430.9L1120.2 430.8L1120.6 430.4L1121 430.4L1121.4 430.2L1121.8 430.1L1122.2 430.6L1122.6 430.8L1123 430.2L1123.4 428.7L1123.8 428.3L1124.2 428L1124.6 426.8L1125 426L1125.4 425L1125.8 424.1L1126.2 422.7L1126.6 421.2L1127 421L1127.4 420.9L1127.8 419.7L1128.2 418.5L1128.6 417.3L1129 416.4L1129.4 415.7L1129.8 415.3L1130.2 414.7L1130.6 413.1L1131 411.6L1131.4 410.2L1131.8 409.3L1132.2 408.9L1132.6 408.9L1133 408.3L1133.4 408.6L1133.8 408.2L1134.2 407L1134.6 406.1L1135 405.9L1135.4 405.8L1135.8 405.4L1136.2 404.3L1136.6 403.6L1137 403.2L1137.4 402.6L1137.8 401.6L1138.2 400.5L1138.6 400L1139 400L1139.4 400.2L1139.8 400.6L1140.2 400.9L1140.6 400.1L1141 399.1L1141.4 398.6L1141.8 397.3L1142.2 396.8L1142.6 396.7L1143 395.3L1143.4 394.5L1143.8 394.5L1144.2 394.4L1144.6 393.5L1145 393L1145.4 392L1145.8 391.1L1146.2 391L1146.6 390.5L1147 389.4L1147.4 388.8L1147.8 388.7L1148.2 389L1148.6 388.7L1149 388.2L1149.4 387.6L1149.8 387L1150.2 386.6L1150.6 385.8L1151 384.9L1151.4 384.9L1151.8 385.1L1152.2 385L1152.6 384.5L1153 383.3L1153.4 383.2L1153.8 383.1L1154.2 382.5L1154.6 382.2L1155 381.7L1155.4 381.3L1155.8 381.3L1156.2 380.7L1156.6 380.7L1157 380.3L1157.4 379.8L1157.8 379.6L1158.2 379.7L1158.6 379.8L1159 379.9L1159.4 379.8L1159.8 380.8L1160.2 381.3L1160.6 380.9L1161 379.5L1161.4 378.6L1161.8 379.2L1162.2 379.9L1162.6 380.1L1163 379.8L1163.4 379.9L1163.8 379.7L1164.2 379.6L1164.6 380.2L1165 379.7L1165.4 379.5L1165.8 379.4L1166.2 378.4L1166.6 378.3L1167 378.5L1167.4 377.8L1167.8 377.4L1168.2 376.9L1168.6 376.4L1169 375.9L1169.4 375.2L1169.8 374.8L1170.2 374.8L1170.6 374.3L1171 373.5L1171.4 372.5L1171.8 372.6L1172.2 373.1L1172.6 372.6L1173 371.6L1173.4 370.6L1173.8 370.1L1174.2 370.5L1174.6 370.6L1175 369.9L1175.4 369.5L1175.8 368.6L1176.2 368L1176.6 366.8L1177 366L1177.4 365.4L1177.8 365.5L1178.2 364.9L1178.6 363.5L1179 362.7L1179.4 362L1179.8 361L1180.2 360.6L1180.6 360.6L1181 361.1L1181.4 360.8L1181.8 359.4L1182.2 358.6L1182.6 358.1L1183 357.3L1183.4 357L1183.8 356.9L1184.2 356.9L1184.6 356.7L1185 357L1185.4 357.7L1185.8 357.3L1186.2 357.1L1186.6 356.9L1187 357.2L1187.4 357.7L1187.8 358L1188.2 358.5L1188.6 358.2L1189 357.2L1189.4 357.3L1189.8 358.7L1190.2 359.4L1190.6 360L1191 359.6L1191.4 359.3L1191.8 359.8L1192.2 359.7L1192.6 358.9L1193 358.4L1193.4 358.6L1193.8 358.4L1194.2 357.6L1194.6 357.5L1195 356.3L1195.4 355.1L1195.8 353.6L1196.2 353.5L1196.6 355.2L1197 355.2L1197.4 353.7L1197.8 351.8L1198.2 351.7L1198.6 351.7L1199 351.1L1199.4 350.3L1199.8 349.3L1200.2 348.6L1200.6 347.9L1201 347.8L1201.4 347.6L1201.8 346.7L1202.2 346.1L1202.6 345.8L1203 345.8L1203.4 345.8L1203.8 345.1L1204.2 344L1204.6 342.6L1205 342.9L1205.4 343.3L1205.8 342.6L1206.2 342.1L1206.6 342.4L1207 343.2L1207.4 342.5L1207.8 342.1L1208.2 343L1208.6 343.6L1209 343.4L1209.4 343.1L1209.8 342.5L1210.2 341.7L1210.6 341.2L1211 340.9L1211.4 341L1211.8 341.5L1212.2 341.4L1212.6 341.5L1213 341.6L1213.4 340.6L1213.8 339.4L1214.2 339.1L1214.6 338.6L1215 338.4L1215.4 338.8L1215.8 337.8L1216.2 336.9L1216.6 337.2L1217 338L1217.4 337.7L1217.8 337.5L1218.2 336.3L1218.6 335.5L1219 335.7L1219.4 335.3L1219.8 333.9L1220.2 332.3L1220.6 331.5L1221 330.9L1221.4 331.1L1221.8 331.9L1222.2 332.8L1222.6 332.5L1223 331.4L1223.4 330.5L1223.8 330.5L1224.2 331.6L1224.6 331.3L1225 330.4L1225.4 328.1L1225.8 326.8L1226.2 326.5L1226.6 325.3L1227 324L1227.4 323L1227.8 323.4L1228.2 323.2L1228.6 322.4L1229 320.4L1229.4 318.9L1229.8 320.1L1230.2 320.1L1230.6 317.6L1231 316.5L1231.4 316.9L1231.8 316.5L1232.2 316.3L1232.6 318.7L1233 318.4L1233.4 315.6L1233.8 314.3L1234.2 316.5L1234.6 318.5L1235 317.9L1235.4 316.5L1235.8 314.4L1236.2 313.7L1236.6 313.7L1237 315.7L1237.4 314.1L1237.8 310.3L1238.2 310.1L1238.6 312.3L1239 312.7L1239.4 312.4L1239.8 313.6L1240.2 314.5L1240.6 311.9L1241 309L1241.4 308.8L1241.8 308.2L1242.2 308.6L1242.6 309.6L1243 308.9L1243.4 307.8L1243.8 307.9L1244.2 307.9L1244.6 308.5L1245 308.3L1245.4 308.1L1245.8 307.9L1246.2 308L1246.6 307.2L1247 306.3L1247.4 305.6L1247.8 305L1248.2 305.1L1248.6 307.6L1249 305.9L1249.4 304.5L1249.8 303.8L1250.2 303.6L1250.6 304L1251 303L1251.4 301.7L1251.8 300.4L1252.2 300L1252.6 301.2L1253 302.7L1253.4 300.1L1253.8 299.1L1254.2 300.9L1254.6 301L1255 297.4L1255.4 296.3L1255.8 298.1L1256.2 297.9L1256.6 295.1L1257 293.7L1257.4 295.1L1257.8 297L1258.2 297.1L1258.6 296.8L1259 295.7L1259.4 295.2L1259.8 295.3L1260.2 294.4L1260.6 293.3L1261 291.7L1261.4 291.6L1261.8 292.3L1262.2 291.4L1262.6 290.7L1263 291.8L1263.4 291.6L1263.8 290.1L1264.2 289.4L1264.6 291.5L1265 292.2L1265.4 287.8L1265.8 284.8L1266.2 284.7L1266.6 284.3L1267 283.5L1267.4 284.2L1267.8 286.7L1268.2 287.9L1268.6 288L1269 286.2L1269.4 284.5L1269.8 284.4L1270.2 282.6L1270.6 281.2L1271 281.2L1271.4 283.3L1271.8 283.2L1272.2 280.8L1272.6 279.8L1273 280.1L1273.4 280.7L1273.8 281L1274.2 280.2L1274.6 278.8L1275 276.7L1275.4 276.2L1275.8 276.8L1276.2 280.4L1276.6 281.5L1277 280.5L1277.4 280.9L1277.8 281.3L1278.2 278.6L1278.6 274.9L1279 273.6L1279.4 272L1279.8 272.4L1280.2 273.3L1280.6 274.8L1281 275.1L1281.4 273.7L1281.8 273.9L1282.2 274.5L1282.6 273.9L1283 272.1L1283.4 270L1283.8 271.8L1284.2 274.1L1284.6 272.9L1285 270.7L1285.4 271.3L1285.8 271.8L1286.2 271.2L1286.6 271.6L1287 270.6L1287.4 270.5L1287.8 272.1L1288.2 273.7L1288.6 271.3L1289 269.9L1289.4 270.5L1289.8 269.6L1290.2 268.2L1290.6 266.4L1291 268L1291.4 268.2L1291.8 267.7L1292.2 269.4L1292.6 268.5L1293 266.6L1293.4 264.6L1293.8 263.8L1294.2 264.2L1294.6 264.6L1295 266.8L1295.4 267.3L1295.8 264.6L1296.2 262.6L1296.6 263L1297 263.3L1297.4 264.4L1297.8 264.5L1298.2 263.8L1298.6 264.5L1299 266.3L1299.4 266.2L1299.8 263.9L1300.2 263.3L1300.6 261.9L1301 261.3L1301.4 263.2L1301.8 263L1302.2 262L1302.6 261.4L1303 260L1303.4 259.9L1303.8 262.5L1304.2 262.4L1304.6 261.2L1305 261.6L1305.4 261.3L1305.8 259.5L1306.2 258.8L1306.6 258.2L1307 258.3L1307.4 259L1307.8 260.3L1308.2 258.2L1308.6 257.4L1309 256.9L1309.4 256.3L1309.8 256.6L1310.2 255.4L1310.6 254.2L1311 253.6L1311.4 253.5L1311.8 255L1312.2 255L1312.6 253.2L1313 250.4L1313.4 250.1L1313.8 249.6L1314.2 250.5L1314.6 251.5L1315 250.1L1315.4 249.1L1315.8 250.2L1316.2 250.7L1316.6 249L1317 244.8L1317.4 244.5L1317.8 243.9L1318.2 242.9L1318.6 242.5L1319 240L1319.4 238.9L1319.8 241L1320.2 244.4L1320.6 246.7L1321 244.3L1321.4 241.8L1321.8 241.5L1322.2 243.9L1322.6 245.6L1323 245.6L1323.4 244.2L1323.8 243.6L1324.2 243.6L1324.6 245.3L1325 244L1325.4 244L1325.8 248.2L1326.2 249.4L1326.6 248.4L1327 247.1L1327.4 245.9L1327.8 246.4L1328.2 246.1L1328.6 247.6L1329 245.3L1329.4 242.7L1329.8 245.6L1330.2 247.2L1330.6 245.1L1331 244.3L1331.4 242.3L1331.8 239.3L1332.2 238.1L1332.6 241.1L1333 241.2L1333.4 240L1333.8 238.1L1334.2 238.3L1334.6 240.1L1335 238.7L1335.4 236.9L1335.8 236.1L1336.2 237.7L1336.6 238.3L1337 236.6L1337.4 235.2L1337.8 235L1338.2 236.6L1338.6 235.3L1339 235.5L1339.4 236.8L1339.8 233.8L1340.2 230.6L1340.6 230.6L1341 232.9L1341.4 235.2L1341.8 233.6L1342.2 232.3L1342.6 233.4L1343 233.1L1343.4 231.4L1343.8 232.6L1344.2 232.2L1344.6 229L1345 225.8L1345.4 228.1L1345.8 230.3L1346.2 230L1346.6 230.8L1347 227.9L1347.4 225.4L1347.8 226.4L1348.2 226.9L1348.6 226.6L1349 225.8L1349.4 225.8L1349.8 223.8L1350.2 222.3L1350.6 220.4L1351 220.4L1351.4 221.2L1351.8 220.3L1352.2 219.8L1352.6 220.2L1353 221.1L1353.4 221.9L1353.8 222L1354.2 221.3L1354.6 219.1L1355 216.2L1355.4 214.4L1355.8 214.7L1356.2 213.9L1356.6 213.9L1357 215.9L1357.4 214.1L1357.8 215.2L1358.2 216.2L1358.6 216.9L1359 218.7L1359.4 215.8L1359.8 214.2L1360.2 215.4L1360.6 212.3L1361 209.6L1361.4 209.7L1361.8 210.8L1362.2 212L1362.6 211.5L1363 210L1363.4 212.6L1363.8 214.5L1364.2 211.4L1364.6 210.7L1365 212.2L1365.4 212L1365.8 208.9L1366.2 206.8L1366.6 207.7L1367 210.5L1367.4 209.1L1367.8 203.8L1368.2 201.9L1368.6 202.8L1369 204.1L1369.4 206.8L1369.8 208.9L1370.2 210.5L1370.6 209.1L1371 207.6L1371.4 206.8L1371.8 203.5L1372.2 202L1372.6 204L1373 204.5L1373.4 202.6L1373.8 204.5L1374.2 204.9L1374.6 202.9L1375 202.3L1375.4 202L1375.8 202.4L1376.2 202.5L1376.6 201.4L1377 202.9L1377.4 203.4L1377.8 200.9L1378.2 195.8L1378.6 195.2L1379 197.8L1379.4 197L1379.8 195.4L1380.2 194.2L1380.6 193.5L1381 193.9L1381.4 193.6L1381.8 193.7L1382.2 194L1382.6 193.1L1383 193L1383.4 191.9L1383.8 194.2L1384.2 192.3L1384.6 192.9L1385 193.8L1385.4 193L1385.8 192.5L1386.2 190.2L1386.6 188.3L1387 190.8L1387.4 192L1387.8 188.9L1388.2 186.4L1388.6 187.7L1389 189.9L1389.4 191L1389.8 191.8L1390.2 191L1390.6 188.7L1391 187.2L1391.4 190.6L1391.8 190.4L1392.2 189.2L1392.6 187.7L1393 187.5L1393.4 189.2L1393.8 191.9L1394.2 192.4L1394.6 191.9L1395 191.8L1395.4 189.4L1395.8 188.5L1396.2 188.7L1396.6 190.2L1397 190.2L1397.4 191.3L1397.8 190.6L1398.2 187.9L1398.6 190.8L1399 190.1L1399.4 186.7L1399.8 184.5L1400.2 184.6L1400.6 184.2L1401 186.9L1401.4 189.7L1401.8 191.6L1402.2 190.5L1402.6 191.6L1403 193.3L1403.4 193.3L1403.8 190.7L1404.2 188.9L1404.6 186L1405 185.3L1405.4 186.7L1405.8 186.6L1406.2 185.2L1406.6 186.2L1407 187.5L1407.4 186.3L1407.8 185.2L1408.2 185.6L1408.6 189L1409 189.9L1409.4 187.1L1409.8 186.4L1410.2 187.8L1410.6 185.8L1411 182.1L1411.4 180.4L1411.8 182.8L1412.2 186L1412.6 185.7L1413 187.2L1413.4 184.3L1413.8 182.6L1414.2 183.4L1414.6 181.9L1415 180.4L1415.4 177.8L1415.8 176.5L1416.2 177.5L1416.6 178.5L1417 176.5L1417.4 175.2L1417.8 177.6L1418.2 177.9L1418.6 176.7L1419 174.6L1419.4 174.1L1419.8 177.7L1420.2 177.6L1420.6 178.4L1421 180L1421.4 179.3L1421.8 177L1422.2 175.9L1422.6 176.3L1423 177L1423.4 175.9L1423.8 174.2L1424.2 174.6L1424.6 175.1L1425 175L1425.4 175L1425.8 175.5L1426.2 174.5L1426.6 173.8L1427 172L1427.4 169.8L1427.8 169.1L1428.2 170.7L1428.6 172.9L1429 173.6L1429.4 171.2L1429.8 169.4L1430.2 170.2L1430.6 172.2L1431 171L1431.4 169.8L1431.8 169.7L1432.2 167.9L1432.6 168.6L1433 169.1L1433.4 168L1433.8 167.8L1434.2 171L1434.6 171.4L1435 167.8L1435.4 168.4L1435.8 171.3L1436.2 172.4L1436.6 168.3L1437 166L1437.4 168.5L1437.8 171.2L1438.2 169.5L1438.6 169.2L1439 168.5L1439.4 162.6L1439.8 161.8L1440.2 166.7L1440.6 167.3L1441 164.8L1441.4 166L1441.8 166.4L1442.2 165.5L1442.6 163.9L1443 163.2L1443.4 163.3L1443.8 164.4L1444.2 166L1444.6 168.2L1445 166L1445.4 162.8L1445.8 165.1L1446.2 167.5L1446.6 166.8L1447 166.4L1447.4 165.2L1447.8 164.3L1448.2 162.9L1448.6 163L1449 162.2L1449.4 162.7L1449.8 159L1450.2 157.5L1450.6 160.9L1451 161.7L1451.4 161.8L1451.8 161.8L1452.2 160.3L1452.6 158.9L1453 160L1453.4 161.1L1453.8 162.3L1454.2 162.7L1454.6 159.3L1455 158.6L1455.4 158.8L1455.8 156.4L1456.2 154.5L1456.6 156L1457 158.2L1457.4 157.5L1457.8 156.7L1458.2 155.4L1458.6 155.3L1459 153.7L1459.4 153L1459.8 154.3L1460.2 155.7L1460.6 155.5L1461 152.4L1461.4 154.4L1461.8 157.4L1462.2 156.1L1462.6 152L1463 149.7L1463.4 149.9L1463.8 151.1L1464.2 151.3L1464.6 151.3L1465 150L1465.4 146.6L1465.8 144.5L1466.2 143.7L1466.6 144.1L1467 146.6L1467.4 149.9L1467.8 152.5L1468.2 149.9L1468.6 147.9L1469 147.7L1469.4 145.2L1469.8 145.5L1470.2 146.8L1470.6 146.1L1471 144L1471.4 140.9L1471.8 138.8L1472.2 139.3L1472.6 139.9L1473 140.9L1473.4 140.3L1473.8 138.8L1474.2 136.7L1474.6 137.6L1475 135L1475.4 131.9L1475.8 131.7L1476.2 134.5L1476.6 138.2L1477 137.5L1477.4 134.8L1477.8 135.3L1478.2 134.7L1478.6 132.2L1479 131.3L1479.4 130.6L1479.8 130.6L1480.2 129.8L1480.6 131.9L1481 133.4L1481.4 133.9L1481.8 135.8L1482.2 138.5L1482.6 137.1L1483 136.5L1483.4 137.1L1483.8 136.5L1484.2 134.1L1484.6 129.9L1485 126.9L1485.4 126.2L1485.8 126.5L1486.2 126.8L1486.6 127L1487 129.1L1487.4 130.2L1487.8 132.9L1488.2 132.4L1488.6 130.5L1489 129.4L1489.4 127.5L1489.8 132.6L1490.2 135.3L1490.6 135L1491 136.5L1491.4 144.6L1491.4 152.3L1491 149.1L1490.6 146.6L1490.2 144.5L1489.8 144.5L1489.4 144.4L1489 141.8L1488.6 141.4L1488.2 141.9L1487.8 139.1L1487.4 135.9L1487 136.3L1486.6 138.7L1486.2 139.3L1485.8 140.1L1485.4 140L1485 140.3L1484.6 143.5L1484.2 144.4L1483.8 144.3L1483.4 144.3L1483 148.3L1482.6 153.9L1482.2 155.3L1481.8 151.4L1481.4 149.2L1481 151.1L1480.6 153.8L1480.2 153.4L1479.8 146.7L1479.4 146.8L1479 148L1478.6 148.6L1478.2 148.7L1477.8 147.4L1477.4 145.3L1477 144.8L1476.6 148.8L1476.2 149.8L1475.8 149.1L1475.4 149.6L1475 152.7L1474.6 152.7L1474.2 148.5L1473.8 146.9L1473.4 150.1L1473 154.9L1472.6 155.3L1472.2 154.8L1471.8 156.9L1471.4 157.9L1471 158.4L1470.6 158.8L1470.2 157.8L1469.8 156.1L1469.4 156L1469 158.1L1468.6 156.9L1468.2 158.4L1467.8 159.5L1467.4 159.8L1467 159.5L1466.6 158L1466.2 158.2L1465.8 162.4L1465.4 163.1L1465 160.5L1464.6 159.5L1464.2 161.9L1463.8 164.2L1463.4 164.4L1463 162L1462.6 160.3L1462.2 160.4L1461.8 162.3L1461.4 162.7L1461 163.9L1460.6 164.7L1460.2 165.4L1459.8 165.8L1459.4 164.4L1459 163.8L1458.6 166.2L1458.2 169.6L1457.8 171.5L1457.4 169.3L1457 169.2L1456.6 170.1L1456.2 170.4L1455.8 171.5L1455.4 170.9L1455 167.4L1454.6 165.5L1454.2 164.8L1453.8 169.8L1453.4 173.8L1453 174.2L1452.6 174.2L1452.2 173.8L1451.8 174.9L1451.4 173.7L1451 172.8L1450.6 169.9L1450.2 170.1L1449.8 171L1449.4 176L1449 175.5L1448.6 174.1L1448.2 173.3L1447.8 174.4L1447.4 177.4L1447 178.6L1446.6 175.8L1446.2 173.2L1445.8 172.2L1445.4 174.5L1445 174.8L1444.6 175.9L1444.2 176.3L1443.8 176.2L1443.4 176.2L1443 177.1L1442.6 176.9L1442.2 178.8L1441.8 179L1441.4 177.5L1441 179.1L1440.6 178.6L1440.2 176.8L1439.8 176.9L1439.4 180.7L1439 184L1438.6 183.4L1438.2 181.9L1437.8 179.4L1437.4 177.4L1437 179.3L1436.6 181.4L1436.2 181.3L1435.8 179.8L1435.4 178.3L1435 178.6L1434.6 179.4L1434.2 182.1L1433.8 181.4L1433.4 180.8L1433 181.3L1432.6 181L1432.2 180L1431.8 176.3L1431.4 177.2L1431 181L1430.6 182.6L1430.2 182.8L1429.8 183.1L1429.4 181L1429 178.9L1428.6 182.1L1428.2 185.2L1427.8 184.6L1427.4 182.5L1427 182L1426.6 182.1L1426.2 181.5L1425.8 180.8L1425.4 181.3L1425 184L1424.6 185.1L1424.2 184.1L1423.8 184.3L1423.4 186L1423 189.4L1422.6 191.1L1422.2 188.5L1421.8 188.5L1421.4 188.4L1421 187L1420.6 188.8L1420.2 189.3L1419.8 188.7L1419.4 190.9L1419 190.5L1418.6 190.5L1418.2 190.4L1417.8 190.2L1417.4 191.1L1417 194.1L1416.6 196.4L1416.2 194.5L1415.8 193.1L1415.4 192.6L1415 191L1414.6 190.1L1414.2 191.9L1413.8 192.4L1413.4 192.5L1413 193.5L1412.6 194.1L1412.2 194.9L1411.8 196.7L1411.4 196.2L1411 197.3L1410.6 198.5L1410.2 196.7L1409.8 196.2L1409.4 196.7L1409 196.2L1408.6 196.1L1408.2 196.4L1407.8 197.9L1407.4 200L1407 199.6L1406.6 199.5L1406.2 200.5L1405.8 200.4L1405.4 199.4L1405 199.6L1404.6 202.8L1404.2 204L1403.8 202.3L1403.4 198.2L1403 198.4L1402.6 201.6L1402.2 201.2L1401.8 198.9L1401.4 198.9L1401 201.2L1400.6 201.4L1400.2 200.4L1399.8 199.6L1399.4 200.8L1399 205.3L1398.6 204.7L1398.2 202.6L1397.8 200.9L1397.4 201L1397 200.7L1396.6 202.3L1396.2 203.7L1395.8 201.3L1395.4 199.3L1395 198.1L1394.6 198.3L1394.2 198.9L1393.8 199.8L1393.4 199.6L1393 200.3L1392.6 201.8L1392.2 202.9L1391.8 202.8L1391.4 200.8L1391 199.1L1390.6 198.4L1390.2 198L1389.8 199.7L1389.4 201.3L1389 201.4L1388.6 200.5L1388.2 200.7L1387.8 202.2L1387.4 203L1387 201.2L1386.6 200.8L1386.2 202.1L1385.8 201.6L1385.4 199.9L1385 201.4L1384.6 203.9L1384.2 203.6L1383.8 203.2L1383.4 204.4L1383 203.9L1382.6 206.5L1382.2 209.4L1381.8 207.8L1381.4 204.8L1381 206.8L1380.6 208.3L1380.2 208.1L1379.8 209.2L1379.4 208.1L1379 209.2L1378.6 213L1378.2 213.4L1377.8 213.1L1377.4 212.8L1377 211.8L1376.6 210.3L1376.2 212.4L1375.8 214.8L1375.4 214.6L1375 214.2L1374.6 215.1L1374.2 216.6L1373.8 218L1373.4 217L1373 216L1372.6 217.2L1372.2 217.4L1371.8 217.7L1371.4 217.7L1371 218L1370.6 218.7L1370.2 216.7L1369.8 216.3L1369.4 215.3L1369 215.8L1368.6 219.2L1368.2 221.2L1367.8 221.9L1367.4 219.2L1367 217.9L1366.6 217.4L1366.2 219L1365.8 220.5L1365.4 222L1365 221L1364.6 221.1L1364.2 221.1L1363.8 222.4L1363.4 223.3L1363 223.4L1362.6 223.9L1362.2 223.5L1361.8 223.7L1361.4 224.8L1361 223.8L1360.6 222.9L1360.2 226.1L1359.8 230L1359.4 227.6L1359 226.7L1358.6 228.4L1358.2 227.4L1357.8 224L1357.4 226L1357 230.3L1356.6 230.5L1356.2 229.8L1355.8 231L1355.4 232L1355 231.7L1354.6 230.9L1354.2 232.4L1353.8 234.6L1353.4 236L1353 234.4L1352.6 233.1L1352.2 232.1L1351.8 230.5L1351.4 228.8L1351 229.9L1350.6 234.1L1350.2 235.5L1349.8 234.8L1349.4 234.4L1349 236.2L1348.6 236L1348.2 235.8L1347.8 236.7L1347.4 238.7L1347 240.1L1346.6 242.5L1346.2 242.4L1345.8 240.5L1345.4 240.6L1345 238L1344.6 237.1L1344.2 240.4L1343.8 242.8L1343.4 241.6L1343 241.7L1342.6 243.7L1342.2 243.3L1341.8 242.2L1341.4 244.8L1341 245.3L1340.6 245.9L1340.2 246.2L1339.8 246.6L1339.4 247.2L1339 246L1338.6 245.5L1338.2 245.5L1337.8 247.3L1337.4 250.7L1337 251.6L1336.6 251.1L1336.2 250.6L1335.8 249.8L1335.4 249.9L1335 248.8L1334.6 249.9L1334.2 248.3L1333.8 247.3L1333.4 248.4L1333 250.5L1332.6 252.1L1332.2 253L1331.8 251.5L1331.4 248.8L1331 248.7L1330.6 251.6L1330.2 255.2L1329.8 258.4L1329.4 259.6L1329 258.4L1328.6 257.4L1328.2 257.3L1327.8 256.8L1327.4 256.5L1327 254.9L1326.6 257.2L1326.2 261.4L1325.8 261.5L1325.4 260.2L1325 260.5L1324.6 259.6L1324.2 259L1323.8 259.9L1323.4 259.6L1323 260.4L1322.6 263.6L1322.2 262.8L1321.8 261L1321.4 259.1L1321 256.6L1320.6 254.5L1320.2 253.3L1319.8 253L1319.4 253.5L1319 256.1L1318.6 257.7L1318.2 259.5L1317.8 260.2L1317.4 256.8L1317 255.4L1316.6 258.1L1316.2 259.7L1315.8 258.5L1315.4 259.3L1315 261.3L1314.6 264.2L1314.2 263.9L1313.8 264.7L1313.4 265.2L1313 263.4L1312.6 261.9L1312.2 262.9L1311.8 264.3L1311.4 263.8L1311 264L1310.6 266.5L1310.2 268.8L1309.8 268.5L1309.4 268.7L1309 271.7L1308.6 271.9L1308.2 268.9L1307.8 267.8L1307.4 270.4L1307 272L1306.6 268.9L1306.2 268L1305.8 269.6L1305.4 270.5L1305 270.3L1304.6 271.7L1304.2 273.4L1303.8 276.2L1303.4 277.4L1303 274.7L1302.6 272.4L1302.2 273.4L1301.8 272.5L1301.4 271.8L1301 274.8L1300.6 275.2L1300.2 270.8L1299.8 272.4L1299.4 277.1L1299 277.4L1298.6 277.5L1298.2 276.2L1297.8 273.3L1297.4 275.4L1297 278L1296.6 278.5L1296.2 278.9L1295.8 279.2L1295.4 279.2L1295 279.9L1294.6 279.9L1294.2 277.2L1293.8 277.2L1293.4 278.8L1293 279.8L1292.6 278.6L1292.2 280L1291.8 283.2L1291.4 284.6L1291 284.2L1290.6 285.1L1290.2 283.7L1289.8 283.3L1289.4 285L1289 285.6L1288.6 285.3L1288.2 284L1287.8 283.7L1287.4 285.1L1287 285.8L1286.6 284.8L1286.2 284.6L1285.8 284.5L1285.4 284.5L1285 284.3L1284.6 283.7L1284.2 285.4L1283.8 286L1283.4 285.3L1283 286.1L1282.6 288.1L1282.2 287.7L1281.8 288.9L1281.4 292L1281 292.1L1280.6 291.6L1280.2 291L1279.8 291.6L1279.4 291L1279 290.4L1278.6 289.2L1278.2 288.7L1277.8 289L1277.4 288.1L1277 288.6L1276.6 291L1276.2 291.7L1275.8 290.5L1275.4 289L1275 290.7L1274.6 292.4L1274.2 292.1L1273.8 292.8L1273.4 293.8L1273 293.1L1272.6 291.4L1272.2 292.1L1271.8 294.6L1271.4 295.9L1271 296L1270.6 296.2L1270.2 296.8L1269.8 295.6L1269.4 295.6L1269 296.9L1268.6 296.4L1268.2 298.6L1267.8 299.5L1267.4 298.6L1267 299.1L1266.6 299.4L1266.2 299.5L1265.8 299.9L1265.4 301.9L1265 301L1264.6 298.3L1264.2 297.1L1263.8 300.9L1263.4 301.7L1263 300.6L1262.6 305.4L1262.2 307.9L1261.8 306.1L1261.4 303.5L1261 304.5L1260.6 305.3L1260.2 305.1L1259.8 303.7L1259.4 305.9L1259 308.7L1258.6 310.6L1258.2 309.7L1257.8 310.7L1257.4 311.1L1257 310.2L1256.6 311.5L1256.2 311.4L1255.8 309.4L1255.4 310.1L1255 311.8L1254.6 311.3L1254.2 312.4L1253.8 313.5L1253.4 313L1253 314.7L1252.6 315.3L1252.2 314.5L1251.8 313.8L1251.4 313.8L1251 316.1L1250.6 317.5L1250.2 317.1L1249.8 318.5L1249.4 319.6L1249 319.7L1248.6 319.6L1248.2 319.9L1247.8 319.3L1247.4 318.8L1247 317.5L1246.6 318.7L1246.2 320.3L1245.8 319.8L1245.4 318.4L1245 318.7L1244.6 322.3L1244.2 323.5L1243.8 321.8L1243.4 322L1243 322.9L1242.6 323.1L1242.2 323.2L1241.8 322.3L1241.4 322.8L1241 325.4L1240.6 326.6L1240.2 327L1239.8 326.1L1239.4 325.5L1239 324.8L1238.6 324.4L1238.2 323.8L1237.8 324.3L1237.4 327L1237 329.1L1236.6 328.8L1236.2 328.8L1235.8 328.4L1235.4 328L1235 329.1L1234.6 329.9L1234.2 329.1L1233.8 328.1L1233.4 328.4L1233 330.4L1232.6 329.8L1232.2 328.7L1231.8 330.8L1231.4 331.7L1231 331.1L1230.6 331.1L1230.2 331.3L1229.8 332.2L1229.4 333.2L1229 334.7L1228.6 335.6L1228.2 334.2L1227.8 333.6L1227.4 334.5L1227 336.3L1226.6 337.9L1226.2 339.3L1225.8 341.2L1225.4 341.4L1225 341.1L1224.6 341.6L1224.2 343.1L1223.8 341.8L1223.4 340.3L1223 339.8L1222.6 341.4L1222.2 343.8L1221.8 344.9L1221.4 345.9L1221 346.1L1220.6 345.6L1220.2 346.3L1219.8 346.8L1219.4 347.6L1219 348.1L1218.6 348.7L1218.2 350.6L1217.8 350.9L1217.4 351.6L1217 352.5L1216.6 353.2L1216.2 353.8L1215.8 354.1L1215.4 353.3L1215 353.6L1214.6 353.3L1214.2 353.1L1213.8 352.7L1213.4 352.4L1213 353L1212.6 353L1212.2 354.7L1211.8 356L1211.4 356L1211 355.6L1210.6 354.3L1210.2 353.4L1209.8 353.4L1209.4 353.9L1209 355.2L1208.6 354.8L1208.2 354.9L1207.8 354.8L1207.4 355.2L1207 356.8L1206.6 357.1L1206.2 356.6L1205.8 356.2L1205.4 357.3L1205 358.4L1204.6 357.7L1204.2 357.5L1203.8 358.3L1203.4 359L1203 360.3L1202.6 360.5L1202.2 360.5L1201.8 361.7L1201.4 362.6L1201 362.9L1200.6 362.9L1200.2 363L1199.8 363.9L1199.4 365L1199 365.4L1198.6 366L1198.2 367.2L1197.8 367.4L1197.4 367.4L1197 367.6L1196.6 367.5L1196.2 368.1L1195.8 369.2L1195.4 370.5L1195 371.1L1194.6 372.3L1194.2 372.7L1193.8 372.8L1193.4 372.6L1193 372.9L1192.6 373.5L1192.2 374.6L1191.8 375L1191.4 374.3L1191 373L1190.6 373.1L1190.2 373L1189.8 372.7L1189.4 372L1189 371.6L1188.6 372.5L1188.2 372.7L1187.8 372.3L1187.4 373.8L1187 374.6L1186.6 373.7L1186.2 373.3L1185.8 373.1L1185.4 372.9L1185 372.5L1184.6 372.3L1184.2 372.7L1183.8 373.6L1183.4 373.3L1183 372.6L1182.6 372.7L1182.2 373.3L1181.8 374L1181.4 375.2L1181 376L1180.6 376.4L1180.2 376.7L1179.8 377.7L1179.4 378.3L1179 379.2L1178.6 379.6L1178.2 379.8L1177.8 379.6L1177.4 380.5L1177 381.7L1176.6 382.3L1176.2 382.3L1175.8 382.2L1175.4 382.7L1175 384.2L1174.6 384.8L1174.2 384.6L1173.8 384.8L1173.4 386.2L1173 387.5L1172.6 387.9L1172.2 388.6L1171.8 388.9L1171.4 389.5L1171 389.6L1170.6 390.9L1170.2 391.5L1169.8 391.9L1169.4 392.1L1169 393.1L1168.6 394.1L1168.2 394L1167.8 393.5L1167.4 393.2L1167 393.7L1166.6 394.1L1166.2 394.6L1165.8 395.4L1165.4 396.1L1165 397L1164.6 396.7L1164.2 397L1163.8 397.3L1163.4 397.2L1163 397.1L1162.6 396.6L1162.2 396.8L1161.8 397.5L1161.4 397.7L1161 397.1L1160.6 396.7L1160.2 397.9L1159.8 398.4L1159.4 396.8L1159 396.1L1158.6 397.2L1158.2 397.1L1157.8 396.8L1157.4 397.3L1157 398.5L1156.6 398.5L1156.2 398L1155.8 397.9L1155.4 398.8L1155 399.8L1154.6 400.9L1154.2 401.4L1153.8 401.4L1153.4 401.3L1153 402L1152.6 402L1152.2 401.6L1151.8 402.4L1151.4 403.8L1151 404.3L1150.6 404.7L1150.2 404.4L1149.8 404.4L1149.4 405.2L1149 405.8L1148.6 406.2L1148.2 406.8L1147.8 407.2L1147.4 407.3L1147 408.1L1146.6 409.2L1146.2 410.2L1145.8 410.9L1145.4 411.9L1145 412.3L1144.6 412.3L1144.2 412.6L1143.8 413L1143.4 414.1L1143 414.3L1142.6 413.9L1142.2 414.1L1141.8 414.8L1141.4 416.6L1141 417.7L1140.6 417.4L1140.2 417.6L1139.8 418.2L1139.4 418.6L1139 419.1L1138.6 420.1L1138.2 421.4L1137.8 422.5L1137.4 423.2L1137 423.4L1136.6 423.7L1136.2 424.3L1135.8 425.2L1135.4 425.9L1135 426.2L1134.6 425.8L1134.2 426.2L1133.8 426.9L1133.4 427.5L1133 428.2L1132.6 429.4L1132.2 430.2L1131.8 430.1L1131.4 430.9L1131 432.6L1130.6 433.8L1130.2 435.1L1129.8 435.4L1129.4 435.8L1129 437L1128.6 439L1128.2 440.3L1127.8 440.3L1127.4 440.8L1127 442L1126.6 443.3L1126.2 444.6L1125.8 444.8L1125.4 445L1125 446.2L1124.6 447.1L1124.2 448.8L1123.8 449.7L1123.4 450.1L1123 451.5L1122.6 452.1L1122.2 451.9L1121.8 451.3L1121.4 451.8L1121 452.6L1120.6 452.8L1120.2 452.2L1119.8 452.1L1119.4 452.2L1119 452.3L1118.6 452.5L1118.2 453L1117.8 453.6L1117.4 454L1117 454.1L1116.6 454.2L1116.2 454.8L1115.8 454.5L1115.4 454.9L1115 455.6L1114.6 457L1114.2 458.5L1113.8 458.6L1113.4 459.4L1113 460.7L1112.6 461.8L1112.2 462L1111.8 461.7L1111.4 461.6L1111 461.5L1110.6 460.4L1110.2 459.9L1109.8 459.7L1109.4 459.2L1109 458.5L1108.6 458.3L1108.2 458.7L1107.8 458.6L1107.4 458.8L1107 458.3L1106.6 457.3L1106.2 457L1105.8 456.8L1105.4 456.6L1105 457.2L1104.6 457.8L1104.2 458.6L1103.8 459L1103.4 459L1103 459L1102.6 459.2L1102.2 459L1101.8 458.7L1101.4 458.9L1101 459.4L1100.6 459.6L1100.2 459.5L1099.8 459.8L1099.4 460.5L1099 460.9L1098.6 461.2L1098.2 461.4L1097.8 461.9L1097.4 462.6L1097 462.7L1096.6 462.5L1096.2 462.2L1095.8 462.5L1095.4 462.6L1095 462.9L1094.6 463.2L1094.2 463.7L1093.8 464.1L1093.4 464.2L1093 463.9L1092.6 464.3L1092.2 464.7L1091.8 465.2L1091.4 465.6L1091 465.7L1090.6 465.5L1090.2 465.2L1089.8 465.1L1089.4 465.9L1089 467.2L1088.6 467.7L1088.2 468.2L1087.8 468.9L1087.4 469.4L1087 470L1086.6 470.8L1086.2 471.6L1085.8 472.6L1085.4 473.5L1085 474.3L1084.6 475L1084.2 475.9L1083.8 476.4L1083.4 477.3L1083 478.1L1082.6 478.3L1082.2 479.4L1081.8 480.8L1081.4 481.4L1081 481.7L1080.6 482.2L1080.2 482L1079.8 481.9L1079.4 482.4L1079 482.2L1078.6 482.4L1078.2 482.6L1077.8 482.5L1077.4 482.6L1077 482.6L1076.6 482.7L1076.2 483L1075.8 483.3L1075.4 483.7L1075 484.3L1074.6 484.1L1074.2 483.9L1073.8 484L1073.4 484L1073 484.1L1072.6 484.6L1072.2 484.7L1071.8 484.3L1071.4 484.2L1071 484.8L1070.6 485.4L1070.2 485.7L1069.8 485.8L1069.4 486.2L1069 486.3L1068.6 486.2L1068.2 486.2L1067.8 486.6L1067.4 486.6L1067 486.7L1066.6 486.9L1066.2 487.2L1065.8 488.3L1065.4 489.4L1065 490.3L1064.6 491L1064.2 491.8L1063.8 492.7L1063.4 493.6L1063 494.5L1062.6 495.4L1062.2 496.2L1061.8 496.4L1061.4 496.7L1061 497.4L1060.6 498.3L1060.2 498.9L1059.8 499.3L1059.4 500.1L1059 500.8L1058.6 501.4L1058.2 501.8L1057.8 502.5L1057.4 503L1057 503.4L1056.6 503.8L1056.2 504.5L1055.8 505.1L1055.4 505.6L1055 506L1042.7 523.3L1027.9 539.7L1008.5 560.1L981.4 602.9L934.8 628.2L880 703Z" fill="#440154" fill-opacity="0.2" stroke="none"/>
<path d="M1089.4 608.8L1089.8 607.7L1090.3 606.6L1090.7 605.5L1091.2 604.4L1091.6 603.3L1092.1 602.2L1092.5 601.1L1093 600L1093.4 598.9L1093.9 597.9L1094.3 596.8L1094.8 595.7L1095.2 594.6L1095.7 593.5L1096.1 592.4L1096.6 591.3L1097 590.2L1097.5 589.1L1097.9 588L1098.3 587L1098.8 585.9L1099.2 584.8L1099.7 583.7L1100.1 582.6L1100.6 581.5L1101 580.5L1101.5 579.4L1101.9 578.3L1102.4 577.2L1102.8 576.1L1103.3 575.1L1103.7 574L1104.2 572.9L1104.6 571.8L1105.1 570.7L1105.5 569.7L1106 568.6L1106.4 567.5L1106.8 566.4L1107.3 565.4L1107.7 564.3L1108.2 563.2L1108.6 562.2L1109.1 561.1L1109.5 560L1110 559L1110.4 557.9L1110.9 556.9L1111.3 555.8L1111.8 554.8L1112.2 553.7L1112.7 552.7L1113.1 551.7L1113.6 550.6L1114 549.6L1114.5 548.5L1114.9 547.5L1115.3 546.4L1115.8 545.4L1116.2 544.4L1116.7 543.3L1117.1 542.3L1117.6 541.2L1118 540.2L1118.5 539.1L1118.9 538.1L1119.4 537L1119.8 536L1120.3 534.9L1120.7 533.9L1121.2 532.8L1121.6 531.8L1122.1 530.7L1122.5 529.6L1123 528.5L1123.4 527.5L1123.8 526.4L1124.3 525.3L1124.7 524.2L1125.2 523.1L1125.6 522L1126.1 520.9L1126.5 519.8L1127 518.7L1127.4 517.6L1127.9 516.4L1128.3 515.3L1128.8 514.1L1129.2 513L1129.7 511.8L1130.1 510.7L1130.6 509.5L1131 508.3L1131.5 507.2L1131.9 506L1132.3 504.8L1132.8 503.6L1133.2 502.5L1133.7 501.3L1134.1 500.1L1134.6 498.9L1135 497.7L1135.5 496.5L1135.9 495.3L1136.4 494.2L1136.8 493L1137.3 491.8L1137.7 490.6L1138.2 489.4L1138.6 488.3L1139.1 487.1L1139.5 485.9L1140 484.8L1140.4 483.6L1140.8 482.4L1141.3 481.3L1141.7 480.2L1142.2 479L1142.6 477.9L1143.1 476.8L1143.5 475.6L1144 474.5L1144.4 473.4L1144.9 472.2L1145.3 471.1L1145.8 470L1146.2 468.9L1146.7 467.7L1147.1 466.6L1147.6 465.5L1148 464.4L1148.5 463.3L1148.9 462.2L1149.3 461.1L1149.8 460.1L1150.2 459L1150.7 458L1151.1 457L1151.6 456.1L1152 455.1L1152.5 454.1L1152.9 453.2L1153.4 452.2L1153.8 451.3L1154.3 450.3L1154.7 449.4L1155.2 448.4L1155.6 447.5L1156.1 446.6L1156.5 445.7L1157 444.8L1157.4 443.9L1157.9 443L1158.3 442.1L1158.7 441.2L1159.2 440.3L1159.6 439.4L1160.1 438.5L1160.5 437.6L1161 436.7L1161.4 435.9L1161.9 435L1162.3 434.1L1162.8 433.2L1163.2 432.3L1163.7 431.4L1164.1 430.5L1164.6 429.7L1165 428.8L1165.5 427.9L1165.9 427L1166.4 426.1L1166.8 425.2L1167.2 424.3L1167.7 423.4L1168.1 422.5L1168.6 421.5L1169 420.6L1169.5 419.7L1169.9 418.8L1170.4 417.8L1170.8 416.9L1171.3 415.9L1171.7 415L1172.2 414.1L1172.6 413.1L1173.1 412.2L1173.5 411.3L1174 410.3L1174.4 409.4L1174.9 408.5L1175.3 407.6L1175.7 406.6L1176.2 405.7L1176.6 404.8L1177.1 403.9L1177.5 403.1L1178 402.2L1178.4 401.3L1178.9 400.5L1179.3 399.6L1179.8 398.8L1180.2 398L1180.7 397.2L1181.1 396.4L1181.6 395.6L1182 394.8L1182.5 394L1182.9 393.3L1183.4 392.5L1183.8 391.8L1184.2 391L1184.7 390.3L1185.1 389.5L1185.6 388.8L1186 388L1186.5 387.3L1186.9 386.6L1187.4 385.9L1187.8 385.1L1188.3 384.4L1188.7 383.7L1189.2 383L1189.6 382.3L1190.1 381.7L1190.5 381L1191 380.3L1191.4 379.6L1191.9 379L1192.3 378.3L1192.7 377.7L1193.2 377.1L1193.6 376.5L1194.1 375.8L1194.5 375.2L1195 374.6L1195.4 374.1L1195.9 373.5L1196.3 372.9L1196.8 372.4L1197.2 371.8L1197.7 371.3L1198.1 370.8L1198.6 370.3L1199 369.8L1199.5 369.3L1199.9 368.8L1200.4 368.3L1200.8 367.9L1201.2 367.4L1201.7 366.9L1202.1 366.5L1202.6 366L1203 365.6L1203.5 365.1L1203.9 364.7L1204.4 364.3L1204.8 363.8L1205.3 363.4L1205.7 363L1206.2 362.6L1206.6 362.2L1207.1 361.8L1207.5 361.4L1208 361.1L1208.4 360.7L1208.9 360.3L1209.3 360L1209.7 359.6L1210.2 359.3L1210.6 358.9L1211.1 358.6L1211.5 358.2L1212 357.9L1212.4 357.6L1212.9 357.3L1213.3 357L1213.8 356.7L1214.2 356.4L1214.7 356.1L1215.1 355.9L1215.6 355.6L1216 355.4L1216.5 355.1L1216.9 354.9L1217.4 354.6L1217.8 354.4L1218.2 354.2L1218.7 353.9L1219.1 353.7L1219.6 353.5L1220 353.3L1220.5 353L1220.9 352.8L1221.4 352.6L1221.8 352.4L1222.3 352.2L1222.7 352L1223.2 351.7L1223.6 351.5L1224.1 351.3L1224.5 351L1225 350.8L1225.4 350.6L1225.9 350.3L1226.3 350.1L1226.7 349.8L1227.2 349.6L1227.6 349.3L1228.1 349L1228.5 348.7L1229 348.4L1229.4 348.1L1229.9 347.8L1230.3 347.5L1230.8 347.2L1231.2 346.8L1231.7 346.5L1232.1 346.1L1232.6 345.8L1233 345.4L1233.5 345L1233.9 344.6L1234.4 344.2L1234.8 343.8L1235.2 343.4L1235.7 343L1236.1 342.5L1236.6 342.1L1237 341.6L1237.5 341.2L1237.9 340.7L1238.4 340.2L1238.8 339.8L1239.3 339.3L1239.7 338.8L1240.2 338.3L1240.6 337.8L1241.1 337.3L1241.5 336.8L1242 336.3L1242.4 335.8L1242.9 335.2L1243.3 334.7L1243.7 334.2L1244.2 333.6L1244.6 333.1L1245.1 332.6L1245.5 332L1246 331.4L1246.4 330.9L1246.9 330.3L1247.3 329.8L1247.8 329.2L1248.2 328.6L1248.7 328.1L1249.1 327.5L1249.6 326.9L1250 326.3L1250.5 325.8L1250.9 325.2L1251.4 324.6L1251.8 324L1252.2 323.4L1252.7 322.9L1253.1 322.3L1253.6 321.7L1254 321.1L1254.5 320.5L1254.9 319.9L1255.4 319.3L1255.8 318.8L1256.3 318.2L1256.7 317.6L1257.2 316.9L1257.6 316.3L1258.1 315.7L1258.5 315L1259 314.3L1259.4 313.7L1259.9 313L1260.3 312.2L1260.7 311.5L1261.2 310.7L1261.6 310L1262.1 309.2L1262.5 308.5L1263 307.7L1263.4 306.9L1263.9 306.2L1264.3 305.4L1264.8 304.6L1265.2 303.9L1265.7 303.1L1266.1 302.4L1266.6 301.6L1267 300.9L1267.5 300.2L1267.9 299.4L1268.4 298.7L1268.8 298L1269.2 297.3L1269.7 296.6L1270.1 296L1270.6 295.3L1271 294.7L1271.5 294.1L1271.9 293.5L1272.4 292.9L1272.8 292.4L1273.3 291.8L1273.7 291.3L1274.2 290.8L1274.6 290.3L1275.1 289.8L1275.5 289.4L1276 288.9L1276.4 288.4L1276.9 288L1277.3 287.6L1277.7 287.1L1278.2 286.7L1278.6 286.3L1279.1 285.9L1279.5 285.5L1280 285.1L1280.4 284.7L1280.9 284.3L1281.3 284L1281.8 283.6L1282.2 283.2L1282.7 282.8L1283.1 282.5L1283.6 282.1L1284 281.7L1284.5 281.3L1284.9 280.9L1285.4 280.6L1285.8 280.2L1286.2 279.8L1286.7 279.4L1287.1 279L1287.6 278.6L1288 278.2L1288.5 277.8L1288.9 277.4L1289.4 276.9L1289.8 276.5L1290.3 276L1290.7 275.6L1291.2 275.1L1291.6 274.6L1292.1 274.1L1292.5 273.6L1293 273.1L1293.4 272.5L1293.9 272L1294.3 271.4L1294.8 270.8L1295.2 270.2L1295.6 269.5L1296.1 268.8L1296.5 268.1L1297 267.3L1297.4 266.6L1297.9 265.8L1298.3 265L1298.8 264.2L1299.2 263.4L1299.7 262.6L1300.1 261.8L1300.6 261L1301 260.2L1301.5 259.3L1301.9 258.5L1302.4 257.7L1302.8 256.9L1303.3 256.1L1303.7 255.4L1304.1 254.6L1304.6 253.9L1305 253.2L1305.5 252.6L1305.9 251.9L1306.4 251.3L1306.8 250.7L1307.3 250.1L1307.7 249.5L1308.2 248.9L1308.6 248.3L1309.1 247.6L1309.5 247L1310 246.4L1310.4 245.8L1310.9 245.2L1311.3 244.6L1311.8 244L1312.2 243.4L1312.6 242.8L1313.1 242.3L1313.5 241.7L1314 241.2L1314.4 240.8L1314.9 240.3L1315.3 239.9L1315.8 239.5L1316.2 239.1L1316.7 238.8L1317.1 238.5L1317.6 238.2L1318 238L1318.5 237.8L1318.9 237.7L1319.4 237.6L1319.8 237.6L1320.3 237.5L1320.7 237.4L1321.1 237.4L1321.6 237.3L1322 237.3L1322.5 237.3L1322.9 237.2L1323.4 237.2L1323.8 237.2L1324.3 237.1L1324.7 237.1L1325.2 237L1325.6 237L1326.1 236.9L1326.5 236.9L1327 236.8L1327.4 236.7L1327.9 236.5L1328.3 236.3L1328.8 236L1329.2 235.5L1329.6 235.1L1330.1 234.5L1330.5 234L1331 233.4L1331.4 232.7L1331.9 232.1L1332.3 231.5L1332.8 230.9L1333.2 230.4L1333.7 229.8L1334.1 229.4L1334.6 229L1335 228.6L1335.5 228.4L1335.9 228.3L1336.4 228.2L1336.8 228.1L1337.3 228L1337.7 228L1338.1 227.9L1338.6 227.9L1339 227.8L1339.5 227.8L1339.9 227.7L1340.4 227.7L1340.8 227.7L1341.3 227.6L1341.7 227.6L1342.2 227.5L1342.6 227.5L1343.1 227.4L1343.5 227.3L1344 227.2L1344.4 227.1L1344.9 226.9L1345.3 226.6L1345.8 226.3L1346.2 226L1346.6 225.5L1347.1 225.1L1347.5 224.6L1348 224.1L1348.4 223.7L1348.9 223.2L1349.3 222.7L1349.8 222.3L1350.2 221.9L1350.7 221.6L1351.1 221.3L1351.6 221.1L1352 221L1352.5 220.9L1352.9 221L1353.4 221.4L1353.8 221.9L1354.3 222.5L1354.7 223.1L1355.1 223.8L1355.6 224.4L1356 224.8L1356.5 225.1L1356.9 225.1L1357.4 225L1357.8 225L1358.3 224.8L1358.7 224.7L1359.2 224.5L1359.6 224.2L1360.1 224L1360.5 223.7L1361 223.4L1361.4 223.1L1361.9 222.7L1362.3 222.3L1362.8 222L1363.2 221.6L1363.6 221.2L1364.1 220.8L1364.5 220.4L1365 220L1365.4 219.6L1365.9 219.2L1366.3 218.9L1366.8 218.5L1367.2 218.1L1367.7 217.8L1368.1 217.5L1368.6 217.2L1369 217L1369.5 216.7L1369.9 216.5L1370.4 216.3L1370.8 216L1371.3 215.8L1371.7 215.6L1372.1 215.4L1372.6 215.2L1373 215L1373.5 214.8L1373.9 214.6L1374.4 214.4L1374.8 214.2L1375.3 214L1375.7 213.8L1376.2 213.6L1376.6 213.4L1377.1 213.2L1377.5 213L1378 212.9L1378.4 212.7L1378.9 212.5L1379.3 212.4L1379.8 212.2L1380.2 212.1L1380.6 211.9L1381.1 211.8L1381.5 211.6L1382 211.5L1382.4 211.3L1382.9 211.2L1383.3 211L1383.8 210.9L1384.2 210.7L1384.7 210.6L1385.1 210.4L1385.6 210.3L1386 210.1L1386.5 210L1386.9 209.8L1387.4 209.7L1387.8 209.6L1388.3 209.4L1388.7 209.3L1389.1 209.2L1389.6 209.1L1390 209L1390.5 208.9L1390.9 208.8L1391.4 208.7L1391.8 208.6L1392.3 208.5L1392.7 208.5L1393.2 208.4L1393.6 208.4L1394.1 208.4L1394.5 208.4L1395 208.4L1395.4 208.5L1395.9 208.6L1396.3 208.7L1396.8 208.8L1397.2 208.9L1397.6 209.1L1398.1 209.3L1398.5 209.4L1399 209.6L1399.4 209.8L1399.9 209.9L1400.3 210.1L1400.8 210.2L1401.2 210.3L1401.7 210.4L1402.1 210.5L1402.6 210.5L1403 210.5L1403.5 210.4L1403.9 210.3L1404.4 210.1L1404.8 209.8L1405.3 209.4L1405.7 209.1L1406.1 208.7L1406.6 208.2L1407 207.7L1407.5 207.2L1407.9 206.7L1408.4 206.2L1408.8 205.7L1409.3 205.2L1409.7 204.6L1410.2 204.1L1410.6 203.7L1411.1 203.2L1411.5 202.8L1412 202.4L1412.4 202L1412.9 201.5L1413.3 201.1L1413.8 200.7L1414.2 200.3L1414.6 199.8L1415.1 199.4L1415.5 198.9L1416 198.5L1416.4 198L1416.9 197.6L1417.3 197.1L1417.8 196.7L1418.2 196.2L1418.7 195.7L1419.1 195.2L1419.6 194.7L1420 194.2L1420.5 193.7L1420.9 193.2L1421.4 192.6L1421.8 192.1L1422.3 191.5L1422.7 191L1423.1 190.4L1423.6 189.8L1424 189.2L1424.5 188.7L1424.9 188.1L1425.4 187.5L1425.8 187L1426.3 186.4L1426.7 185.9L1427.2 185.3L1427.6 184.7L1428.1 184.1L1428.5 183.4L1429 182.7L1429.4 182L1429.9 181.3L1430.3 180.7L1430.8 180L1431.2 179.4L1431.7 178.9L1432.1 178.4L1432.5 178L1433 177.6L1433.4 177.4L1433.9 177.2L1434.3 177.2L1434.8 177.2L1435.2 177.2L1435.7 177.3L1436.1 177.3L1436.6 177.3L1437 177.4L1437.5 177.5L1437.9 177.5L1438.4 177.6L1438.8 177.7L1439.3 177.8L1439.7 177.9L1440.2 178L1440.6 178.1L1441 178.2L1441.5 178.4L1441.9 178.6L1442.4 179L1442.8 179.6L1443.3 180.4L1443.7 181.3L1444.2 182.2L1444.6 183.1L1445.1 184L1445.5 184.9L1446 185.6L1446.4 186.1L1446.9 186.4L1447.3 186.5L1447.8 186.3L1448.2 185.9L1448.7 185.3L1449.1 184.6L1449.5 183.7L1450 182.7L1450.4 181.7L1450.9 180.6L1451.3 179.5L1451.8 178.5L1452.2 177.4L1452.7 176.5L1453.1 175.7L1453.6 175.1L1454 174.6L1454.5 174.2L1454.9 173.8L1455.4 173.5L1455.8 173.2L1456.3 172.9L1456.7 172.6L1457.2 172.3L1457.6 172.1L1458 171.8L1458.5 171.6L1458.9 171.4L1459.4 171.1L1459.8 170.8L1460.3 170.5L1460.7 170.2L1461.2 169.9L1461.6 169.5L1462.1 169.2L1462.5 168.8L1463 168.4L1463.4 168L1463.9 167.6L1464.3 167.2L1464.8 166.8L1465.2 166.4L1465.7 165.9L1466.1 165.4L1466.5 165L1467 164.5L1467.4 163.9L1467.9 163.4L1468.3 162.9L1468.8 162.3L1469.2 161.6L1469.7 160.9L1470.1 160.1L1470.6 159.3L1471 158.4L1471.5 157.6L1471.9 156.7L1472.4 155.9L1472.8 155.1L1473.3 154.4L1473.7 153.8L1474.2 153.2L1474.6 152.6L1475 152L1475.5 151.4L1475.9 150.8L1476.4 150.3L1476.8 149.8L1477.3 149.4L1477.7 149.1L1478.2 149L1478.6 148.9L1479.1 149L1479.5 149.4L1480 149.9L1480.4 150.6L1480.9 151.4L1481.3 152.3L1481.8 153.3L1482.2 154.2L1482.7 155.2L1483.1 156.1L1483.5 156.9L1484 157.6L1484.4 158.2L1484.9 158.5L1485.3 158.7L1485.8 158.5L1486.2 157.9L1486.7 156.9L1487.1 155.6L1487.6 154.1L1488 152.6L1488.5 151.1L1488.9 149.7L1489.4 148.5L1489.8 147.6L1490.3 147.1L1490.7 147.2L1491.2 149L1491.6 151.3L1491.6 162.3L1491.2 160L1490.7 158.2L1490.3 158.1L1489.8 158.6L1489.4 159.5L1488.9 160.7L1488.5 162.1L1488 163.6L1487.6 165.1L1487.1 166.6L1486.7 167.9L1486.2 168.9L1485.8 169.5L1485.3 169.7L1484.9 169.5L1484.4 169.2L1484 168.6L1483.5 167.9L1483.1 167.1L1482.7 166.2L1482.2 165.2L1481.8 164.3L1481.3 163.3L1480.9 162.4L1480.4 161.6L1480 160.9L1479.5 160.4L1479.1 160L1478.6 159.9L1478.2 160L1477.7 160.1L1477.3 160.4L1476.8 160.8L1476.4 161.3L1475.9 161.8L1475.5 162.4L1475 163L1474.6 163.6L1474.2 164.2L1473.7 164.8L1473.3 165.4L1472.8 166.1L1472.4 166.9L1471.9 167.7L1471.5 168.6L1471 169.4L1470.6 170.3L1470.1 171.1L1469.7 171.9L1469.2 172.6L1468.8 173.3L1468.3 173.9L1467.9 174.4L1467.4 174.9L1467 175.5L1466.5 176L1466.1 176.4L1465.7 176.9L1465.2 177.4L1464.8 177.8L1464.3 178.2L1463.9 178.6L1463.4 179L1463 179.4L1462.5 179.8L1462.1 180.2L1461.6 180.5L1461.2 180.9L1460.7 181.2L1460.3 181.5L1459.8 181.8L1459.4 182.1L1458.9 182.4L1458.5 182.6L1458 182.8L1457.6 183.1L1457.2 183.3L1456.7 183.6L1456.3 183.9L1455.8 184.2L1455.4 184.5L1454.9 184.8L1454.5 185.2L1454 185.6L1453.6 186.1L1453.1 186.7L1452.7 187.5L1452.2 188.4L1451.8 189.5L1451.3 190.5L1450.9 191.6L1450.4 192.7L1450 193.7L1449.5 194.7L1449.1 195.6L1448.7 196.3L1448.2 196.9L1447.8 197.3L1447.3 197.5L1446.9 197.4L1446.4 197.1L1446 196.6L1445.5 195.9L1445.1 195L1444.6 194.1L1444.2 193.2L1443.7 192.3L1443.3 191.4L1442.8 190.6L1442.4 190L1441.9 189.6L1441.5 189.4L1441 189.2L1440.6 189.1L1440.2 189L1439.7 188.9L1439.3 188.8L1438.8 188.7L1438.4 188.6L1437.9 188.5L1437.5 188.5L1437 188.4L1436.6 188.3L1436.1 188.3L1435.7 188.3L1435.2 188.2L1434.8 188.2L1434.3 188.2L1433.9 188.2L1433.4 188.4L1433 188.6L1432.5 189L1432.1 189.4L1431.7 189.9L1431.2 190.4L1430.8 191L1430.3 191.7L1429.9 192.3L1429.4 193L1429 193.7L1428.5 194.4L1428.1 195.1L1427.6 195.7L1427.2 196.3L1426.7 196.9L1426.3 197.4L1425.8 198L1425.4 198.5L1424.9 199.1L1424.5 199.7L1424 200.2L1423.6 200.8L1423.1 201.4L1422.7 202L1422.3 202.5L1421.8 203.1L1421.4 203.6L1420.9 204.2L1420.5 204.7L1420 205.2L1419.6 205.7L1419.1 206.2L1418.7 206.7L1418.2 207.2L1417.8 207.7L1417.3 208.1L1416.9 208.6L1416.4 209L1416 209.5L1415.5 209.9L1415.1 210.4L1414.6 210.8L1414.2 211.3L1413.8 211.7L1413.3 212.1L1412.9 212.5L1412.4 213L1412 213.4L1411.5 213.8L1411.1 214.2L1410.6 214.7L1410.2 215.1L1409.7 215.6L1409.3 216.2L1408.8 216.7L1408.4 217.2L1407.9 217.7L1407.5 218.2L1407 218.7L1406.6 219.2L1406.1 219.7L1405.7 220.1L1405.3 220.4L1404.8 220.8L1404.4 221.1L1403.9 221.3L1403.5 221.4L1403 221.5L1402.6 221.5L1402.1 221.5L1401.7 221.4L1401.2 221.3L1400.8 221.2L1400.3 221.1L1399.9 220.9L1399.4 220.8L1399 220.6L1398.5 220.4L1398.1 220.3L1397.6 220.1L1397.2 219.9L1396.8 219.8L1396.3 219.7L1395.9 219.6L1395.4 219.5L1395 219.4L1394.5 219.4L1394.1 219.4L1393.6 219.4L1393.2 219.4L1392.7 219.5L1392.3 219.5L1391.8 219.6L1391.4 219.7L1390.9 219.8L1390.5 219.9L1390 220L1389.6 220.1L1389.1 220.2L1388.7 220.3L1388.3 220.4L1387.8 220.6L1387.4 220.7L1386.9 220.8L1386.5 221L1386 221.1L1385.6 221.3L1385.1 221.4L1384.7 221.6L1384.2 221.7L1383.8 221.9L1383.3 222L1382.9 222.2L1382.4 222.3L1382 222.5L1381.5 222.6L1381.1 222.8L1380.6 222.9L1380.2 223.1L1379.8 223.2L1379.3 223.4L1378.9 223.5L1378.4 223.7L1378 223.9L1377.5 224L1377.1 224.2L1376.6 224.4L1376.2 224.6L1375.7 224.8L1375.3 225L1374.8 225.2L1374.4 225.4L1373.9 225.6L1373.5 225.8L1373 226L1372.6 226.2L1372.1 226.4L1371.7 226.6L1371.3 226.8L1370.8 227L1370.4 227.3L1369.9 227.5L1369.5 227.7L1369 228L1368.6 228.2L1368.1 228.5L1367.7 228.8L1367.2 229.1L1366.8 229.5L1366.3 229.9L1365.9 230.2L1365.4 230.6L1365 231L1364.5 231.4L1364.1 231.8L1363.6 232.2L1363.2 232.6L1362.8 233L1362.3 233.3L1361.9 233.7L1361.4 234.1L1361 234.4L1360.5 234.7L1360.1 235L1359.6 235.2L1359.2 235.5L1358.7 235.7L1358.3 235.8L1357.8 236L1357.4 236L1356.9 236.1L1356.5 236.1L1356 235.8L1355.6 235.4L1355.1 234.8L1354.7 234.1L1354.3 233.5L1353.8 232.9L1353.4 232.4L1352.9 232L1352.5 231.9L1352 232L1351.6 232.1L1351.1 232.3L1350.7 232.6L1350.2 232.9L1349.8 233.3L1349.3 233.7L1348.9 234.2L1348.4 234.7L1348 235.1L1347.5 235.6L1347.1 236.1L1346.6 236.5L1346.2 237L1345.8 237.3L1345.3 237.6L1344.9 237.9L1344.4 238.1L1344 238.2L1343.5 238.3L1343.1 238.4L1342.6 238.5L1342.2 238.5L1341.7 238.6L1341.3 238.6L1340.8 238.7L1340.4 238.7L1339.9 238.7L1339.5 238.8L1339 238.8L1338.6 238.9L1338.1 238.9L1337.7 239L1337.3 239L1336.8 239.1L1336.4 239.2L1335.9 239.3L1335.5 239.4L1335 239.6L1334.6 240L1334.1 240.4L1333.7 240.8L1333.2 241.4L1332.8 241.9L1332.3 242.5L1331.9 243.1L1331.4 243.7L1331 244.4L1330.5 245L1330.1 245.5L1329.6 246.1L1329.2 246.5L1328.8 247L1328.3 247.3L1327.9 247.5L1327.4 247.7L1327 247.8L1326.5 247.9L1326.1 247.9L1325.6 248L1325.2 248L1324.7 248.1L1324.3 248.1L1323.8 248.2L1323.4 248.2L1322.9 248.2L1322.5 248.3L1322 248.3L1321.6 248.3L1321.1 248.4L1320.7 248.4L1320.3 248.5L1319.8 248.6L1319.4 248.6L1318.9 248.7L1318.5 248.8L1318 249L1317.6 249.2L1317.1 249.5L1316.7 249.8L1316.2 250.1L1315.8 250.5L1315.3 250.9L1314.9 251.3L1314.4 251.8L1314 252.2L1313.5 252.7L1313.1 253.3L1312.6 253.8L1312.2 254.4L1311.8 255L1311.3 255.6L1310.9 256.2L1310.4 256.8L1310 257.4L1309.5 258L1309.1 258.6L1308.6 259.3L1308.2 259.9L1307.7 260.5L1307.3 261.1L1306.8 261.7L1306.4 262.3L1305.9 262.9L1305.5 263.6L1305 264.2L1304.6 264.9L1304.1 265.6L1303.7 266.4L1303.3 267.1L1302.8 267.9L1302.4 268.7L1301.9 269.5L1301.5 270.3L1301 271.2L1300.6 272L1300.1 272.8L1299.7 273.7L1299.2 274.5L1298.8 275.3L1298.3 276.2L1297.9 277L1297.4 277.8L1297 278.6L1296.5 279.3L1296.1 280.1L1295.6 280.8L1295.2 281.5L1294.8 282.2L1294.3 282.8L1293.9 283.5L1293.4 284L1293 284.6L1292.5 285.2L1292.1 285.7L1291.6 286.2L1291.2 286.8L1290.7 287.3L1290.3 287.8L1289.8 288.2L1289.4 288.7L1288.9 289.2L1288.5 289.6L1288 290.1L1287.6 290.5L1287.1 291L1286.7 291.4L1286.2 291.8L1285.8 292.2L1285.4 292.7L1284.9 293.1L1284.5 293.5L1284 293.9L1283.6 294.3L1283.1 294.7L1282.7 295.1L1282.2 295.5L1281.8 295.9L1281.3 296.4L1280.9 296.8L1280.4 297.2L1280 297.6L1279.5 298L1279.1 298.5L1278.6 298.9L1278.2 299.4L1277.7 299.8L1277.3 300.3L1276.9 300.7L1276.4 301.2L1276 301.7L1275.5 302.2L1275.1 302.7L1274.6 303.2L1274.2 303.7L1273.7 304.3L1273.3 304.8L1272.8 305.4L1272.4 306L1271.9 306.6L1271.5 307.2L1271 307.9L1270.6 308.5L1270.1 309.2L1269.7 309.9L1269.2 310.6L1268.8 311.4L1268.4 312.1L1267.9 312.8L1267.5 313.6L1267 314.4L1266.6 315.1L1266.1 315.9L1265.7 316.7L1265.2 317.5L1264.8 318.3L1264.3 319.1L1263.9 319.9L1263.4 320.7L1263 321.5L1262.5 322.3L1262.1 323.1L1261.6 323.9L1261.2 324.7L1260.7 325.4L1260.3 326.2L1259.9 327L1259.4 327.8L1259 328.6L1258.5 329.4L1258.1 330.1L1257.6 330.9L1257.2 331.6L1256.7 332.3L1256.3 333L1255.8 333.7L1255.4 334.4L1254.9 335.1L1254.5 335.8L1254 336.5L1253.6 337.2L1253.1 337.9L1252.7 338.6L1252.2 339.2L1251.8 339.9L1251.4 340.6L1250.9 341.3L1250.5 342L1250 342.7L1249.6 343.4L1249.1 344L1248.7 344.7L1248.2 345.4L1247.8 346.1L1247.3 346.7L1246.9 347.4L1246.4 348.1L1246 348.7L1245.5 349.4L1245.1 350L1244.6 350.7L1244.2 351.3L1243.7 352L1243.3 352.6L1242.9 353.2L1242.4 353.9L1242 354.5L1241.5 355.1L1241.1 355.7L1240.6 356.3L1240.2 356.9L1239.7 357.5L1239.3 358.1L1238.8 358.7L1238.4 359.3L1237.9 359.9L1237.5 360.4L1237 361L1236.6 361.5L1236.1 362.1L1235.7 362.6L1235.2 363.2L1234.8 363.7L1234.4 364.2L1233.9 364.7L1233.5 365.2L1233 365.7L1232.6 366.2L1232.1 366.6L1231.7 367.1L1231.2 367.6L1230.8 368L1230.3 368.4L1229.9 368.9L1229.4 369.3L1229 369.7L1228.5 370.1L1228.1 370.5L1227.6 370.8L1227.2 371.2L1226.7 371.6L1226.3 371.9L1225.9 372.3L1225.4 372.6L1225 373L1224.5 373.3L1224.1 373.7L1223.6 374L1223.2 374.3L1222.7 374.6L1222.3 375L1221.8 375.3L1221.4 375.6L1220.9 375.9L1220.5 376.3L1220 376.6L1219.6 376.9L1219.1 377.2L1218.7 377.6L1218.2 377.9L1217.8 378.2L1217.4 378.6L1216.9 378.9L1216.5 379.3L1216 379.6L1215.6 380L1215.1 380.3L1214.7 380.7L1214.2 381.1L1213.8 381.5L1213.3 381.9L1212.9 382.3L1212.4 382.7L1212 383.1L1211.5 383.5L1211.1 384L1210.6 384.4L1210.2 384.9L1209.7 385.3L1209.3 385.8L1208.9 386.3L1208.4 386.7L1208 387.2L1207.5 387.7L1207.1 388.2L1206.6 388.7L1206.2 389.2L1205.7 389.7L1205.3 390.2L1204.8 390.7L1204.4 391.2L1203.9 391.8L1203.5 392.3L1203 392.9L1202.6 393.4L1202.1 394L1201.7 394.5L1201.2 395.1L1200.8 395.7L1200.4 396.3L1199.9 396.9L1199.5 397.5L1199 398.1L1198.6 398.7L1198.1 399.3L1197.7 400L1197.2 400.6L1196.8 401.3L1196.3 402L1195.9 402.6L1195.4 403.3L1195 404.1L1194.5 404.8L1194.1 405.5L1193.6 406.2L1193.2 407L1192.7 407.7L1192.3 408.5L1191.9 409.3L1191.4 410L1191 410.8L1190.5 411.6L1190.1 412.4L1189.6 413.2L1189.2 414.1L1188.7 414.9L1188.3 415.7L1187.8 416.5L1187.4 417.4L1186.9 418.2L1186.5 419.1L1186 419.9L1185.6 420.8L1185.1 421.7L1184.7 422.5L1184.2 423.4L1183.8 424.3L1183.4 425.2L1182.9 426.1L1182.5 427L1182 427.8L1181.6 428.7L1181.1 429.6L1180.7 430.6L1180.2 431.5L1179.8 432.4L1179.3 433.4L1178.9 434.4L1178.4 435.4L1178 436.3L1177.5 437.3L1177.1 438.4L1176.6 439.4L1176.2 440.4L1175.7 441.4L1175.3 442.5L1174.9 443.5L1174.4 444.6L1174 445.6L1173.5 446.7L1173.1 447.7L1172.6 448.8L1172.2 449.9L1171.7 450.9L1171.3 452L1170.8 453L1170.4 454.1L1169.9 455.2L1169.5 456.2L1169 457.3L1168.6 458.3L1168.1 459.4L1167.7 460.4L1167.2 461.5L1166.8 462.5L1166.4 463.5L1165.9 464.5L1165.5 465.5L1165 466.6L1164.6 467.6L1164.1 468.6L1163.7 469.6L1163.2 470.6L1162.8 471.6L1162.3 472.6L1161.9 473.6L1161.4 474.7L1161 475.7L1160.5 476.7L1160.1 477.7L1159.6 478.7L1159.2 479.7L1158.7 480.7L1158.3 481.8L1157.9 482.8L1157.4 483.8L1157 484.8L1156.5 485.9L1156.1 486.9L1155.6 488L1155.2 489L1154.7 490.1L1154.3 491.1L1153.8 492.2L1153.4 493.3L1152.9 494.3L1152.5 495.4L1152 496.5L1151.6 497.6L1151.1 498.7L1150.7 499.8L1150.2 501L1149.8 502.1L1149.3 503.2L1148.9 504.3L1148.5 505.4L1148 506.5L1147.6 507.7L1147.1 508.8L1146.7 510L1146.2 511.1L1145.8 512.3L1145.3 513.4L1144.9 514.6L1144.4 515.7L1144 516.9L1143.5 518L1143.1 519.2L1142.6 520.4L1142.2 521.5L1141.7 522.7L1141.3 523.9L1140.8 525L1140.4 526.2L1140 527.4L1139.5 528.6L1139.1 529.8L1138.6 531L1138.2 532.2L1137.7 533.4L1137.3 534.6L1136.8 535.8L1136.4 537L1135.9 538.3L1135.5 539.5L1135 540.7L1134.6 541.9L1134.1 543.1L1133.7 544.3L1133.2 545.6L1132.8 546.8L1132.3 548L1131.9 549.2L1131.5 550.4L1131 551.6L1130.6 552.8L1130.1 554L1129.7 555.2L1129.2 556.4L1128.8 557.5L1128.3 558.7L1127.9 559.9L1127.4 561L1127 562.2L1126.5 563.3L1126.1 564.5L1125.6 565.6L1125.2 566.7L1124.7 567.9L1124.3 569L1123.8 570.1L1123.4 571.2L1123 572.3L1122.5 573.4L1122.1 574.5L1121.6 575.6L1121.2 576.7L1120.7 577.8L1120.3 578.9L1119.8 580L1119.4 581L1118.9 582.1L1118.5 583.2L1118 584.3L1117.6 585.4L1117.1 586.4L1116.7 587.5L1116.2 588.6L1115.8 589.6L1115.3 590.7L1114.9 591.8L1114.5 592.9L1114 593.9L1113.6 595L1113.1 596.1L1112.7 597.1L1112.2 598.2L1111.8 599.3L1111.3 600.4L1110.9 601.5L1110.4 602.5L1110 603.6L1109.5 604.7L1109.1 605.8L1108.6 606.9L1108.2 608L1107.7 609.1L1107.3 610.2L1106.8 611.3L1106.4 612.4L1106 613.5L1105.5 614.6L1105.1 615.7L1104.6 616.8L1104.2 617.9L1103.7 619L1103.3 620.1L1102.8 621.2L1102.4 622.3L1101.9 623.4L1101.5 624.6L1101 625.7L1100.6 626.8L1100.1 627.9L1099.7 629L1099.2 630.1L1098.8 631.2L1098.3 632.3L1097.9 633.5L1097.5 634.6L1097 635.7L1096.6 636.8L1096.1 637.9L1095.7 639.1L1095.2 640.2L1094.8 641.3L1094.3 642.4L1093.9 643.5L1093.4 644.7L1093 645.8L1092.5 646.9L1092.1 648L1091.6 649.2L1091.2 650.3L1090.7 651.4L1090.3 652.5L1089.8 653.7L1089.4 654.8Z" fill="#3b528b" fill-opacity="0.2" stroke="none"/>
<path d="M1178.5 619.8L1178.9 618.7L1179.4 617.5L1179.8 616.4L1180.3 615.2L1180.7 614.1L1181.2 613L1181.6 611.8L1182.1 610.7L1182.5 609.5L1183 608.4L1183.4 607.2L1183.9 606.1L1184.3 604.9L1184.8 603.7L1185.2 602.6L1185.7 601.4L1186.1 600.3L1186.6 599.1L1187 597.9L1187.5 596.8L1187.9 595.6L1188.4 594.4L1188.8 593.3L1189.3 592.1L1189.7 590.9L1190.2 589.8L1190.6 588.6L1191 587.4L1191.5 586.2L1191.9 585.1L1192.4 583.9L1192.8 582.7L1193.3 581.5L1193.7 580.3L1194.2 579.1L1194.6 578L1195.1 576.8L1195.5 575.6L1196 574.4L1196.4 573.2L1196.9 572L1197.3 570.8L1197.8 569.6L1198.2 568.4L1198.7 567.2L1199.1 566L1199.6 564.8L1200 563.6L1200.5 562.4L1200.9 561.2L1201.4 560L1201.8 558.8L1202.3 557.6L1202.7 556.4L1203.2 555.2L1203.6 553.9L1204 552.7L1204.5 551.5L1204.9 550.3L1205.4 549L1205.8 547.8L1206.3 546.6L1206.7 545.4L1207.2 544.1L1207.6 542.9L1208.1 541.7L1208.5 540.4L1209 539.2L1209.4 538L1209.9 536.7L1210.3 535.5L1210.8 534.3L1211.2 533L1211.7 531.8L1212.1 530.6L1212.6 529.3L1213 528.1L1213.5 526.9L1213.9 525.7L1214.4 524.4L1214.8 523.2L1215.3 522L1215.7 520.7L1216.1 519.5L1216.6 518.3L1217 517L1217.5 515.8L1217.9 514.5L1218.4 513.3L1218.8 512.1L1219.3 510.8L1219.7 509.6L1220.2 508.3L1220.6 507.1L1221.1 505.8L1221.5 504.6L1222 503.3L1222.4 502.1L1222.9 500.8L1223.3 499.6L1223.8 498.3L1224.2 497.1L1224.7 495.8L1225.1 494.6L1225.6 493.3L1226 492.1L1226.5 490.8L1226.9 489.6L1227.4 488.3L1227.8 487.1L1228.3 485.9L1228.7 484.6L1229.1 483.4L1229.6 482.2L1230 480.9L1230.5 479.7L1230.9 478.5L1231.4 477.3L1231.8 476L1232.3 474.8L1232.7 473.6L1233.2 472.4L1233.6 471.2L1234.1 470L1234.5 468.8L1235 467.6L1235.4 466.4L1235.9 465.2L1236.3 464.1L1236.8 462.9L1237.2 461.7L1237.7 460.5L1238.1 459.4L1238.6 458.2L1239 457L1239.5 455.9L1239.9 454.7L1240.4 453.6L1240.8 452.4L1241.2 451.3L1241.7 450.1L1242.1 449L1242.6 447.8L1243 446.7L1243.5 445.5L1243.9 444.4L1244.4 443.3L1244.8 442.1L1245.3 441L1245.7 439.9L1246.2 438.7L1246.6 437.6L1247.1 436.5L1247.5 435.3L1248 434.2L1248.4 433.1L1248.9 431.9L1249.3 430.8L1249.8 429.7L1250.2 428.6L1250.7 427.4L1251.1 426.3L1251.6 425.2L1252 424.1L1252.5 422.9L1252.9 421.8L1253.4 420.7L1253.8 419.5L1254.2 418.4L1254.7 417.3L1255.1 416.1L1255.6 415L1256 413.9L1256.5 412.7L1256.9 411.6L1257.4 410.4L1257.8 409.3L1258.3 408.2L1258.7 407L1259.2 405.9L1259.6 404.8L1260.1 403.6L1260.5 402.5L1261 401.4L1261.4 400.3L1261.9 399.1L1262.3 398L1262.8 396.9L1263.2 395.8L1263.7 394.6L1264.1 393.5L1264.6 392.4L1265 391.3L1265.5 390.2L1265.9 389.1L1266.3 388L1266.8 386.9L1267.2 385.8L1267.7 384.7L1268.1 383.6L1268.6 382.5L1269 381.4L1269.5 380.4L1269.9 379.3L1270.4 378.2L1270.8 377.2L1271.3 376.1L1271.7 375L1272.2 374L1272.6 372.9L1273.1 371.9L1273.5 370.9L1274 369.8L1274.4 368.8L1274.9 367.8L1275.3 366.8L1275.8 365.8L1276.2 364.9L1276.7 363.9L1277.1 362.9L1277.6 362L1278 361L1278.5 360.1L1278.9 359.1L1279.3 358.2L1279.8 357.2L1280.2 356.3L1280.7 355.4L1281.1 354.4L1281.6 353.5L1282 352.6L1282.5 351.6L1282.9 350.7L1283.4 349.8L1283.8 348.9L1284.3 347.9L1284.7 347L1285.2 346L1285.6 345.1L1286.1 344.1L1286.5 343.2L1287 342.2L1287.4 341.3L1287.9 340.3L1288.3 339.3L1288.8 338.3L1289.2 337.3L1289.7 336.3L1290.1 335.3L1290.6 334.3L1291 333.4L1291.4 332.3L1291.9 331.3L1292.3 330.3L1292.8 329.3L1293.2 328.2L1293.7 327.1L1294.1 326L1294.6 324.9L1295 323.7L1295.5 322.5L1295.9 321.2L1296.4 320L1296.8 318.8L1297.3 317.6L1297.7 316.5L1298.2 315.4L1298.6 314.4L1299.1 313.4L1299.5 312.3L1300 311.4L1300.4 310.4L1300.9 309.4L1301.3 308.5L1301.8 307.5L1302.2 306.6L1302.7 305.7L1303.1 304.7L1303.6 303.9L1304 303L1304.4 302.1L1304.9 301.3L1305.3 300.4L1305.8 299.6L1306.2 298.8L1306.7 298L1307.1 297.2L1307.6 296.4L1308 295.6L1308.5 294.9L1308.9 294.1L1309.4 293.4L1309.8 292.7L1310.3 292L1310.7 291.2L1311.2 290.5L1311.6 289.8L1312.1 289.1L1312.5 288.4L1313 287.8L1313.4 287.1L1313.9 286.4L1314.3 285.8L1314.8 285.1L1315.2 284.5L1315.7 283.9L1316.1 283.3L1316.5 282.7L1317 282.1L1317.4 281.5L1317.9 280.9L1318.3 280.4L1318.8 279.8L1319.2 279.3L1319.7 278.8L1320.1 278.3L1320.6 277.8L1321 277.3L1321.5 276.8L1321.9 276.4L1322.4 275.9L1322.8 275.4L1323.3 275L1323.7 274.6L1324.2 274.1L1324.6 273.7L1325.1 273.3L1325.5 272.9L1326 272.5L1326.4 272.1L1326.9 271.7L1327.3 271.3L1327.8 270.9L1328.2 270.5L1328.7 270.2L1329.1 269.8L1329.5 269.4L1330 269.1L1330.4 268.7L1330.9 268.3L1331.3 267.9L1331.8 267.6L1332.2 267.2L1332.7 266.9L1333.1 266.5L1333.6 266.2L1334 265.8L1334.5 265.5L1334.9 265.2L1335.4 264.8L1335.8 264.5L1336.3 264.2L1336.7 263.9L1337.2 263.6L1337.6 263.3L1338.1 263.1L1338.5 262.8L1339 262.5L1339.4 262.2L1339.9 262L1340.3 261.7L1340.8 261.5L1341.2 261.3L1341.6 261L1342.1 260.8L1342.5 260.5L1343 260.3L1343.4 260.1L1343.9 259.9L1344.3 259.7L1344.8 259.4L1345.2 259.2L1345.7 259L1346.1 258.8L1346.6 258.6L1347 258.3L1347.5 258.1L1347.9 257.9L1348.4 257.7L1348.8 257.5L1349.3 257.3L1349.7 257L1350.2 256.8L1350.6 256.6L1351.1 256.4L1351.5 256.1L1352 255.9L1352.4 255.6L1352.9 255.4L1353.3 255.1L1353.8 254.9L1354.2 254.6L1354.6 254.4L1355.1 254.1L1355.5 253.8L1356 253.5L1356.4 253.2L1356.9 252.9L1357.3 252.6L1357.8 252.3L1358.2 252L1358.7 251.7L1359.1 251.3L1359.6 251L1360 250.7L1360.5 250.3L1360.9 250L1361.4 249.6L1361.8 249.2L1362.3 248.9L1362.7 248.5L1363.2 248.1L1363.6 247.7L1364.1 247.4L1364.5 247L1365 246.6L1365.4 246.2L1365.9 245.8L1366.3 245.4L1366.7 245L1367.2 244.6L1367.6 244.2L1368.1 243.8L1368.5 243.4L1369 243L1369.4 242.6L1369.9 242.2L1370.3 241.8L1370.8 241.4L1371.2 241L1371.7 240.5L1372.1 240.1L1372.6 239.7L1373 239.2L1373.5 238.8L1373.9 238.4L1374.4 237.9L1374.8 237.5L1375.3 237L1375.7 236.5L1376.2 236.1L1376.6 235.6L1377.1 235.2L1377.5 234.7L1378 234.2L1378.4 233.8L1378.9 233.3L1379.3 232.8L1379.7 232.4L1380.2 231.9L1380.6 231.4L1381.1 231L1381.5 230.5L1382 230.1L1382.4 229.6L1382.9 229.1L1383.3 228.7L1383.8 228.2L1384.2 227.8L1384.7 227.3L1385.1 226.9L1385.6 226.5L1386 226L1386.5 225.6L1386.9 225.2L1387.4 224.7L1387.8 224.3L1388.3 223.9L1388.7 223.5L1389.2 223.1L1389.6 222.7L1390.1 222.3L1390.5 222L1391 221.6L1391.4 221.2L1391.8 220.9L1392.3 220.5L1392.7 220.2L1393.2 219.8L1393.6 219.5L1394.1 219.2L1394.5 218.8L1395 218.5L1395.4 218.1L1395.9 217.8L1396.3 217.4L1396.8 217.1L1397.2 216.7L1397.7 216.3L1398.1 216L1398.6 215.6L1399 215.2L1399.5 214.8L1399.9 214.4L1400.4 214L1400.8 213.5L1401.3 213.1L1401.7 212.6L1402.2 212.2L1402.6 211.7L1403.1 211.2L1403.5 210.6L1404 210.1L1404.4 209.5L1404.8 208.9L1405.3 208.3L1405.7 207.6L1406.2 207L1406.6 206.3L1407.1 205.6L1407.5 204.9L1408 204.2L1408.4 203.5L1408.9 202.7L1409.3 202L1409.8 201.3L1410.2 200.5L1410.7 199.8L1411.1 199L1411.6 198.3L1412 197.4L1412.5 196.5L1412.9 195.6L1413.4 194.6L1413.8 193.6L1414.3 192.6L1414.7 191.6L1415.2 190.6L1415.6 189.6L1416.1 188.6L1416.5 187.7L1416.9 186.8L1417.4 186L1417.8 185.3L1418.3 184.7L1418.7 184.1L1419.2 183.7L1419.6 183.4L1420.1 183.1L1420.5 182.8L1421 182.5L1421.4 182.2L1421.9 182L1422.3 181.7L1422.8 181.5L1423.2 181.3L1423.7 181.1L1424.1 180.9L1424.6 180.8L1425 180.6L1425.5 180.5L1425.9 180.5L1426.4 180.4L1426.8 180.4L1427.3 180.4L1427.7 180.5L1428.2 180.7L1428.6 180.9L1429.1 181.1L1429.5 181.4L1429.9 181.6L1430.4 181.9L1430.8 182.2L1431.3 182.5L1431.7 182.7L1432.2 183L1432.6 183.2L1433.1 183.3L1433.5 183.5L1434 183.5L1434.4 183.5L1434.9 183.4L1435.3 183.3L1435.8 183L1436.2 182.7L1436.7 182.4L1437.1 181.9L1437.6 181.4L1438 180.9L1438.5 180.4L1438.9 179.8L1439.4 179.2L1439.8 178.6L1440.3 177.9L1440.7 177.3L1441.2 176.7L1441.6 176.1L1442 175.5L1442.5 174.9L1442.9 174.3L1443.4 173.8L1443.8 173.4L1444.3 173L1444.7 172.6L1445.2 172.3L1445.6 172.1L1446.1 172L1446.5 171.9L1447 171.9L1447.4 172L1447.9 172.2L1448.3 172.4L1448.8 172.7L1449.2 173L1449.7 173.3L1450.1 173.7L1450.6 174.1L1451 174.6L1451.5 175L1451.9 175.5L1452.4 175.9L1452.8 176.4L1453.3 176.8L1453.7 177.2L1454.2 177.6L1454.6 178L1455 178.4L1455.5 178.7L1455.9 178.9L1456.4 179.1L1456.8 179.3L1457.3 179.4L1457.7 179.4L1458.2 179.3L1458.6 179.2L1459.1 179.1L1459.5 178.8L1460 178.6L1460.4 178.3L1460.9 178L1461.3 177.7L1461.8 177.4L1462.2 177L1462.7 176.7L1463.1 176.4L1463.6 176.1L1464 175.8L1464.5 175.5L1464.9 175.3L1465.4 175.2L1465.8 175.1L1466.3 175L1466.7 175.1L1467.1 175.2L1467.6 175.3L1468 175.5L1468.5 175.7L1468.9 176L1469.4 176.2L1469.8 176.5L1470.3 176.8L1470.7 177.1L1471.2 177.3L1471.6 177.6L1472.1 177.8L1472.5 178L1473 178.1L1473.4 178.2L1473.9 178.2L1474.3 178.2L1474.8 178.1L1475.2 178.1L1475.7 178L1476.1 177.9L1476.6 177.8L1477 177.8L1477.5 177.7L1477.9 177.6L1478.4 177.6L1478.8 177.6L1479.3 177.9L1479.7 178.3L1480.1 178.8L1480.6 179.4L1481 180.1L1481.5 180.7L1481.9 181.4L1482.4 181.9L1482.8 182.3L1483.3 182.5L1483.7 182.5L1484.2 182.3L1484.6 181.8L1485.1 181.1L1485.5 180.2L1486 179.1L1486.4 178L1486.9 176.7L1487.3 175.3L1487.8 173.9L1488.2 172.5L1488.7 171L1489.1 169.3L1489.6 167.3L1490 165.1L1490.5 162.6L1490.9 159.9L1491.4 157.2L1491.8 154.3L1491.8 164.3L1491.4 167.2L1490.9 169.9L1490.5 172.6L1490 175.1L1489.6 177.3L1489.1 179.4L1488.7 181.1L1488.2 182.5L1487.8 184L1487.3 185.4L1486.9 186.7L1486.4 188L1486 189.2L1485.5 190.2L1485.1 191.1L1484.6 191.8L1484.2 192.3L1483.7 192.6L1483.3 192.6L1482.8 192.4L1482.4 192L1481.9 191.5L1481.5 190.9L1481 190.2L1480.6 189.5L1480.1 188.9L1479.7 188.4L1479.3 188L1478.8 187.8L1478.4 187.8L1477.9 187.8L1477.5 187.9L1477 187.9L1476.6 188L1476.1 188.1L1475.7 188.2L1475.2 188.3L1474.8 188.3L1474.3 188.4L1473.9 188.4L1473.4 188.4L1473 188.3L1472.5 188.2L1472.1 188L1471.6 187.8L1471.2 187.6L1470.7 187.3L1470.3 187.1L1469.8 186.8L1469.4 186.5L1468.9 186.2L1468.5 186L1468 185.8L1467.6 185.6L1467.1 185.5L1466.7 185.4L1466.3 185.4L1465.8 185.4L1465.4 185.5L1464.9 185.7L1464.5 185.9L1464 186.1L1463.6 186.4L1463.1 186.7L1462.7 187L1462.2 187.4L1461.8 187.7L1461.3 188.1L1460.9 188.4L1460.4 188.7L1460 189L1459.5 189.2L1459.1 189.5L1458.6 189.6L1458.2 189.8L1457.7 189.8L1457.3 189.8L1456.8 189.7L1456.4 189.6L1455.9 189.4L1455.5 189.1L1455 188.8L1454.6 188.5L1454.2 188.1L1453.7 187.7L1453.3 187.3L1452.8 186.9L1452.4 186.4L1451.9 186L1451.5 185.5L1451 185.1L1450.6 184.6L1450.1 184.2L1449.7 183.9L1449.2 183.5L1448.8 183.2L1448.3 183L1447.9 182.7L1447.4 182.6L1447 182.5L1446.5 182.5L1446.1 182.5L1445.6 182.7L1445.2 182.9L1444.7 183.2L1444.3 183.6L1443.8 184L1443.4 184.4L1442.9 185L1442.5 185.5L1442 186.1L1441.6 186.7L1441.2 187.3L1440.7 187.9L1440.3 188.6L1439.8 189.2L1439.4 189.8L1438.9 190.4L1438.5 191L1438 191.6L1437.6 192.1L1437.1 192.6L1436.7 193L1436.2 193.4L1435.8 193.7L1435.3 194L1434.9 194.2L1434.4 194.2L1434 194.3L1433.5 194.2L1433.1 194.1L1432.6 193.9L1432.2 193.7L1431.7 193.5L1431.3 193.2L1430.8 192.9L1430.4 192.7L1429.9 192.4L1429.5 192.1L1429.1 191.9L1428.6 191.7L1428.2 191.5L1427.7 191.3L1427.3 191.2L1426.8 191.2L1426.4 191.2L1425.9 191.3L1425.5 191.3L1425 191.5L1424.6 191.6L1424.1 191.7L1423.7 191.9L1423.2 192.1L1422.8 192.3L1422.3 192.6L1421.9 192.8L1421.4 193.1L1421 193.4L1420.5 193.7L1420.1 194L1419.6 194.3L1419.2 194.6L1418.7 195L1418.3 195.6L1417.8 196.2L1417.4 196.9L1416.9 197.7L1416.5 198.6L1416.1 199.5L1415.6 200.5L1415.2 201.5L1414.7 202.5L1414.3 203.5L1413.8 204.6L1413.4 205.6L1412.9 206.6L1412.5 207.5L1412 208.4L1411.6 209.3L1411.1 210L1410.7 210.8L1410.2 211.5L1409.8 212.3L1409.3 213L1408.9 213.8L1408.4 214.5L1408 215.2L1407.5 216L1407.1 216.7L1406.6 217.4L1406.2 218L1405.7 218.7L1405.3 219.3L1404.8 220L1404.4 220.6L1404 221.2L1403.5 221.7L1403.1 222.3L1402.6 222.8L1402.2 223.3L1401.7 223.7L1401.3 224.2L1400.8 224.6L1400.4 225.1L1399.9 225.5L1399.5 225.9L1399 226.3L1398.6 226.7L1398.1 227.1L1397.7 227.5L1397.2 227.9L1396.8 228.2L1396.3 228.6L1395.9 229L1395.4 229.3L1395 229.7L1394.5 230L1394.1 230.4L1393.6 230.7L1393.2 231.1L1392.7 231.4L1392.3 231.8L1391.8 232.1L1391.4 232.5L1391 232.8L1390.5 233.2L1390.1 233.6L1389.6 234L1389.2 234.4L1388.7 234.8L1388.3 235.2L1387.8 235.6L1387.4 236L1386.9 236.5L1386.5 236.9L1386 237.3L1385.6 237.8L1385.1 238.2L1384.7 238.7L1384.2 239.1L1383.8 239.6L1383.3 240L1382.9 240.5L1382.4 241L1382 241.4L1381.5 241.9L1381.1 242.4L1380.6 242.8L1380.2 243.3L1379.7 243.8L1379.3 244.2L1378.9 244.7L1378.4 245.2L1378 245.6L1377.5 246.1L1377.1 246.6L1376.6 247L1376.2 247.5L1375.7 248L1375.3 248.4L1374.8 248.9L1374.4 249.4L1373.9 249.8L1373.5 250.3L1373 250.7L1372.6 251.2L1372.1 251.6L1371.7 252L1371.2 252.5L1370.8 252.9L1370.3 253.3L1369.9 253.7L1369.4 254.1L1369 254.5L1368.5 254.9L1368.1 255.3L1367.6 255.8L1367.2 256.2L1366.7 256.6L1366.3 257L1365.9 257.4L1365.4 257.8L1365 258.2L1364.5 258.5L1364.1 258.9L1363.6 259.3L1363.2 259.7L1362.7 260.1L1362.3 260.5L1361.8 260.8L1361.4 261.2L1360.9 261.6L1360.5 261.9L1360 262.3L1359.6 262.6L1359.1 263L1358.7 263.3L1358.2 263.7L1357.8 264L1357.3 264.3L1356.9 264.6L1356.4 264.9L1356 265.2L1355.5 265.5L1355.1 265.8L1354.6 266.1L1354.2 266.3L1353.8 266.6L1353.3 266.9L1352.9 267.1L1352.4 267.4L1352 267.6L1351.5 267.9L1351.1 268.1L1350.6 268.3L1350.2 268.6L1349.7 268.8L1349.3 269L1348.8 269.2L1348.4 269.5L1347.9 269.7L1347.5 269.9L1347 270.1L1346.6 270.4L1346.1 270.6L1345.7 270.8L1345.2 271L1344.8 271.2L1344.3 271.5L1343.9 271.7L1343.4 271.9L1343 272.2L1342.5 272.4L1342.1 272.6L1341.6 272.9L1341.2 273.1L1340.8 273.4L1340.3 273.6L1339.9 273.9L1339.4 274.1L1339 274.4L1338.5 274.7L1338.1 275L1337.6 275.2L1337.2 275.5L1336.7 275.8L1336.3 276.1L1335.8 276.4L1335.4 276.8L1334.9 277.1L1334.5 277.4L1334 277.8L1333.6 278.1L1333.1 278.5L1332.7 278.8L1332.2 279.2L1331.8 279.6L1331.3 279.9L1330.9 280.3L1330.4 280.7L1330 281.1L1329.5 281.5L1329.1 282L1328.7 282.4L1328.2 282.9L1327.8 283.4L1327.3 283.8L1326.9 284.3L1326.4 284.8L1326 285.3L1325.5 285.8L1325.1 286.3L1324.6 286.8L1324.2 287.3L1323.7 287.8L1323.3 288.3L1322.8 288.9L1322.4 289.4L1321.9 290L1321.5 290.5L1321 291.1L1320.6 291.6L1320.1 292.2L1319.7 292.8L1319.2 293.4L1318.8 294.1L1318.3 294.7L1317.9 295.3L1317.4 296L1317 296.7L1316.5 297.4L1316.1 298L1315.7 298.7L1315.2 299.5L1314.8 300.2L1314.3 300.9L1313.9 301.7L1313.4 302.4L1313 303.2L1312.5 303.9L1312.1 304.7L1311.6 305.5L1311.2 306.3L1310.7 307.1L1310.3 307.9L1309.8 308.7L1309.4 309.5L1308.9 310.4L1308.5 311.2L1308 312L1307.6 312.9L1307.1 313.7L1306.7 314.6L1306.2 315.5L1305.8 316.4L1305.3 317.3L1304.9 318.3L1304.4 319.2L1304 320.2L1303.6 321.1L1303.1 322.1L1302.7 323.1L1302.2 324.1L1301.8 325.2L1301.3 326.2L1300.9 327.2L1300.4 328.3L1300 329.4L1299.5 330.4L1299.1 331.5L1298.6 332.6L1298.2 333.8L1297.7 334.9L1297.3 336.1L1296.8 337.4L1296.4 338.7L1295.9 340L1295.5 341.4L1295 342.7L1294.6 344L1294.1 345.2L1293.7 346.4L1293.2 347.6L1292.8 348.7L1292.3 349.8L1291.9 351L1291.4 352.1L1291 353.2L1290.6 354.2L1290.1 355.3L1289.7 356.3L1289.2 357.4L1288.8 358.4L1288.3 359.4L1287.9 360.4L1287.4 361.4L1287 362.3L1286.5 363.3L1286.1 364.3L1285.6 365.3L1285.2 366.2L1284.7 367.2L1284.3 368.1L1283.8 369.1L1283.4 370L1282.9 371L1282.5 371.9L1282 372.9L1281.6 373.8L1281.1 374.8L1280.7 375.7L1280.2 376.7L1279.8 377.6L1279.3 378.6L1278.9 379.5L1278.5 380.5L1278 381.4L1277.6 382.4L1277.1 383.4L1276.7 384.4L1276.2 385.4L1275.8 386.4L1275.3 387.4L1274.9 388.4L1274.4 389.4L1274 390.4L1273.5 391.5L1273.1 392.5L1272.6 393.6L1272.2 394.6L1271.7 395.7L1271.3 396.8L1270.8 397.8L1270.4 398.9L1269.9 400L1269.5 401.1L1269 402.2L1268.6 403.3L1268.1 404.4L1267.7 405.5L1267.2 406.6L1266.8 407.7L1266.3 408.8L1265.9 410L1265.5 411.1L1265 412.2L1264.6 413.3L1264.1 414.5L1263.7 415.6L1263.2 416.7L1262.8 417.9L1262.3 419L1261.9 420.1L1261.4 421.3L1261 422.4L1260.5 423.6L1260.1 424.7L1259.6 425.9L1259.2 427L1258.7 428.2L1258.3 429.3L1257.8 430.5L1257.4 431.6L1256.9 432.8L1256.5 433.9L1256 435.1L1255.6 436.2L1255.1 437.4L1254.7 438.5L1254.2 439.7L1253.8 440.8L1253.4 442L1252.9 443.1L1252.5 444.3L1252 445.4L1251.6 446.6L1251.1 447.7L1250.7 448.8L1250.2 450L1249.8 451.1L1249.3 452.3L1248.9 453.4L1248.4 454.6L1248 455.7L1247.5 456.9L1247.1 458L1246.6 459.1L1246.2 460.3L1245.7 461.4L1245.3 462.6L1244.8 463.7L1244.4 464.9L1243.9 466.1L1243.5 467.2L1243 468.4L1242.6 469.5L1242.1 470.7L1241.7 471.8L1241.2 473L1240.8 474.2L1240.4 475.3L1239.9 476.5L1239.5 477.7L1239 478.9L1238.6 480L1238.1 481.2L1237.7 482.4L1237.2 483.6L1236.8 484.8L1236.3 486L1235.9 487.2L1235.4 488.4L1235 489.6L1234.5 490.8L1234.1 492L1233.6 493.2L1233.2 494.4L1232.7 495.7L1232.3 496.9L1231.8 498.1L1231.4 499.4L1230.9 500.6L1230.5 501.8L1230 503.1L1229.6 504.3L1229.1 505.6L1228.7 506.8L1228.3 508.1L1227.8 509.3L1227.4 510.6L1226.9 511.8L1226.5 513.1L1226 514.4L1225.6 515.6L1225.1 516.9L1224.7 518.2L1224.2 519.4L1223.8 520.7L1223.3 521.9L1222.9 523.2L1222.4 524.5L1222 525.7L1221.5 527L1221.1 528.3L1220.6 529.5L1220.2 530.8L1219.7 532.1L1219.3 533.3L1218.8 534.6L1218.4 535.9L1217.9 537.1L1217.5 538.4L1217 539.6L1216.6 540.9L1216.1 542.1L1215.7 543.4L1215.3 544.6L1214.8 545.9L1214.4 547.1L1213.9 548.4L1213.5 549.6L1213 550.9L1212.6 552.1L1212.1 553.4L1211.7 554.6L1211.2 555.9L1210.8 557.1L1210.3 558.4L1209.9 559.6L1209.4 560.9L1209 562.1L1208.5 563.4L1208.1 564.6L1207.6 565.8L1207.2 567.1L1206.7 568.3L1206.3 569.6L1205.8 570.8L1205.4 572.1L1204.9 573.3L1204.5 574.5L1204 575.8L1203.6 577L1203.2 578.3L1202.7 579.5L1202.3 580.7L1201.8 582L1201.4 583.2L1200.9 584.4L1200.5 585.6L1200 586.9L1199.6 588.1L1199.1 589.3L1198.7 590.5L1198.2 591.7L1197.8 592.9L1197.3 594.1L1196.9 595.3L1196.4 596.6L1196 597.8L1195.5 599L1195.1 600.2L1194.6 601.4L1194.2 602.6L1193.7 603.8L1193.3 605L1192.8 606.2L1192.4 607.4L1191.9 608.6L1191.5 609.8L1191 610.9L1190.6 612.1L1190.2 613.3L1189.7 614.5L1189.3 615.7L1188.8 616.9L1188.4 618.1L1187.9 619.3L1187.5 620.4L1187 621.6L1186.6 622.8L1186.1 624L1185.7 625.2L1185.2 626.3L1184.8 627.5L1184.3 628.7L1183.9 629.8L1183.4 631L1183 632.2L1182.5 633.4L1182.1 634.5L1181.6 635.7L1181.2 636.8L1180.7 638L1180.3 639.2L1179.8 640.3L1179.4 641.5L1178.9 642.6L1178.5 643.8Z" fill="#21918c" fill-opacity="0.2" stroke="none"/>
<path d="M1290 621.8L1291 619.3L1292 616.7L1293 614.2L1294.1 611.6L1295.1 609.1L1296.1 606.5L1297.1 603.9L1298.1 601.4L1299.1 598.8L1300.1 596.2L1301.2 593.6L1302.2 591.1L1303.2 588.5L1304.2 585.9L1305.2 583.3L1306.2 580.7L1307.2 578.1L1308.3 575.4L1309.3 572.8L1310.3 570.2L1311.3 567.6L1312.3 564.9L1313.3 562.3L1314.3 559.7L1315.4 557L1316.4 554.4L1317.4 551.7L1318.4 549.1L1319.4 546.4L1320.4 543.8L1321.4 541.1L1322.5 538.4L1323.5 535.8L1324.5 533.1L1325.5 530.4L1326.5 527.7L1327.5 525.1L1328.5 522.4L1329.5 519.7L1330.6 517L1331.6 514.3L1332.6 511.6L1333.6 508.9L1334.6 506.2L1335.6 503.5L1336.6 500.8L1337.7 498.1L1338.7 495.4L1339.7 492.6L1340.7 489.9L1341.7 487.2L1342.7 484.5L1343.7 481.8L1344.8 479L1345.8 476.3L1346.8 473.6L1347.8 470.8L1348.8 468.1L1349.8 465.3L1350.8 462.5L1351.9 459.7L1352.9 456.9L1353.9 454.1L1354.9 451.2L1355.9 448.4L1356.9 445.5L1357.9 442.6L1359 439.8L1360 436.9L1361 434.1L1362 431.3L1363 428.5L1364 425.7L1365 423L1366.1 420.3L1367.1 417.6L1368.1 414.9L1369.1 412.3L1370.1 409.7L1371.1 407.1L1372.1 404.5L1373.2 401.9L1374.2 399.4L1375.2 396.8L1376.2 394.3L1377.2 391.8L1378.2 389.3L1379.2 386.8L1380.3 384.3L1381.3 381.8L1382.3 379.4L1383.3 376.9L1384.3 374.4L1385.3 372L1386.3 369.5L1387.4 367.1L1388.4 364.6L1389.4 362.2L1390.4 359.8L1391.4 357.4L1392.4 355L1393.4 352.6L1394.4 350.2L1395.5 347.9L1396.5 345.5L1397.5 343.2L1398.5 340.9L1399.5 338.5L1400.5 336.2L1401.5 333.8L1402.6 331.5L1403.6 329.1L1404.6 326.7L1405.6 324.3L1406.6 321.9L1407.6 319.5L1408.6 317.1L1409.7 314.6L1410.7 312.2L1411.7 309.7L1412.7 307.3L1413.7 304.8L1414.7 302.3L1415.7 299.8L1416.8 297.4L1417.8 295L1418.8 292.6L1419.8 290.3L1420.8 288L1421.8 285.8L1422.8 283.5L1423.9 281.3L1424.9 279.1L1425.9 276.9L1426.9 274.8L1427.9 272.8L1428.9 270.8L1429.9 269L1431 267.2L1432 265.5L1433 263.8L1434 262.1L1435 260.5L1436 259L1437 257.5L1438.1 256.1L1439.1 254.8L1440.1 253.6L1441.1 252.4L1442.1 251.3L1443.1 250.2L1444.1 249.2L1445.2 248.3L1446.2 247.3L1447.2 246.5L1448.2 245.6L1449.2 244.8L1450.2 244.1L1451.2 243.3L1452.3 242.6L1453.3 241.9L1454.3 241.2L1455.3 240.6L1456.3 240L1457.3 239.4L1458.3 238.8L1459.3 238.3L1460.4 237.8L1461.4 237.4L1462.4 237L1463.4 236.6L1464.4 236.2L1465.4 235.9L1466.4 235.6L1467.5 235.3L1468.5 235L1469.5 234.7L1470.5 234.4L1471.5 234.1L1472.5 233.8L1473.5 233.5L1474.6 233.1L1475.6 232.8L1476.6 232.4L1477.6 232.1L1478.6 231.7L1479.6 231.3L1480.6 231L1481.7 230.6L1482.7 230.1L1483.7 229.7L1484.7 229.2L1485.7 228.6L1486.7 228L1487.7 227.3L1488.8 226.6L1489.8 225.9L1490.8 225.1L1491.8 224.3L1491.8 233.3L1490.8 234.1L1489.8 234.9L1488.8 235.7L1487.7 236.4L1486.7 237.1L1485.7 237.8L1484.7 238.3L1483.7 238.9L1482.7 239.3L1481.7 239.8L1480.6 240.2L1479.6 240.6L1478.6 241L1477.6 241.4L1476.6 241.8L1475.6 242.2L1474.6 242.5L1473.5 242.9L1472.5 243.3L1471.5 243.6L1470.5 243.9L1469.5 244.3L1468.5 244.6L1467.5 244.9L1466.4 245.2L1465.4 245.5L1464.4 245.9L1463.4 246.3L1462.4 246.7L1461.4 247.1L1460.4 247.6L1459.3 248.1L1458.3 248.6L1457.3 249.2L1456.3 249.8L1455.3 250.5L1454.3 251.1L1453.3 251.8L1452.3 252.6L1451.2 253.3L1450.2 254.1L1449.2 255L1448.2 256L1447.2 257L1446.2 258.1L1445.2 259.2L1444.1 260.4L1443.1 261.6L1442.1 262.9L1441.1 264.2L1440.1 265.5L1439.1 267L1438.1 268.5L1437 270.1L1436 271.8L1435 273.5L1434 275.3L1433 277.2L1432 279.1L1431 281L1429.9 283L1428.9 285L1427.9 287.2L1426.9 289.4L1425.9 291.7L1424.9 294.1L1423.9 296.5L1422.8 298.9L1421.8 301.4L1420.8 303.9L1419.8 306.3L1418.8 308.8L1417.8 311.4L1416.8 314L1415.7 316.7L1414.7 319.3L1413.7 322L1412.7 324.7L1411.7 327.4L1410.7 330L1409.7 332.6L1408.6 335.1L1407.6 337.6L1406.6 340L1405.6 342.4L1404.6 344.8L1403.6 347.2L1402.6 349.6L1401.5 352L1400.5 354.3L1399.5 356.7L1398.5 359.1L1397.5 361.4L1396.5 363.8L1395.5 366.1L1394.4 368.5L1393.4 370.9L1392.4 373.3L1391.4 375.7L1390.4 378.1L1389.4 380.5L1388.4 383L1387.4 385.4L1386.3 387.9L1385.3 390.4L1384.3 392.9L1383.3 395.3L1382.3 397.8L1381.3 400.3L1380.3 402.8L1379.2 405.3L1378.2 407.8L1377.2 410.3L1376.2 412.9L1375.2 415.4L1374.2 418L1373.2 420.6L1372.1 423.1L1371.1 425.7L1370.1 428.4L1369.1 431L1368.1 433.6L1367.1 436.3L1366.1 439L1365 441.7L1364 444.5L1363 447.3L1362 450.1L1361 452.9L1360 455.8L1359 458.6L1357.9 461.5L1356.9 464.4L1355.9 467.3L1354.9 470.1L1353.9 473L1352.9 475.8L1351.9 478.7L1350.8 481.5L1349.8 484.3L1348.8 487.1L1347.8 489.9L1346.8 492.6L1345.8 495.4L1344.8 498.1L1343.7 500.9L1342.7 503.6L1341.7 506.3L1340.7 509.1L1339.7 511.8L1338.7 514.6L1337.7 517.3L1336.6 520L1335.6 522.7L1334.6 525.5L1333.6 528.2L1332.6 530.9L1331.6 533.6L1330.6 536.3L1329.5 539L1328.5 541.7L1327.5 544.4L1326.5 547.1L1325.5 549.8L1324.5 552.5L1323.5 555.2L1322.5 557.9L1321.4 560.6L1320.4 563.3L1319.4 565.9L1318.4 568.6L1317.4 571.3L1316.4 573.9L1315.4 576.6L1314.3 579.3L1313.3 581.9L1312.3 584.6L1311.3 587.2L1310.3 589.9L1309.3 592.5L1308.3 595.1L1307.2 597.8L1306.2 600.4L1305.2 603L1304.2 605.6L1303.2 608.2L1302.2 610.9L1301.2 613.5L1300.1 616.1L1299.1 618.7L1298.1 621.2L1297.1 623.8L1296.1 626.4L1295.1 629L1294.1 631.6L1293 634.1L1292 636.7L1291 639.2L1290 641.8Z" fill="#5ec962" fill-opacity="0.2" stroke="none"/>
</g>
<path d="M934.7 631.8v-8.2M934.7 20.0v8.2M962 631.8v-8.2M962 20.0v8.2M981.3 631.8v-8.2M981.3 20.0v8.2M996.3 631.8v-8.2M996.3 20.0v8.2M1008.5 631.8v-8.2M1008.5 20.0v8.2M1018.9 631.8v-8.2M1018.9 20.0v8.2M1027.8 631.8v-8.2M1027.8 20.0v8.2M1035.7 631.8v-8.2M1035.7 20.0v8.2M1089.3 631.8v-8.2M1089.3 20.0v8.2M1116.6 631.8v-8.2M1116.6 20.0v8.2M1135.9 631.8v-8.2M1135.9 20.0v8.2M1150.9 631.8v-8.2M1150.9 20.0v8.2M1163.1 631.8v-8.2M1163.1 20.0v8.2M1173.5 631.8v-8.2M1173.5 20.0v8.2M1182.4 631.8v-8.2M1182.4 20.0v8.2M1190.3 631.8v-8.2M1190.3 20.0v8.2M1243.9 631.8v-8.2M1243.9 20.0v8.2M1271.2 631.8v-8.2M1271.2 20.0v8.2M1290.5 631.8v-8.2M1290.5 20.0v8.2M1305.5 631.8v-8.2M1305.5 20.0v8.2M1317.7 631.8v-8.2M1317.7 20.0v8.2M1328.1 631.8v-8.2M1328.1 20.0v8.2M1337 631.8v-8.2M1337 20.0v8.2M1344.9 631.8v-8.2M1344.9 20.0v8.2M1398.5 631.8v-8.2M1398.5 20.0v8.2M1425.8 631.8v-8.2M1425.8 20.0v8.2M1445.1 631.8v-8.2M1445.1 20.0v8.2M1460.1 631.8v-8.2M1460.1 20.0v8.2M1472.3 631.8v-8.2M1472.3 20.0v8.2M1482.7 631.8v-8.2M1482.7 20.0v8.2M1491.6 631.8v-8.2M1491.6 20.0v8.2M1499.5 631.8v-8.2M1499.5 20.0v8.2M907.2 570.4h8.2M1520.0 570.4h-8.2M907.2 534.5h8.2M1520.0 534.5h-8.2M907.2 509h8.2M1520.0 509h-8.2M907.2 489.3h8.2M1520.0 489.3h-8.2M907.2 473.1h8.2M1520.0 473.1h-8.2M907.2 459.5h8.2M1520.0 459.5h-8.2M907.2 447.6h8.2M1520.0 447.6h-8.2M907.2 437.2h8.2M1520.0 437.2h-8.2M907.2 366.5h8.2M1520.0 366.5h-8.2M907.2 330.6h8.2M1520.0 330.6h-8.2M907.2 305.1h8.2M1520.0 305.1h-8.2M907.2 285.3h8.2M1520.0 285.3h-8.2M907.2 269.2h8.2M1520.0 269.2h-8.2M907.2 255.5h8.2M1520.0 255.5h-8.2M907.2 243.7h8.2M1520.0 243.7h-8.2M907.2 233.3h8.2M1520.0 233.3h-8.2M907.2 162.5h8.2M1520.0 162.5h-8.2M907.2 126.6h8.2M1520.0 126.6h-8.2M907.2 101.2h8.2M1520.0 101.2h-8.2M907.2 81.4h8.2M1520.0 81.4h-8.2M907.2 65.2h8.2M1520.0 65.2h-8.2M907.2 51.6h8.2M1520.0 51.6h-8.2M907.2 39.8h8.2M1520.0 39.8h-8.2M907.2 29.3h8.2M1520.0 29.3h-8.2" stroke="#000" stroke-width="2.3" fill="none"/>
<path d="M1042.8 631.8v-19.2M1042.8 20.0v19.2M1197.4 631.8v-19.2M1197.4 20.0v19.2M1352 631.8v-19.2M1352 20.0v19.2M1506.6 631.8v-19.2M1506.6 20.0v19.2M907.2 631.8h19.2M1520.0 631.8h-19.2M907.2 427.9h19.2M1520.0 427.9h-19.2M907.2 223.9h19.2M1520.0 223.9h-19.2M907.2 20h19.2M1520.0 20h-19.2" stroke="#000" stroke-width="3.9" fill="none"/>
<g clip-path="url(#cr)" fill="none" stroke-linejoin="round">
<path d="M880 668L934.8 593.2L981.4 575.4L1008.5 536.6L1027.9 518.8L1042.7 504.2L1055 488.3L1055.4 487.8L1055.8 487.5L1056.2 487.1L1056.6 486.6L1057 486L1057.4 485.4L1057.8 484.8L1058.2 484.3L1058.6 483.8L1059 483.3L1059.4 482.8L1059.8 482.4L1060.2 481.8L1060.6 481.3L1061 480.8L1061.4 480.3L1061.8 479.8L1062.2 479.2L1062.6 478.2L1063 477.3L1063.4 476.5L1063.8 475.8L1064.2 475.1L1064.6 474.5L1065 473.9L1065.4 473.2L1065.8 472.3L1066.2 471.3L1066.6 470.7L1067 470.5L1067.4 470.3L1067.8 470.2L1068.2 470L1068.6 469.8L1069 469.6L1069.4 469.5L1069.8 469.4L1070.2 469.5L1070.6 469.4L1071 469.3L1071.4 469.2L1071.8 469.1L1072.2 469L1072.6 469L1073 468.9L1073.4 468.8L1073.8 468.6L1074.2 468.4L1074.6 468.3L1075 468.3L1075.4 468.3L1075.8 468.2L1076.2 468L1076.6 467.7L1077 467.3L1077.4 467L1077.8 466.9L1078.2 466.9L1078.6 467L1079 467.1L1079.4 467L1079.8 466.9L1080.2 466.7L1080.6 466.5L1081 466.3L1081.4 465.7L1081.8 465L1082.2 464.3L1082.6 463.6L1083 462.9L1083.4 462.3L1083.8 461.6L1084.2 461L1084.6 460.3L1085 459.6L1085.4 458.9L1085.8 458.1L1086.2 457.2L1086.6 456.5L1087 455.9L1087.4 455.4L1087.8 454.7L1088.2 454L1088.6 453.3L1089 452.4L1089.4 451.6L1089.8 451.2L1090.2 451L1090.6 450.8L1091 450.6L1091.4 450.4L1091.8 450.2L1092.2 450.1L1092.6 450.2L1093 450.3L1093.4 450.4L1093.8 450.4L1094.2 450.3L1094.6 450L1095 449.6L1095.4 449.1L1095.8 448.6L1096.2 448.1L1096.6 447.8L1097 447.8L1097.4 448L1097.8 448.2L1098.2 448.3L1098.6 448.2L1099 447.9L1099.4 447.6L1099.8 447.4L1100.2 447.2L1100.6 447.1L1101 447.2L1101.4 447.1L1101.8 446.9L1102.2 446.5L1102.6 446.2L1103 446.1L1103.4 446.2L1103.8 446.3L1104.2 446.1L1104.6 445.7L1105 445.2L1105.4 444.7L1105.8 444.4L1106.2 444.3L1106.6 444.7L1107 444.8L1107.4 444.8L1107.8 444.7L1108.2 444.7L1108.6 444.9L1109 445.3L1109.4 446L1109.8 446.8L1110.2 447.6L1110.6 448.1L1111 448.5L1111.4 448.8L1111.8 449.1L1112.2 449.4L1112.6 449.4L1113 448.5L1113.4 447.6L1113.8 446.7L1114.2 445.9L1114.6 445.1L1115 444.3L1115.4 443.5L1115.8 442.9L1116.2 442.3L1116.6 441.6L1117 441.3L1117.4 441L1117.8 440.8L1118.2 440.8L1118.6 441L1119 441.3L1119.4 441.4L1119.8 441.3L1120.2 441.1L1120.6 441L1121 441L1121.4 441L1121.8 440.9L1122.2 440.8L1122.6 440.6L1123 440.4L1123.4 439.3L1123.8 438.1L1124.2 436.8L1124.6 435.5L1125 434.5L1125.4 433.9L1125.8 433.5L1126.2 433.2L1126.6 432.6L1127 431.5L1127.4 430.1L1127.8 428.8L1128.2 427.9L1128.6 427.2L1129 426.6L1129.4 425.6L1129.8 424.2L1130.2 422.7L1130.6 421.2L1131 420.3L1131.4 419.7L1131.8 419.7L1132.2 419.5L1132.6 419.1L1133 418.5L1133.4 417.9L1133.8 417.3L1134.2 416.7L1134.6 416.1L1135 415.5L1135.4 414.9L1135.8 414L1136.2 413L1136.6 412L1137 411.2L1137.4 410.7L1137.8 410.6L1138.2 410.7L1138.6 410.7L1139 410.6L1139.4 410.2L1139.8 409.5L1140.2 408.6L1140.6 407.7L1141 406.9L1141.4 406.2L1141.8 405.6L1142.2 405L1142.6 404.3L1143 403.7L1143.4 403.1L1143.8 402.7L1144.2 402.3L1144.6 401.8L1145 401.2L1145.4 400.5L1145.8 399.9L1146.2 399.4L1146.6 399L1147 398.5L1147.4 398.1L1147.8 397.7L1148.2 397.3L1148.6 397L1149 396.7L1149.4 396.4L1149.8 396.1L1150.2 395.9L1150.6 395.7L1151 395.5L1151.4 395.2L1151.8 394.9L1152.2 394.3L1152.6 393.6L1153 392.9L1153.4 392.1L1153.8 391.6L1154.2 391.3L1154.6 391.1L1155 390.8L1155.4 390.2L1155.8 389.5L1156.2 388.8L1156.6 388.4L1157 388.6L1157.4 389L1157.8 389.3L1158.2 389.3L1158.6 388.9L1159 388.6L1159.4 388.4L1159.8 388.4L1160.2 388.3L1160.6 388L1161 387.8L1161.4 387.8L1161.8 387.9L1162.2 388L1162.6 387.8L1163 387.5L1163.4 387.2L1163.8 387L1164.2 387.1L1164.6 387.2L1165 387.4L1165.4 387.2L1165.8 386.9L1166.2 386.4L1166.6 385.7L1167 385.2L1167.4 384.8L1167.8 384.5L1168.2 384.1L1168.6 383.8L1169 383.3L1169.4 382.7L1169.8 382.2L1170.2 381.7L1170.6 381.4L1171 381.3L1171.4 381.1L1171.8 380.7L1172.2 380.3L1172.6 379.7L1173 379.1L1173.4 378.4L1173.8 377.6L1174.2 376.9L1174.6 376.4L1175 376.2L1175.4 375.9L1175.8 375.4L1176.2 375L1176.6 374.7L1177 374.5L1177.4 374L1177.8 373.3L1178.2 372.5L1178.6 371.7L1179 370.9L1179.4 370.2L1179.8 369.6L1180.2 369.1L1180.6 368.8L1181 368.5L1181.4 368.1L1181.8 367.5L1182.2 366.6L1182.6 365.5L1183 364.7L1183.4 364.1L1183.8 363.7L1184.2 363.8L1184.6 363.8L1185 364L1185.4 364.2L1185.8 364.3L1186.2 364.2L1186.6 364L1187 363.9L1187.4 363.9L1187.8 364.2L1188.2 364.6L1188.6 365.1L1189 365.7L1189.4 366.3L1189.8 366.9L1190.2 367L1190.6 366.4L1191 365.7L1191.4 365.4L1191.8 366L1192.2 366.9L1192.6 367.2L1193 367.2L1193.4 366.7L1193.8 366.2L1194.2 365.6L1194.6 364.8L1195 363.9L1195.4 362.8L1195.8 361.7L1196.2 360.8L1196.6 360.2L1197 359.5L1197.4 358.7L1197.8 357.9L1198.2 357.5L1198.6 357.4L1199 357.5L1199.4 357.6L1199.8 357.3L1200.2 356.7L1200.6 355.9L1201 355.4L1201.4 355L1201.8 354.6L1202.2 354.2L1202.6 353.9L1203 353.6L1203.4 353L1203.8 352.2L1204.2 351.4L1204.6 350.9L1205 351L1205.4 351.2L1205.8 351.3L1206.2 351.2L1206.6 351.1L1207 351.1L1207.4 351.1L1207.8 350.6L1208.2 349.8L1208.6 348.9L1209 348.3L1209.4 347.9L1209.8 347.7L1210.2 347.4L1210.6 347.2L1211 347.3L1211.4 347.4L1211.8 347.2L1212.2 346.8L1212.6 346.5L1213 346.9L1213.4 347.7L1213.8 348.3L1214.2 348L1214.6 346.9L1215 345.7L1215.4 344.4L1215.8 343.9L1216.2 343.9L1216.6 344.1L1217 344L1217.4 343.6L1217.8 343L1218.2 342.3L1218.6 341.4L1219 340.8L1219.4 340.6L1219.8 340.6L1220.2 340.6L1220.6 340.1L1221 339.3L1221.4 338.7L1221.8 338.2L1222.2 337.8L1222.6 337.2L1223 336.4L1223.4 335.5L1223.8 334.5L1224.2 333.6L1224.6 333L1225 333L1225.4 333.2L1225.8 333.2L1226.2 332.6L1226.6 331.4L1227 330L1227.4 328.7L1227.8 327.9L1228.2 327.4L1228.6 326.8L1229 326.2L1229.4 325.6L1229.8 325.2L1230.2 325.2L1230.6 325.2L1231 324.9L1231.4 324.4L1231.8 323.3L1232.2 322.3L1232.6 321.9L1233 322.4L1233.4 323.1L1233.8 323.2L1234.2 322.4L1234.6 320.7L1235 319L1235.4 317.8L1235.8 317.5L1236.2 317.8L1236.6 318.6L1237 319.6L1237.4 320.7L1237.8 321.5L1238.2 321.6L1238.6 321L1239 320.1L1239.4 319.3L1239.8 318.8L1240.2 318.8L1240.6 318.9L1241 319.1L1241.4 319.5L1241.8 320.3L1242.2 321.1L1242.6 321.4L1243 321L1243.4 320.1L1243.8 318.8L1244.2 317.3L1244.6 315.7L1245 314.4L1245.4 313.4L1245.8 312.9L1246.2 312.8L1246.6 312.8L1247 312.9L1247.4 312.9L1247.8 312.7L1248.2 312.5L1248.6 312.4L1249 312.8L1249.4 313.8L1249.8 314.9L1250.2 315.5L1250.6 315.2L1251 314.1L1251.4 312.6L1251.8 311.2L1252.2 310L1252.6 309L1253 307.8L1253.4 306.7L1253.8 305.9L1254.2 305.6L1254.6 305.5L1255 305.3L1255.4 304.5L1255.8 303.4L1256.2 302.2L1256.6 301.5L1257 301.3L1257.4 301.5L1257.8 301.5L1258.2 300.9L1258.6 300.1L1259 299.6L1259.4 300L1259.8 301.2L1260.2 302.8L1260.6 303.9L1261 304.1L1261.4 303.2L1261.8 301.8L1262.2 300.2L1262.6 298.7L1263 297.4L1263.4 297L1263.8 297.3L1264.2 298L1264.6 298.1L1265 297.6L1265.4 296.9L1265.8 296.2L1266.2 295.5L1266.6 294.8L1267 293.9L1267.4 292.9L1267.8 291.9L1268.2 291L1268.6 290.2L1269 289.5L1269.4 288.9L1269.8 287.8L1270.2 285.8L1270.6 283.5L1271 281.9L1271.4 281.8L1271.8 282.7L1272.2 283.6L1272.6 283.9L1273 283.9L1273.4 284.6L1273.8 285.8L1274.2 287.3L1274.6 288.4L1275 288.9L1275.4 288.3L1275.8 286.4L1276.2 283.9L1276.6 281.9L1277 281.1L1277.4 281.7L1277.8 282.9L1278.2 284L1278.6 284.6L1279 285.1L1279.4 285.1L1279.8 284.7L1280.2 283.7L1280.6 282.3L1281 280.9L1281.4 279.9L1281.8 279.5L1282.2 279.6L1282.6 279.9L1283 280.3L1283.4 280.7L1283.8 280.6L1284.2 280.3L1284.6 280L1285 279.9L1285.4 279.9L1285.8 279.7L1286.2 279.2L1286.6 278.2L1287 277.2L1287.4 276.6L1287.8 276.5L1288.2 276.6L1288.6 276.3L1289 275.8L1289.4 275.5L1289.8 275.4L1290.2 275.3L1290.6 275.2L1291 275.5L1291.4 275.9L1291.8 276.3L1292.2 276.7L1292.6 276.9L1293 276.9L1293.4 276.4L1293.8 275.5L1294.2 274.3L1294.6 272.9L1295 271.7L1295.4 270.8L1295.8 270.1L1296.2 269.3L1296.6 268.8L1297 268.9L1297.4 269.5L1297.8 270.3L1298.2 270.9L1298.6 270.7L1299 269.9L1299.4 268.9L1299.8 268.4L1300.2 268.2L1300.6 268.2L1301 268L1301.4 268L1301.8 268.3L1302.2 268.6L1302.6 268.6L1303 267.8L1303.4 266.4L1303.8 265L1304.2 264.4L1304.6 264.6L1305 265.3L1305.4 265.8L1305.8 266L1306.2 266.3L1306.6 266.7L1307 266.9L1307.4 266.3L1307.8 264.9L1308.2 263.4L1308.6 262.4L1309 262.5L1309.4 263.1L1309.8 263.6L1310.2 263.8L1310.6 263.7L1311 262.9L1311.4 261.2L1311.8 258.5L1312.2 255.8L1312.6 253.9L1313 253.3L1313.4 253.6L1313.8 254.2L1314.2 254.6L1314.6 254.8L1315 254.9L1315.4 254.9L1315.8 254.7L1316.2 254.1L1316.6 253.2L1317 252.5L1317.4 252.2L1317.8 251.8L1318.2 250.8L1318.6 249.1L1319 247.5L1319.4 247.2L1319.8 247.6L1320.2 248.4L1320.6 249.3L1321 249.8L1321.4 249.6L1321.8 249.5L1322.2 250.1L1322.6 251.5L1323 252.9L1323.4 253.7L1323.8 253.7L1324.2 253.5L1324.6 253.8L1325 255L1325.4 256.7L1325.8 257.7L1326.2 258L1326.6 257.2L1327 255.6L1327.4 253.7L1327.8 251.6L1328.2 250.2L1328.6 249.8L1329 250.2L1329.4 250.9L1329.8 251.4L1330.2 251.6L1330.6 251.3L1331 250.5L1331.4 249.7L1331.8 249.5L1332.2 249.7L1332.6 249.8L1333 249L1333.4 247.5L1333.8 246.2L1334.2 245.8L1334.6 246.1L1335 246.4L1335.4 246.3L1335.8 245.6L1336.2 244.4L1336.6 243L1337 241.9L1337.4 241.5L1337.8 241.5L1338.2 241.7L1338.6 241.8L1339 241.7L1339.4 241.4L1339.8 240.6L1340.2 239.2L1340.6 237.5L1341 236L1341.4 235.1L1341.8 235L1342.2 235.4L1342.6 235.7L1343 235.9L1343.4 236.2L1343.8 236.5L1344.2 236.5L1344.6 235.9L1345 234.7L1345.4 233.4L1345.8 232.9L1346.2 233.3L1346.6 234.2L1347 235L1347.4 235.2L1347.8 234.8L1348.2 233.9L1348.6 233.1L1349 232.7L1349.4 232.8L1349.8 233L1350.2 232.7L1350.6 231.6L1351 229.9L1351.4 227.9L1351.8 226.3L1352.2 225.4L1352.6 225.2L1353 225.6L1353.4 226L1353.8 225.9L1354.2 225.5L1354.6 225.5L1355 225.7L1355.4 225.9L1355.8 225.6L1356.2 224.9L1356.6 224L1357 223.1L1357.4 222L1357.8 221L1358.2 220.5L1358.6 220.9L1359 221.7L1359.4 222.2L1359.8 222.3L1360.2 222.3L1360.6 222.3L1361 222.2L1361.4 221.6L1361.8 220.5L1362.2 218.8L1362.6 216.6L1363 214.2L1363.4 212.4L1363.8 211.5L1364.2 212L1364.6 213.5L1365 215.1L1365.4 216.1L1365.8 216.1L1366.2 215.6L1366.6 215.1L1367 214.8L1367.4 214.4L1367.8 213.9L1368.2 213.2L1368.6 212.8L1369 213L1369.4 213.7L1369.8 214.3L1370.2 214.5L1370.6 214L1371 212.8L1371.4 211.7L1371.8 211.3L1372.2 211.6L1372.6 212.4L1373 213L1373.4 213.1L1373.8 212.6L1374.2 212L1374.6 211.7L1375 211.4L1375.4 210.5L1375.8 209L1376.2 207.6L1376.6 207L1377 207.1L1377.4 207.3L1377.8 207.4L1378.2 207L1378.6 206.5L1379 205.6L1379.4 204.3L1379.8 202.5L1380.2 200.9L1380.6 200.1L1381 200.1L1381.4 200.1L1381.8 199.4L1382.2 197.9L1382.6 196.2L1383 195.1L1383.4 195.1L1383.8 195.9L1384.2 196.7L1384.6 196.6L1385 196.1L1385.4 195.7L1385.8 195.3L1386.2 194.9L1386.6 194.8L1387 194.9L1387.4 195L1387.8 194.9L1388.2 194.5L1388.6 194L1389 193.6L1389.4 193.4L1389.8 193.5L1390.2 193.7L1390.6 194.2L1391 195L1391.4 195.6L1391.8 195.6L1392.2 194.9L1392.6 194.1L1393 193.5L1393.4 193.2L1393.8 193.4L1394.2 193.6L1394.6 193.7L1395 193.4L1395.4 193.1L1395.8 193.2L1396.2 193.5L1396.6 194.1L1397 194.8L1397.4 195.5L1397.8 196.3L1398.2 196.8L1398.6 197.1L1399 197.1L1399.4 196.8L1399.8 196.3L1400.2 195.6L1400.6 194.6L1401 193.8L1401.4 193.5L1401.8 193.8L1402.2 194.5L1402.6 195.6L1403 197.2L1403.4 199L1403.8 200.3L1404.2 200.5L1404.6 199.6L1405 197.6L1405.4 195.6L1405.8 194.1L1406.2 193.2L1406.6 192.7L1407 192.3L1407.4 192.1L1407.8 192.3L1408.2 192.6L1408.6 192.8L1409 192.8L1409.4 192.7L1409.8 192.3L1410.2 191.4L1410.6 190.5L1411 190.3L1411.4 190.5L1411.8 190.3L1412.2 189.4L1412.6 188.1L1413 187.3L1413.4 187.2L1413.8 187.5L1414.2 188L1414.6 188.6L1415 188.9L1415.4 188.8L1415.8 188.3L1416.2 187.7L1416.6 187.1L1417 186.5L1417.4 186.1L1417.8 186.1L1418.2 186.3L1418.6 186.2L1419 185.3L1419.4 183.7L1419.8 182.1L1420.2 181.3L1420.6 181.5L1421 182.2L1421.4 182.4L1421.8 181.8L1422.2 180.9L1422.6 180.4L1423 180.6L1423.4 181.1L1423.8 181.1L1424.2 180.3L1424.6 179L1425 177.4L1425.4 175.6L1425.8 173.8L1426.2 172.5L1426.6 172.3L1427 173.5L1427.4 175.4L1427.8 177.1L1428.2 178.1L1428.6 178.5L1429 178.5L1429.4 178.3L1429.8 177.8L1430.2 176.9L1430.6 175.7L1431 174.5L1431.4 173.7L1431.8 173.5L1432.2 173.3L1432.6 172.9L1433 173.1L1433.4 174.6L1433.8 176.9L1434.2 178.5L1434.6 178.4L1435 176.7L1435.4 174.6L1435.8 173.3L1436.2 172.9L1436.6 173.1L1437 173.4L1437.4 173.4L1437.8 173.4L1438.2 173.6L1438.6 174.1L1439 174.5L1439.4 174.2L1439.8 173.5L1440.2 173.2L1440.6 173.7L1441 174.8L1441.4 175.6L1441.8 175.8L1442.2 175.5L1442.6 175.6L1443 176L1443.4 176.1L1443.8 175.1L1444.2 173.2L1444.6 171.1L1445 169.9L1445.4 169.7L1445.8 169.9L1446.2 170.5L1446.6 171.3L1447 172.1L1447.4 172.4L1447.8 172.1L1448.2 171.3L1448.6 170.4L1449 169.6L1449.4 168.9L1449.8 168.2L1450.2 167.3L1450.6 166.4L1451 165.9L1451.4 165.9L1451.8 166.2L1452.2 166.6L1452.6 166.5L1453 166.1L1453.4 165.7L1453.8 165.2L1454.2 164.5L1454.6 163.6L1455 162.8L1455.4 162L1455.8 161.5L1456.2 161.2L1456.6 161.3L1457 161.6L1457.4 161.6L1457.8 160.8L1458.2 159L1458.6 156.8L1459 155.7L1459.4 156.4L1459.8 158.5L1460.2 160.9L1460.6 162.3L1461 162.8L1461.4 162.8L1461.8 162.2L1462.2 161L1462.6 159.2L1463 157L1463.4 154.6L1463.8 152.9L1464.2 152.4L1464.6 152.8L1465 153.4L1465.4 153.9L1465.8 154.1L1466.2 154L1466.6 153.6L1467 152.7L1467.4 151.4L1467.8 150.1L1468.2 149L1468.6 148.2L1469 148.1L1469.4 148.7L1469.8 149.5L1470.2 149.4L1470.6 147.9L1471 145.6L1471.4 143.7L1471.8 143.4L1472.2 145L1472.6 147.6L1473 149.3L1473.4 149.5L1473.8 148.2L1474.2 146.1L1474.6 144L1475 142.7L1475.4 142.7L1475.8 143.4L1476.2 143.7L1476.6 143.3L1477 141.8L1477.4 140.1L1477.8 138.7L1478.2 137.9L1478.6 138.2L1479 139.6L1479.4 141.6L1479.8 143.6L1480.2 144.7L1480.6 144.7L1481 143.9L1481.4 143.2L1481.8 143.2L1482.2 143.8L1482.6 143.8L1483 143.5L1483.4 142.8L1483.8 141.7L1484.2 140.5L1484.6 139.8L1485 139.3L1485.4 138.5L1485.8 137L1486.2 134.9L1486.6 132.9L1487 133.1L1487.4 133.7L1487.8 134.6L1488.2 135.5L1488.6 135.8L1489 135.2L1489.4 134.2L1489.8 133.5L1490.2 134.2L1490.6 136.1L1491 138.3L1491.4 140.5" stroke="#440154" stroke-width="5.8"/>
<path d="M1089.4 631.8L1089.8 630.7L1090.3 629.6L1090.7 628.5L1091.2 627.4L1091.6 626.2L1092.1 625.1L1092.5 624L1093 622.9L1093.4 621.8L1093.9 620.7L1094.3 619.6L1094.8 618.5L1095.2 617.4L1095.7 616.3L1096.1 615.2L1096.6 614.1L1097 613L1097.5 611.9L1097.9 610.8L1098.3 609.7L1098.8 608.6L1099.2 607.5L1099.7 606.4L1100.1 605.3L1100.6 604.2L1101 603.1L1101.5 602L1101.9 600.9L1102.4 599.8L1102.8 598.7L1103.3 597.6L1103.7 596.5L1104.2 595.4L1104.6 594.3L1105.1 593.2L1105.5 592.1L1106 591L1106.4 589.9L1106.8 588.9L1107.3 587.8L1107.7 586.7L1108.2 585.6L1108.6 584.5L1109.1 583.4L1109.5 582.4L1110 581.3L1110.4 580.2L1110.9 579.2L1111.3 578.1L1111.8 577L1112.2 576L1112.7 574.9L1113.1 573.9L1113.6 572.8L1114 571.8L1114.5 570.7L1114.9 569.6L1115.3 568.6L1115.8 567.5L1116.2 566.5L1116.7 565.4L1117.1 564.4L1117.6 563.3L1118 562.2L1118.5 561.2L1118.9 560.1L1119.4 559L1119.8 558L1120.3 556.9L1120.7 555.8L1121.2 554.8L1121.6 553.7L1122.1 552.6L1122.5 551.5L1123 550.4L1123.4 549.3L1123.8 548.2L1124.3 547.1L1124.7 546L1125.2 544.9L1125.6 543.8L1126.1 542.7L1126.5 541.6L1127 540.4L1127.4 539.3L1127.9 538.1L1128.3 537L1128.8 535.8L1129.2 534.7L1129.7 533.5L1130.1 532.3L1130.6 531.1L1131 530L1131.5 528.8L1131.9 527.6L1132.3 526.4L1132.8 525.2L1133.2 524L1133.7 522.8L1134.1 521.6L1134.6 520.4L1135 519.2L1135.5 518L1135.9 516.8L1136.4 515.6L1136.8 514.4L1137.3 513.2L1137.7 512L1138.2 510.8L1138.6 509.6L1139.1 508.4L1139.5 507.3L1140 506.1L1140.4 504.9L1140.8 503.7L1141.3 502.6L1141.7 501.4L1142.2 500.3L1142.6 499.1L1143.1 498L1143.5 496.8L1144 495.7L1144.4 494.5L1144.9 493.4L1145.3 492.3L1145.8 491.1L1146.2 490L1146.7 488.8L1147.1 487.7L1147.6 486.6L1148 485.5L1148.5 484.4L1148.9 483.3L1149.3 482.2L1149.8 481.1L1150.2 480L1150.7 478.9L1151.1 477.9L1151.6 476.8L1152 475.8L1152.5 474.8L1152.9 473.7L1153.4 472.7L1153.8 471.7L1154.3 470.7L1154.7 469.7L1155.2 468.7L1155.6 467.7L1156.1 466.8L1156.5 465.8L1157 464.8L1157.4 463.8L1157.9 462.9L1158.3 461.9L1158.7 461L1159.2 460L1159.6 459L1160.1 458.1L1160.5 457.1L1161 456.2L1161.4 455.3L1161.9 454.3L1162.3 453.4L1162.8 452.4L1163.2 451.5L1163.7 450.5L1164.1 449.6L1164.6 448.6L1165 447.7L1165.5 446.7L1165.9 445.8L1166.4 444.8L1166.8 443.8L1167.2 442.9L1167.7 441.9L1168.1 440.9L1168.6 439.9L1169 438.9L1169.5 438L1169.9 437L1170.4 436L1170.8 435L1171.3 434L1171.7 433L1172.2 432L1172.6 431L1173.1 430L1173.5 429L1174 428L1174.4 427L1174.9 426L1175.3 425L1175.7 424L1176.2 423.1L1176.6 422.1L1177.1 421.1L1177.5 420.2L1178 419.3L1178.4 418.3L1178.9 417.4L1179.3 416.5L1179.8 415.6L1180.2 414.7L1180.7 413.9L1181.1 413L1181.6 412.2L1182 411.3L1182.5 410.5L1182.9 409.7L1183.4 408.9L1183.8 408L1184.2 407.2L1184.7 406.4L1185.1 405.6L1185.6 404.8L1186 404L1186.5 403.2L1186.9 402.4L1187.4 401.6L1187.8 400.8L1188.3 400.1L1188.7 399.3L1189.2 398.5L1189.6 397.8L1190.1 397L1190.5 396.3L1191 395.6L1191.4 394.8L1191.9 394.1L1192.3 393.4L1192.7 392.7L1193.2 392L1193.6 391.3L1194.1 390.7L1194.5 390L1195 389.3L1195.4 388.7L1195.9 388.1L1196.3 387.4L1196.8 386.8L1197.2 386.2L1197.7 385.6L1198.1 385.1L1198.6 384.5L1199 383.9L1199.5 383.4L1199.9 382.8L1200.4 382.3L1200.8 381.8L1201.2 381.2L1201.7 380.7L1202.1 380.2L1202.6 379.7L1203 379.2L1203.5 378.7L1203.9 378.2L1204.4 377.7L1204.8 377.3L1205.3 376.8L1205.7 376.3L1206.2 375.9L1206.6 375.4L1207.1 375L1207.5 374.6L1208 374.1L1208.4 373.7L1208.9 373.3L1209.3 372.9L1209.7 372.5L1210.2 372.1L1210.6 371.7L1211.1 371.3L1211.5 370.9L1212 370.5L1212.4 370.1L1212.9 369.8L1213.3 369.4L1213.8 369.1L1214.2 368.8L1214.7 368.4L1215.1 368.1L1215.6 367.8L1216 367.5L1216.5 367.2L1216.9 366.9L1217.4 366.6L1217.8 366.3L1218.2 366L1218.7 365.8L1219.1 365.5L1219.6 365.2L1220 364.9L1220.5 364.7L1220.9 364.4L1221.4 364.1L1221.8 363.8L1222.3 363.6L1222.7 363.3L1223.2 363L1223.6 362.7L1224.1 362.5L1224.5 362.2L1225 361.9L1225.4 361.6L1225.9 361.3L1226.3 361L1226.7 360.7L1227.2 360.4L1227.6 360.1L1228.1 359.7L1228.5 359.4L1229 359.1L1229.4 358.7L1229.9 358.4L1230.3 358L1230.8 357.6L1231.2 357.2L1231.7 356.8L1232.1 356.5L1232.6 356.1L1233 355.6L1233.5 355.1L1233.9 354.7L1234.4 354.2L1234.8 353.7L1235.2 353.3L1235.7 352.8L1236.1 352.4L1236.6 351.8L1237 351.4L1237.5 351L1237.9 350.5L1238.4 349.9L1238.8 349.3L1239.3 348.8L1239.7 348.3L1240.2 347.6L1240.6 347L1241.1 346.4L1241.5 345.9L1242 345.4L1242.4 344.8L1242.9 344.2L1243.3 343.6L1243.7 343L1244.2 342.4L1244.6 341.7L1245.1 341.3L1245.5 340.9L1246 340.4L1246.4 339.6L1246.9 338.9L1247.3 338.4L1247.8 338.1L1248.2 337.3L1248.7 336.3L1249.1 335.6L1249.6 335L1250 334.2L1250.5 333.4L1250.9 332.9L1251.4 332.2L1251.8 331.9L1252.2 331.8L1252.7 331L1253.1 329.8L1253.6 328.9L1254 328.1L1254.5 327.4L1254.9 326.9L1255.4 326.5L1255.8 326L1256.3 325.7L1256.7 325L1257.2 324.4L1257.6 324.2L1258.1 323.4L1258.5 322.7L1259 322.3L1259.4 321.4L1259.9 320L1260.3 319.2L1260.7 318.2L1261.2 317.5L1261.6 317.6L1262.1 316.8L1262.5 315.3L1263 314.3L1263.4 313.4L1263.9 313.2L1264.3 312.4L1264.8 311.6L1265.2 311.2L1265.7 310.1L1266.1 309.2L1266.6 308.7L1267 307.9L1267.5 307.2L1267.9 306.5L1268.4 306L1268.8 305.3L1269.2 304.3L1269.7 303.4L1270.1 303.3L1270.6 302.7L1271 302L1271.5 300.7L1271.9 299.8L1272.4 299.5L1272.8 299.3L1273.3 298.5L1273.7 297.6L1274.2 296.5L1274.6 296.2L1275.1 296.2L1275.5 295.3L1276 294.4L1276.4 294.4L1276.9 294.4L1277.3 294.8L1277.7 294.5L1278.2 294.5L1278.6 293.7L1279.1 292.6L1279.5 291.6L1280 291.3L1280.4 290.7L1280.9 289.8L1281.3 289.9L1281.8 289.2L1282.2 288.2L1282.7 287.3L1283.1 288.3L1283.6 288.8L1284 288.3L1284.5 287.6L1284.9 287L1285.4 287L1285.8 287L1286.2 286.1L1286.7 285.9L1287.1 285.6L1287.6 284.8L1288 284.3L1288.5 283.9L1288.9 283.8L1289.4 284.3L1289.8 283.4L1290.3 283.4L1290.7 282.1L1291.2 280L1291.6 280.4L1292.1 281L1292.5 280.1L1293 278.6L1293.4 277.8L1293.9 276.5L1294.3 275.9L1294.8 276.1L1295.2 276.5L1295.6 276.7L1296.1 275.7L1296.5 274.3L1297 272L1297.4 270.8L1297.9 271.2L1298.3 271.3L1298.8 268.8L1299.2 267.3L1299.7 267.8L1300.1 267.6L1300.6 265.5L1301 264.4L1301.5 264.1L1301.9 265L1302.4 264.4L1302.8 263L1303.3 261.7L1303.7 260.7L1304.1 259.9L1304.6 258.6L1305 257.3L1305.5 256.7L1305.9 256.7L1306.4 256.4L1306.8 255.9L1307.3 254.4L1307.7 255L1308.2 255.5L1308.6 254.9L1309.1 252.8L1309.5 250.8L1310 250.9L1310.4 251.7L1310.9 250.7L1311.3 249.4L1311.8 248.8L1312.2 248.4L1312.6 247.4L1313.1 246.1L1313.5 246.6L1314 248L1314.4 247.9L1314.9 246.2L1315.3 245.5L1315.8 245.9L1316.2 244.5L1316.7 243.2L1317.1 243.7L1317.6 244.9L1318 245.1L1318.5 243.8L1318.9 243.5L1319.4 243.5L1319.8 244.1L1320.3 243.8L1320.7 242.9L1321.1 242L1321.6 241.9L1322 240.8L1322.5 239.6L1322.9 242L1323.4 242.8L1323.8 242.4L1324.3 242.2L1324.7 242.5L1325.2 242.2L1325.6 241.4L1326.1 242.1L1326.5 242.4L1327 241.7L1327.4 240.7L1327.9 240.7L1328.3 240.7L1328.8 241.9L1329.2 242.8L1329.6 241.8L1330.1 239.9L1330.5 238.6L1331 238.2L1331.4 238L1331.9 236.8L1332.3 235.1L1332.8 233.3L1333.2 233.5L1333.7 233.9L1334.1 234.4L1334.6 234.7L1335 232.8L1335.5 232.3L1335.9 233.3L1336.4 232.9L1336.8 233.1L1337.3 233.6L1337.7 233.3L1338.1 233.1L1338.6 234.6L1339 234.8L1339.5 232.9L1339.9 233L1340.4 233.9L1340.8 232.9L1341.3 231.9L1341.7 232.5L1342.2 233.2L1342.6 232.5L1343.1 232.9L1343.5 233L1344 232.6L1344.4 233.3L1344.9 233.9L1345.3 233.9L1345.8 232.6L1346.2 230.9L1346.6 231.6L1347.1 232L1347.5 231.1L1348 229.7L1348.4 229.9L1348.9 229L1349.3 227.8L1349.8 228.2L1350.2 226.7L1350.7 225.9L1351.1 226.4L1351.6 226.3L1352 226.5L1352.5 226.5L1352.9 227.1L1353.4 227.9L1353.8 228.2L1354.3 229.3L1354.7 229.6L1355.1 229.3L1355.6 230.8L1356 231.5L1356.5 231.7L1356.9 232.8L1357.4 233.2L1357.8 231.5L1358.3 229.4L1358.7 229.9L1359.2 229.9L1359.6 229.6L1360.1 229.7L1360.5 229.8L1361 230.7L1361.4 229.7L1361.9 228.9L1362.3 229.2L1362.8 229.4L1363.2 229.2L1363.6 228L1364.1 226.6L1364.5 224.9L1365 222.5L1365.4 222.9L1365.9 225L1366.3 225.5L1366.8 226.8L1367.2 226L1367.7 223.3L1368.1 224.3L1368.6 225.7L1369 223.3L1369.5 222.3L1369.9 221.8L1370.4 221.3L1370.8 221.2L1371.3 221.5L1371.7 221.6L1372.1 220.6L1372.6 220.6L1373 220.2L1373.5 220.7L1373.9 220.3L1374.4 219.2L1374.8 219L1375.3 218.3L1375.7 218.5L1376.2 219.1L1376.6 217.7L1377.1 218.9L1377.5 219.4L1378 218.8L1378.4 219.7L1378.9 219L1379.3 217.2L1379.8 217.9L1380.2 218L1380.6 217.2L1381.1 218L1381.5 217.8L1382 215.5L1382.4 214.3L1382.9 215.6L1383.3 214.9L1383.8 213.7L1384.2 213.5L1384.7 212.9L1385.1 214.9L1385.6 215.8L1386 213.3L1386.5 214.1L1386.9 214.1L1387.4 213.8L1387.8 214.1L1388.3 215.2L1388.7 214.6L1389.1 213.1L1389.6 212.4L1390 213.8L1390.5 214.8L1390.9 213.7L1391.4 214.2L1391.8 213.7L1392.3 212.5L1392.7 214.4L1393.2 215.8L1393.6 217.7L1394.1 217.2L1394.5 214.6L1395 213.1L1395.4 211.9L1395.9 212.3L1396.3 214.2L1396.8 214.2L1397.2 213.8L1397.6 214.6L1398.1 216.1L1398.5 216.5L1399 215.6L1399.4 215.3L1399.9 216.6L1400.3 217L1400.8 213.7L1401.2 213.6L1401.7 215.9L1402.1 217.2L1402.6 218.6L1403 219.5L1403.5 218.9L1403.9 216.4L1404.4 215.9L1404.8 215.9L1405.3 216.3L1405.7 215.9L1406.1 215.1L1406.6 213.4L1407 212.8L1407.5 212L1407.9 211.3L1408.4 210.5L1408.8 210.3L1409.3 211.7L1409.7 211.8L1410.2 210.6L1410.6 207.4L1411.1 205.3L1411.5 206.3L1412 207.8L1412.4 209.1L1412.9 209.7L1413.3 209.9L1413.8 209.5L1414.2 207.8L1414.6 205.6L1415.1 204.4L1415.5 204.6L1416 203.3L1416.4 202.7L1416.9 203.6L1417.3 203.8L1417.8 203.1L1418.2 202.1L1418.7 202.6L1419.1 201.8L1419.6 199.8L1420 198L1420.5 196.7L1420.9 197L1421.4 198.3L1421.8 196.9L1422.3 197L1422.7 196.1L1423.1 194.8L1423.6 194.4L1424 194.9L1424.5 195.7L1424.9 194.9L1425.4 192.6L1425.8 189.8L1426.3 189.9L1426.7 192.1L1427.2 189.7L1427.6 188.3L1428.1 189.3L1428.5 188.1L1429 189L1429.4 189.4L1429.9 188.4L1430.3 186.8L1430.8 183.6L1431.2 182.5L1431.7 183.3L1432.1 183.7L1432.5 183.6L1433 183.2L1433.4 181L1433.9 179.8L1434.3 181.9L1434.8 183.2L1435.2 185L1435.7 186.2L1436.1 184.6L1436.6 183.4L1437 182.7L1437.5 183.9L1437.9 184.3L1438.4 184.3L1438.8 184L1439.3 182.8L1439.7 183.9L1440.2 185.3L1440.6 185L1441 182.4L1441.5 184.1L1441.9 186.7L1442.4 185.2L1442.8 185.7L1443.3 189.6L1443.7 191.3L1444.2 189.1L1444.6 187.6L1445.1 188.1L1445.5 188.9L1446 189.2L1446.4 190.1L1446.9 191.7L1447.3 192.5L1447.8 192.5L1448.2 191.1L1448.7 189.7L1449.1 190.5L1449.5 189.6L1450 187.5L1450.4 186.7L1450.9 186.4L1451.3 185.3L1451.8 184.4L1452.2 184.6L1452.7 183.8L1453.1 181.5L1453.6 179.8L1454 178.5L1454.5 179.2L1454.9 180.4L1455.4 180.6L1455.8 179.4L1456.3 178L1456.7 177.2L1457.2 177.1L1457.6 176.3L1458 176.9L1458.5 176.6L1458.9 175.9L1459.4 176.4L1459.8 176.6L1460.3 176.5L1460.7 175.9L1461.2 176.8L1461.6 177.7L1462.1 176.5L1462.5 175.2L1463 173.3L1463.4 171.5L1463.9 170.1L1464.3 170.6L1464.8 170.5L1465.2 170L1465.7 168L1466.1 168.5L1466.5 170.1L1467 169.5L1467.4 167.3L1467.9 169L1468.3 172.1L1468.8 170.5L1469.2 166.3L1469.7 162.2L1470.1 163L1470.6 165L1471 164.9L1471.5 164.6L1471.9 164L1472.4 162.7L1472.8 161L1473.3 159.6L1473.7 161.5L1474.2 159.5L1474.6 158.2L1475 159.7L1475.5 159.3L1475.9 157.8L1476.4 155.9L1476.8 155.8L1477.3 155.4L1477.7 153.4L1478.2 153.3L1478.6 153.6L1479.1 153.5L1479.5 152.9L1480 153.5L1480.4 156.1L1480.9 158.3L1481.3 159.6L1481.8 159L1482.2 157.9L1482.7 158.3L1483.1 160.7L1483.5 163.4L1484 167.4L1484.4 169.2L1484.9 167.3L1485.3 163.2L1485.8 161.4L1486.2 161.6L1486.7 161.8L1487.1 162.6L1487.6 160.4L1488 157.8L1488.5 157.1L1488.9 156.4L1489.4 153.7L1489.8 152.4L1490.3 150.8L1490.7 151.2L1491.2 153.5L1491.6 157" stroke="#3b528b" stroke-width="5.8"/>
<path d="M1178.5 631.8L1178.9 630.7L1179.4 629.5L1179.8 628.4L1180.3 627.2L1180.7 626.1L1181.2 624.9L1181.6 623.7L1182.1 622.6L1182.5 621.4L1183 620.3L1183.4 619.1L1183.9 618L1184.3 616.8L1184.8 615.6L1185.2 614.5L1185.7 613.3L1186.1 612.1L1186.6 611L1187 609.8L1187.5 608.6L1187.9 607.4L1188.4 606.3L1188.8 605.1L1189.3 603.9L1189.7 602.7L1190.2 601.5L1190.6 600.4L1191 599.2L1191.5 598L1191.9 596.8L1192.4 595.6L1192.8 594.4L1193.3 593.2L1193.7 592.1L1194.2 590.9L1194.6 589.7L1195.1 588.5L1195.5 587.3L1196 586.1L1196.4 584.9L1196.9 583.7L1197.3 582.5L1197.8 581.3L1198.2 580.1L1198.7 578.9L1199.1 577.7L1199.6 576.5L1200 575.2L1200.5 574L1200.9 572.8L1201.4 571.6L1201.8 570.4L1202.3 569.2L1202.7 567.9L1203.2 566.7L1203.6 565.5L1204 564.3L1204.5 563L1204.9 561.8L1205.4 560.6L1205.8 559.3L1206.3 558.1L1206.7 556.8L1207.2 555.6L1207.6 554.4L1208.1 553.1L1208.5 551.9L1209 550.7L1209.4 549.4L1209.9 548.2L1210.3 546.9L1210.8 545.7L1211.2 544.5L1211.7 543.2L1212.1 542L1212.6 540.7L1213 539.5L1213.5 538.3L1213.9 537L1214.4 535.8L1214.8 534.5L1215.3 533.3L1215.7 532.1L1216.1 530.8L1216.6 529.6L1217 528.3L1217.5 527.1L1217.9 525.8L1218.4 524.6L1218.8 523.3L1219.3 522.1L1219.7 520.8L1220.2 519.6L1220.6 518.3L1221.1 517L1221.5 515.8L1222 514.5L1222.4 513.3L1222.9 512L1223.3 510.8L1223.8 509.5L1224.2 508.2L1224.7 507L1225.1 505.7L1225.6 504.5L1226 503.2L1226.5 502L1226.9 500.7L1227.4 499.5L1227.8 498.2L1228.3 497L1228.7 495.7L1229.1 494.5L1229.6 493.2L1230 492L1230.5 490.8L1230.9 489.5L1231.4 488.3L1231.8 487.1L1232.3 485.9L1232.7 484.6L1233.2 483.4L1233.6 482.2L1234.1 481L1234.5 479.8L1235 478.6L1235.4 477.4L1235.9 476.2L1236.3 475L1236.8 473.8L1237.2 472.7L1237.7 471.5L1238.1 470.3L1238.6 469.1L1239 468L1239.5 466.8L1239.9 465.6L1240.4 464.5L1240.8 463.3L1241.2 462.1L1241.7 461L1242.1 459.8L1242.6 458.7L1243 457.5L1243.5 456.4L1243.9 455.2L1244.4 454.1L1244.8 452.9L1245.3 451.8L1245.7 450.7L1246.2 449.5L1246.6 448.4L1247.1 447.2L1247.5 446.1L1248 445L1248.4 443.8L1248.9 442.7L1249.3 441.5L1249.8 440.4L1250.2 439.3L1250.7 438.1L1251.1 437L1251.6 435.9L1252 434.7L1252.5 433.6L1252.9 432.5L1253.4 431.3L1253.8 430.2L1254.2 429L1254.7 427.9L1255.1 426.7L1255.6 425.6L1256 424.5L1256.5 423.3L1256.9 422.2L1257.4 421L1257.8 419.9L1258.3 418.7L1258.7 417.6L1259.2 416.5L1259.6 415.3L1260.1 414.2L1260.5 413L1261 411.9L1261.4 410.8L1261.9 409.6L1262.3 408.5L1262.8 407.4L1263.2 406.2L1263.7 405.1L1264.1 404L1264.6 402.9L1265 401.8L1265.5 400.6L1265.9 399.5L1266.3 398.4L1266.8 397.3L1267.2 396.2L1267.7 395.1L1268.1 394L1268.6 392.9L1269 391.8L1269.5 390.7L1269.9 389.6L1270.4 388.6L1270.8 387.5L1271.3 386.4L1271.7 385.4L1272.2 384.3L1272.6 383.2L1273.1 382.2L1273.5 381.2L1274 380.1L1274.4 379.1L1274.9 378.1L1275.3 377.1L1275.8 376.1L1276.2 375.1L1276.7 374.1L1277.1 373.2L1277.6 372.2L1278 371.2L1278.5 370.3L1278.9 369.3L1279.3 368.4L1279.8 367.4L1280.2 366.5L1280.7 365.5L1281.1 364.6L1281.6 363.7L1282 362.7L1282.5 361.8L1282.9 360.8L1283.4 359.9L1283.8 359L1284.3 358L1284.7 357.1L1285.2 356.1L1285.6 355.2L1286.1 354.2L1286.5 353.3L1287 352.3L1287.4 351.3L1287.9 350.3L1288.3 349.3L1288.8 348.4L1289.2 347.4L1289.7 346.3L1290.1 345.3L1290.6 344.3L1291 343.3L1291.4 342.2L1291.9 341.1L1292.3 340.1L1292.8 339L1293.2 337.9L1293.7 336.8L1294.1 335.6L1294.6 334.4L1295 333.2L1295.5 331.9L1295.9 330.6L1296.4 329.3L1296.8 328.1L1297.3 326.8L1297.7 325.7L1298.2 324.6L1298.6 323.5L1299.1 322.4L1299.5 321.4L1300 320.4L1300.4 319.3L1300.9 318.3L1301.3 317.3L1301.8 316.3L1302.2 315.4L1302.7 314.4L1303.1 313.4L1303.6 312.5L1304 311.6L1304.4 310.7L1304.9 309.8L1305.3 308.9L1305.8 308L1306.2 307.1L1306.7 306.3L1307.1 305.5L1307.6 304.6L1308 303.8L1308.5 303L1308.9 302.2L1309.4 301.5L1309.8 300.7L1310.3 299.9L1310.7 299.2L1311.2 298.4L1311.6 297.7L1312.1 296.9L1312.5 296.2L1313 295.5L1313.4 294.8L1313.9 294L1314.3 293.4L1314.8 292.7L1315.2 292L1315.7 291.3L1316.1 290.7L1316.5 290L1317 289.4L1317.4 288.7L1317.9 288.1L1318.3 287.5L1318.8 286.9L1319.2 286.4L1319.7 285.8L1320.1 285.2L1320.6 284.7L1321 284.2L1321.5 283.7L1321.9 283.2L1322.4 282.7L1322.8 282.2L1323.3 281.7L1323.7 281.2L1324.2 280.7L1324.6 280.2L1325.1 279.8L1325.5 279.3L1326 278.9L1326.4 278.4L1326.9 278L1327.3 277.6L1327.8 277.1L1328.2 276.7L1328.7 276.3L1329.1 275.9L1329.5 275.5L1330 275.1L1330.4 274.7L1330.9 274.3L1331.3 273.9L1331.8 273.6L1332.2 273.2L1332.7 272.8L1333.1 272.5L1333.6 272.1L1334 271.8L1334.5 271.5L1334.9 271.1L1335.4 270.8L1335.8 270.5L1336.3 270.2L1336.7 269.9L1337.2 269.6L1337.6 269.3L1338.1 269L1338.5 268.7L1339 268.5L1339.4 268.2L1339.9 267.9L1340.3 267.7L1340.8 267.4L1341.2 267.2L1341.6 266.9L1342.1 266.7L1342.5 266.5L1343 266.2L1343.4 266L1343.9 265.8L1344.3 265.6L1344.8 265.3L1345.2 265.1L1345.7 264.9L1346.1 264.7L1346.6 264.5L1347 264.2L1347.5 264L1347.9 263.8L1348.4 263.6L1348.8 263.4L1349.3 263.1L1349.7 262.9L1350.2 262.7L1350.6 262.5L1351.1 262.2L1351.5 262L1352 261.7L1352.4 261.5L1352.9 261.3L1353.3 261L1353.8 260.7L1354.2 260.5L1354.6 260.2L1355.1 259.9L1355.5 259.7L1356 259.4L1356.4 259.1L1356.9 258.8L1357.3 258.5L1357.8 258.1L1358.2 257.8L1358.7 257.5L1359.1 257.2L1359.6 256.8L1360 256.5L1360.5 256.1L1360.9 255.8L1361.4 255.4L1361.8 255L1362.3 254.7L1362.7 254.3L1363.2 253.9L1363.6 253.5L1364.1 253.1L1364.5 252.8L1365 252.4L1365.4 252L1365.9 251.6L1366.3 251.2L1366.7 250.8L1367.2 250.4L1367.6 250L1368.1 249.6L1368.5 249.2L1369 248.8L1369.4 248.4L1369.9 248L1370.3 247.6L1370.8 247.1L1371.2 246.7L1371.7 246.3L1372.1 245.9L1372.6 245.4L1373 245L1373.5 244.5L1373.9 244.1L1374.4 243.6L1374.8 243.2L1375.3 242.7L1375.7 242.3L1376.2 241.8L1376.6 241.3L1377.1 240.9L1377.5 240.4L1378 239.9L1378.4 239.5L1378.9 239L1379.3 238.5L1379.7 238.1L1380.2 237.6L1380.6 237.1L1381.1 236.6L1381.5 236.2L1382 235.7L1382.4 235.2L1382.9 234.8L1383.3 234.3L1383.8 233.9L1384.2 233.5L1384.7 233L1385.1 232.5L1385.6 232L1386 231.6L1386.5 231.2L1386.9 230.7L1387.4 230.4L1387.8 230.1L1388.3 229.7L1388.7 229.2L1389.2 228.7L1389.6 228.3L1390.1 227.9L1390.5 227.4L1391 226.9L1391.4 226.8L1391.8 226.6L1392.3 226.2L1392.7 225.6L1393.2 225.3L1393.6 225L1394.1 224.7L1394.5 224.3L1395 224.1L1395.4 223.8L1395.9 223.5L1396.3 223L1396.8 222.4L1397.2 222.2L1397.7 222.2L1398.1 221.8L1398.6 221.4L1399 220.9L1399.5 220.3L1399.9 220.1L1400.4 219.9L1400.8 219.6L1401.3 219L1401.7 218.2L1402.2 217.6L1402.6 216.9L1403.1 216.5L1403.5 216.2L1404 215.8L1404.4 215.3L1404.8 214.7L1405.3 213.9L1405.7 213.4L1406.2 212.7L1406.6 211.7L1407.1 210.9L1407.5 210.5L1408 210L1408.4 209.3L1408.9 208.3L1409.3 207.5L1409.8 206.9L1410.2 206.4L1410.7 205.8L1411.1 205.2L1411.6 204.1L1412 203.1L1412.5 201.4L1412.9 200.9L1413.4 200.2L1413.8 199.5L1414.3 198.2L1414.7 197.1L1415.2 195.6L1415.6 194.6L1416.1 194.3L1416.5 193.5L1416.9 192.6L1417.4 192.3L1417.8 191.3L1418.3 190.5L1418.7 189.3L1419.2 188.6L1419.6 188.5L1420.1 188.1L1420.5 187.8L1421 187.1L1421.4 187.2L1421.9 187L1422.3 186.7L1422.8 186.8L1423.2 186.6L1423.7 186.4L1424.1 186.6L1424.6 186.5L1425 186.5L1425.5 186.6L1425.9 186.3L1426.4 186.1L1426.8 185.9L1427.3 186.1L1427.7 186.1L1428.2 185.6L1428.6 185.2L1429.1 185.4L1429.5 186.1L1429.9 187L1430.4 187.3L1430.8 187.5L1431.3 188.2L1431.7 188.8L1432.2 189L1432.6 188.7L1433.1 189L1433.5 189.1L1434 188.6L1434.4 188.6L1434.9 188.3L1435.3 188.4L1435.8 188.1L1436.2 187.2L1436.7 186.8L1437.1 186.7L1437.6 186.5L1438 186L1438.5 185.5L1438.9 184.7L1439.4 184.2L1439.8 184.1L1440.3 183.6L1440.7 182.8L1441.2 182.3L1441.6 182.1L1442 181.5L1442.5 180.2L1442.9 179.1L1443.4 178.8L1443.8 179L1444.3 177.9L1444.7 177.2L1445.2 177.6L1445.6 177.7L1446.1 176.8L1446.5 176.6L1447 176.4L1447.4 177L1447.9 178.1L1448.3 178.1L1448.8 177.9L1449.2 178.3L1449.7 178.7L1450.1 178.7L1450.6 178.6L1451 179.4L1451.5 180.8L1451.9 181L1452.4 181.5L1452.8 181.8L1453.3 182.7L1453.7 183.1L1454.2 183.4L1454.6 184L1455 183.5L1455.5 183.4L1455.9 183.4L1456.4 183.6L1456.8 183.9L1457.3 183.9L1457.7 184.5L1458.2 184.8L1458.6 183.6L1459.1 183L1459.5 183.1L1460 183.6L1460.4 184.1L1460.9 183.9L1461.3 183.4L1461.8 183.3L1462.2 183.2L1462.7 181.6L1463.1 180.7L1463.6 181L1464 180.9L1464.5 180.4L1464.9 179.7L1465.4 179.4L1465.8 179.6L1466.3 179.6L1466.7 179.6L1467.1 179.9L1467.6 181L1468 181.6L1468.5 181.9L1468.9 181.3L1469.4 181.3L1469.8 181.5L1470.3 181.8L1470.7 182L1471.2 181.8L1471.6 181.5L1472.1 182.4L1472.5 182.9L1473 182.2L1473.4 182.8L1473.9 183.8L1474.3 184.1L1474.8 183.7L1475.2 183.9L1475.7 184.5L1476.1 184L1476.6 182.9L1477 182.7L1477.5 183.2L1477.9 183L1478.4 182.4L1478.8 182.5L1479.3 183L1479.7 183.2L1480.1 183.6L1480.6 183.9L1481 184.7L1481.5 186.7L1481.9 187.9L1482.4 188.1L1482.8 187.7L1483.3 187.8L1483.7 188.1L1484.2 187.5L1484.6 186L1485.1 185.6L1485.5 184.6L1486 183.7L1486.4 183L1486.9 182.7L1487.3 181.1L1487.8 179.5L1488.2 178.3L1488.7 176.2L1489.1 173.9L1489.6 171.9L1490 169.8L1490.5 167.7L1490.9 165.4L1491.4 162.3L1491.8 159.2" stroke="#21918c" stroke-width="5.8"/>
<path d="M1290 631.8L1291 629.3L1292 626.7L1293 624.2L1294.1 621.6L1295.1 619L1296.1 616.5L1297.1 613.9L1298.1 611.3L1299.1 608.7L1300.1 606.1L1301.2 603.5L1302.2 601L1303.2 598.4L1304.2 595.7L1305.2 593.1L1306.2 590.5L1307.2 587.9L1308.3 585.3L1309.3 582.7L1310.3 580L1311.3 577.4L1312.3 574.8L1313.3 572.1L1314.3 569.5L1315.4 566.8L1316.4 564.2L1317.4 561.5L1318.4 558.9L1319.4 556.2L1320.4 553.5L1321.4 550.8L1322.5 548.2L1323.5 545.5L1324.5 542.8L1325.5 540.1L1326.5 537.4L1327.5 534.8L1328.5 532.1L1329.5 529.4L1330.6 526.7L1331.6 524L1332.6 521.3L1333.6 518.5L1334.6 515.8L1335.6 513.1L1336.6 510.4L1337.7 507.7L1338.7 505L1339.7 502.2L1340.7 499.5L1341.7 496.8L1342.7 494L1343.7 491.3L1344.8 488.6L1345.8 485.8L1346.8 483.1L1347.8 480.3L1348.8 477.6L1349.8 474.8L1350.8 472L1351.9 469.2L1352.9 466.4L1353.9 463.5L1354.9 460.7L1355.9 457.8L1356.9 454.9L1357.9 452.1L1359 449.2L1360 446.4L1361 443.5L1362 440.7L1363 437.9L1364 435.1L1365 432.4L1366.1 429.6L1367.1 426.9L1368.1 424.3L1369.1 421.6L1370.1 419L1371.1 416.4L1372.1 413.8L1373.2 411.2L1374.2 408.7L1375.2 406.1L1376.2 403.6L1377.2 401.1L1378.2 398.6L1379.2 396.1L1380.3 393.6L1381.3 391.1L1382.3 388.6L1383.3 386.1L1384.3 383.6L1385.3 381.2L1386.3 378.7L1387.4 376.3L1388.4 373.8L1389.4 371.4L1390.4 368.9L1391.4 366.5L1392.4 364.1L1393.4 361.7L1394.4 359.4L1395.5 357L1396.5 354.7L1397.5 352.3L1398.5 350L1399.5 347.6L1400.5 345.3L1401.5 342.9L1402.6 340.5L1403.6 338.2L1404.6 335.8L1405.6 333.4L1406.6 331L1407.6 328.5L1408.6 326.1L1409.7 323.6L1410.7 321.1L1411.7 318.6L1412.7 316L1413.7 313.4L1414.7 310.8L1415.7 308.2L1416.8 305.7L1417.8 303.2L1418.8 300.7L1419.8 298.3L1420.8 296L1421.8 293.6L1422.8 291.2L1423.9 288.9L1424.9 286.6L1425.9 284.3L1426.9 282.1L1427.9 280L1428.9 277.9L1429.9 276L1431 274.1L1432 272.3L1433 270.5L1434 268.7L1435 267L1436 265.4L1437 263.8L1438.1 262.3L1439.1 260.9L1440.1 259.5L1441.1 258.3L1442.1 257.1L1443.1 255.9L1444.1 254.8L1445.2 253.7L1446.2 252.7L1447.2 251.7L1448.2 250.8L1449.2 249.9L1450.2 249.1L1451.2 248.3L1452.3 247.6L1453.3 246.9L1454.3 246.2L1455.3 245.5L1456.3 244.9L1457.3 244.3L1458.3 243.7L1459.3 243.2L1460.4 242.7L1461.4 242.3L1462.4 241.8L1463.4 241.4L1464.4 241.1L1465.4 240.7L1466.4 240.4L1467.5 240.1L1468.5 239.8L1469.5 239.5L1470.5 239.2L1471.5 238.9L1472.5 238.5L1473.5 238.2L1474.6 237.8L1475.6 237.5L1476.6 237.1L1477.6 236.7L1478.6 236.4L1479.6 236L1480.6 235.6L1481.7 235.2L1482.7 234.7L1483.7 234.3L1484.7 233.7L1485.7 233.2L1486.7 232.6L1487.7 231.9L1488.8 231.2L1489.8 230.4L1490.8 229.6L1491.8 228.8" stroke="#5ec962" stroke-width="5.8"/>
<path d="M1337 162.5L1491.6 94.6" stroke="#ffa500" stroke-width="5.8" stroke-dasharray="21.2 9.1"/>
<path d="M1027.8 454.2L1491.6 46.4" stroke="#800080" stroke-width="5.8" stroke-dasharray="21.2 9.1"/>
<path d="M1150.9 631.8L1229 425.8" stroke="#ff0000" stroke-width="5.8" stroke-dasharray="21.2 9.1"/>
</g>
<rect x="907.2" y="20.0" width="612.8" height="611.8" fill="none" stroke="#000" stroke-width="3.9"/>
<g class="tk">
<text transform="translate(899 646.1) scale(1 0.985)" text-anchor="end">10<tspan dy="-14.8" font-size="26.8">−2</tspan></text>
<text transform="translate(899 442.2) scale(1 0.985)" text-anchor="end">10<tspan dy="-14.8" font-size="26.8">−1</tspan></text>
<text transform="translate(897.4 238.2) scale(1 0.985)" text-anchor="end">10<tspan dy="-14.8" font-size="26.8">0</tspan></text>
<text transform="translate(897.4 34.3) scale(1 0.985)" text-anchor="end">10<tspan dy="-14.8" font-size="26.8">1</tspan></text>
<text transform="translate(1042.4 667) scale(1 0.985)" text-anchor="middle">10<tspan dy="-14.8" font-size="26.8">−1</tspan></text>
<text transform="translate(1196.4 667) scale(1 0.985)" text-anchor="middle">10<tspan dy="-14.8" font-size="26.8">0</tspan></text>
<text transform="translate(1351 667) scale(1 0.985)" text-anchor="middle">10<tspan dy="-14.8" font-size="26.8">1</tspan></text>
<text transform="translate(1505.6 667) scale(1 0.985)" text-anchor="middle">10<tspan dy="-14.8" font-size="26.8">2</tspan></text>
</g>
<g transform="translate(0 717.5)" stroke="#fff" stroke-width="0.22"><text class="m i" font-size="46" transform="translate(368.61 0) scale(1.24 1.12)">t</text><text class="m" font-size="46" transform="translate(403.33 0.7) scale(0.88 1.15)">(</text><text class="m i" font-size="46" transform="translate(419.7 0) scale(1.19 0.96)">μ</text><text class="m" font-size="46" transform="translate(446 0) scale(1.02 0.95)">s</text><text class="m" font-size="46" transform="translate(465.17 0.7) scale(0.95 1.15)">)</text></g>
<g transform="translate(0 717.5)" stroke="#fff" stroke-width="0.22"><text class="m i" font-size="46" transform="translate(1155.91 0) scale(1.24 1.12)">t</text><text class="m" font-size="46" transform="translate(1190.63 0.7) scale(0.88 1.15)">(</text><text class="m i" font-size="46" transform="translate(1207 0) scale(1.19 0.96)">μ</text><text class="m" font-size="46" transform="translate(1233.3 0) scale(1.02 0.95)">s</text><text class="m" font-size="46" transform="translate(1252.47 0.7) scale(0.95 1.15)">)</text></g>
<g transform="translate(34.9 438) rotate(-90)" stroke="#fff" stroke-width="0.22"><text class="m i" font-size="46" transform="translate(-0.58 0) scale(1.15 1.09)">S</text><text class="m i" font-size="34.5" stroke="none" transform="translate(25.5 8.2) scale(1.06 1)">x</text><text class="m" font-size="46" transform="translate(46.43 0.7) scale(0.83 1.15)">(</text><text class="m i" font-size="46" transform="translate(61.32 0) scale(1.19 1.12)">t</text><text class="m" font-size="46" transform="translate(81.23 0.7) scale(0.91 1.15)">)</text><text class="m" font-size="46" transform="translate(100.2 11.5) scale(1.3 1.55)">/</text><text class="m i" font-size="46" transform="translate(122.1 0) scale(1.21 1.09)">S</text><text class="m i" font-size="34.5" stroke="none" transform="translate(149.38 8.2) scale(1.01 1)">x</text><text class="m" font-size="46" transform="translate(170.96 0.7) scale(0.97 1.15)">(</text><text class="m" font-size="46" transform="translate(187.45 0) scale(1.06 1.06)">0</text><text class="m" font-size="46" transform="translate(211.03 0.7) scale(0.91 1.15)">)</text></g>
<g transform="translate(792.9 489.4) rotate(-90)" stroke="#fff" stroke-width="0.22"><text class="m" font-size="46" transform="translate(-2.93 1.5) scale(1.3 1)">−</text><text class="m" font-size="46" transform="translate(0 0) scale(1.03 0.97)" x="30.72 43.58 64.93">log</text><text class="m i" font-size="46" transform="translate(100.87 0) scale(1.15 1.09)">S</text><text class="m i" font-size="34.5" stroke="none" transform="translate(126.95 8.2) scale(1.06 1)">x</text><text class="m" font-size="46" transform="translate(147.88 0.7) scale(0.83 1.15)">(</text><text class="m i" font-size="46" transform="translate(162.77 0) scale(1.19 1.12)">t</text><text class="m" font-size="46" transform="translate(182.68 0.7) scale(0.91 1.15)">)</text><text class="m" font-size="46" transform="translate(201.65 11.5) scale(1.3 1.55)">/</text><text class="m i" font-size="46" transform="translate(223.55 0) scale(1.21 1.09)">S</text><text class="m i" font-size="34.5" stroke="none" transform="translate(250.83 8.2) scale(1.01 1)">x</text><text class="m" font-size="46" transform="translate(272.41 0.7) scale(0.97 1.15)">(</text><text class="m" font-size="46" transform="translate(288.9 0) scale(1.06 1.06)">0</text><text class="m" font-size="46" transform="translate(312.48 0.7) scale(0.91 1.15)">)</text></g>
<path d="M141.9 474.4H201.3" stroke="#440154" stroke-width="5.7" fill="none"/><g transform="translate(0 482.7)"><text class="m i" font-size="26" transform="translate(218.96 0) scale(1.24 1)">r</text><text class="m" font-size="18.6" transform="translate(231.8 4.5) scale(1.07 1)">min</text><text class="m" font-size="26" transform="translate(269.05 1.8) scale(1.45 1)">=</text><text class="m" font-size="26" transform="translate(294.24 0) scale(1.06 1)">0.1</text><text class="m" font-size="26" transform="translate(336.31 0) scale(1.1 1)">nm</text></g><path d="M141.9 513.73H201.3" stroke="#3b528b" stroke-width="5.7" fill="none"/><g transform="translate(0 521.97)"><text class="m i" font-size="26" transform="translate(218.96 0) scale(1.24 1)">r</text><text class="m" font-size="18.6" transform="translate(231.8 4.5) scale(1.07 1)">min</text><text class="m" font-size="26" transform="translate(269.05 1.8) scale(1.45 1)">=</text><text class="m" font-size="26" transform="translate(295.06 0) scale(1.07 1)">4</text><text class="m" font-size="26" transform="translate(315.62 0) scale(1.09 1)">nm</text></g><path d="M141.9 553.06H201.3" stroke="#21918c" stroke-width="5.7" fill="none"/><g transform="translate(0 561.24)"><text class="m i" font-size="26" transform="translate(218.96 0) scale(1.24 1)">r</text><text class="m" font-size="18.6" transform="translate(231.8 4.5) scale(1.07 1)">min</text><text class="m" font-size="26" transform="translate(269.05 1.8) scale(1.45 1)">=</text><text class="m" font-size="26" transform="translate(294.65 0) scale(1.15 1)">8</text><text class="m" font-size="26" transform="translate(315.62 0) scale(1.09 1)">nm</text></g><path d="M141.9 592.39H201.3" stroke="#5ec962" stroke-width="5.7" fill="none"/><g transform="translate(0 600.51)"><text class="m i" font-size="26" transform="translate(218.96 0) scale(1.24 1)">r</text><text class="m" font-size="18.6" transform="translate(231.8 4.5) scale(1.07 1)">min</text><text class="m" font-size="26" transform="translate(269.05 1.8) scale(1.45 1)">=</text><text class="m" font-size="26" transform="translate(294.5 0) scale(1.02 1)">16</text><text class="m" font-size="26" transform="translate(329.51 0) scale(1.1 1)">nm</text></g>
<path d="M934.2 60H996" stroke="#ffa500" stroke-width="5.7" stroke-dasharray="21.2 9.1" fill="none"/><g transform="translate(0 70.9)"><text class="m i" font-size="30.6" transform="translate(1020.78 0) scale(1.02 1)">p</text><text class="m" font-size="30.6" transform="translate(1040.15 2.2) scale(1.45 1)">=</text><text class="m" font-size="30.6" transform="translate(1069.07 0) scale(1.04 1)">1</text><text class="m" font-size="30.6" transform="translate(1086.69 7.6) scale(1.45 1.5)">/</text><text class="m" font-size="30.6" transform="translate(1099.92 0) scale(1.05 1)">3</text></g><path d="M934.2 106H996" stroke="#800080" stroke-width="5.7" stroke-dasharray="21.2 9.1" fill="none"/><g transform="translate(0 117.1)"><text class="m i" font-size="30.6" transform="translate(1020.78 0) scale(1.02 1)">p</text><text class="m" font-size="30.6" transform="translate(1040.15 2.2) scale(1.45 1)">=</text><text class="m" font-size="30.6" transform="translate(1069.52 0) scale(1.08 1)">2</text><text class="m" font-size="30.6" transform="translate(1086.69 7.6) scale(1.45 1.5)">/</text><text class="m" font-size="30.6" transform="translate(1099.92 0) scale(1.05 1)">3</text></g><path d="M934.2 152.4H996" stroke="#ff0000" stroke-width="5.7" stroke-dasharray="21.2 9.1" fill="none"/><g transform="translate(0 162.6)"><text class="m i" font-size="30.6" transform="translate(1020.78 0) scale(1.02 1)">p</text><text class="m" font-size="30.6" transform="translate(1040.15 2.2) scale(1.45 1)">=</text><text class="m" font-size="30.6" transform="translate(1069.52 0) scale(1.08 1)">2</text></g>
</svg></body></html>
